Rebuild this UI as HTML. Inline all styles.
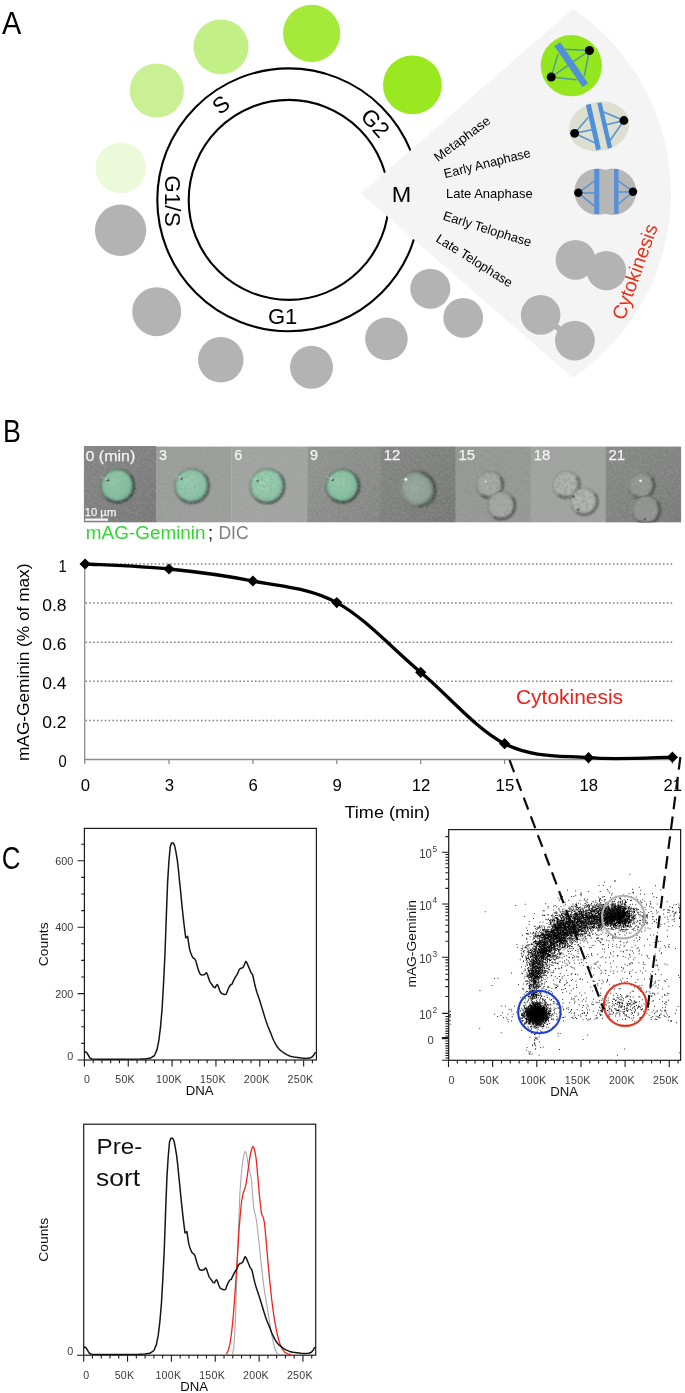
<!DOCTYPE html>
<html><head><meta charset="utf-8"><title>Figure</title>
<style>
html,body{margin:0;padding:0;background:#fff;}
body{width:685px;height:1393px;overflow:hidden;}
svg{display:block;will-change:transform;font-family:"Liberation Sans",sans-serif;}
</style></head><body>
<svg width="685" height="1393" viewBox="0 0 685 1393">
<rect width="685" height="1393" fill="#fff"/>
<defs>
  <filter id="mblur" x="-20%" y="-20%" width="140%" height="140%"><feGaussianBlur stdDeviation="0.7"/></filter>
  <filter id="cblur" x="-30%" y="-30%" width="160%" height="160%"><feGaussianBlur stdDeviation="1.0"/></filter>
  <filter id="cblur3" x="-20%" y="-20%" width="140%" height="140%"><feGaussianBlur stdDeviation="0.8"/></filter>
  <filter id="cblur2" x="-20%" y="-20%" width="140%" height="140%"><feGaussianBlur stdDeviation="0.6"/></filter>
  <filter id="noise" x="0" y="0" width="100%" height="100%">
    <feTurbulence type="fractalNoise" baseFrequency="0.42" numOctaves="2" seed="7" result="t"/>
    <feColorMatrix in="t" type="matrix" values="0 0 0 0 0.5  0 0 0 0 0.5  0 0 0 0 0.5  1.6 0 0 0 -0.55"/>
  </filter>
  <filter id="mottle" x="0" y="0" width="100%" height="100%">
    <feTurbulence type="fractalNoise" baseFrequency="0.33" numOctaves="3" seed="11" result="t"/>
    <feColorMatrix in="t" type="matrix" values="0 0 0 0 0.25  0 0 0 0 0.50  0 0 0 0 0.37  5.5 0 0 0 -2.4"/>
  </filter>
  <filter id="mottle2" x="0" y="0" width="100%" height="100%">
    <feTurbulence type="fractalNoise" baseFrequency="0.28" numOctaves="3" seed="23" result="t"/>
    <feColorMatrix in="t" type="matrix" values="0 0 0 0 0.30  0 0 0 0 0.31  0 0 0 0 0.30  4.2 0 0 0 -1.85"/>
  </filter>
  <linearGradient id="vig" x1="0" y1="0" x2="1" y2="1">
    <stop offset="0" stop-color="#fff" stop-opacity="0.04"/><stop offset="1" stop-color="#000" stop-opacity="0.07"/>
  </linearGradient>
  <radialGradient id="gg1" cx="0.4" cy="0.4" r="0.62"><stop offset="0" stop-color="#8fcaa8"/><stop offset="0.75" stop-color="#80bc9b"/><stop offset="1" stop-color="#6a9f85"/></radialGradient>
  <radialGradient id="gg2" cx="0.4" cy="0.4" r="0.62"><stop offset="0" stop-color="#98d2b0"/><stop offset="0.75" stop-color="#89c3a3"/><stop offset="1" stop-color="#75a88e"/></radialGradient>
  <radialGradient id="gg3" cx="0.4" cy="0.4" r="0.62"><stop offset="0" stop-color="#9dd6b5"/><stop offset="0.75" stop-color="#8fc8a8"/><stop offset="1" stop-color="#7bae94"/></radialGradient>
  <radialGradient id="gg4" cx="0.4" cy="0.4" r="0.62"><stop offset="0" stop-color="#92cdab"/><stop offset="0.75" stop-color="#83be9d"/><stop offset="1" stop-color="#6da288"/></radialGradient>
  <radialGradient id="gg5" cx="0.4" cy="0.4" r="0.62"><stop offset="0" stop-color="#96aca1"/><stop offset="0.75" stop-color="#8a9e94"/><stop offset="1" stop-color="#76867e"/></radialGradient>
</defs>

<!-- ===== Panel A ===== -->
<g id="panelA">
  <text x="2.1" y="34.3" font-size="30.5" textLength="19.3" lengthAdjust="spacingAndGlyphs">A</text>
  <!-- ring -->
  <circle cx="288.7" cy="199.8" r="131.4" fill="none" stroke="#000" stroke-width="2.1"/>
  <circle cx="288.7" cy="199.9" r="100" fill="none" stroke="#000" stroke-width="2.1"/>
  <!-- ring labels -->
  <text x="282.6" y="324.3" font-size="22" text-anchor="middle">G1</text>
  <text transform="translate(220.7,104.5) rotate(-38)" font-size="22.5" text-anchor="middle" y="8">S</text>
  <text transform="translate(172.5,201) rotate(90)" font-size="22.5" text-anchor="middle" y="8">G1/S</text>
  <text transform="translate(375.5,122.8) rotate(48)" font-size="22.5" text-anchor="middle" y="8">G2</text>
  <!-- cells around ring -->
  <circle cx="120.8" cy="167.8" r="25.3" fill="#ecfada"/>
  <circle cx="156.8" cy="90.5" r="27.1" fill="#c9f193"/>
  <circle cx="221" cy="46.9" r="27.5" fill="#c2ef86"/>
  <circle cx="311.6" cy="33.3" r="28.6" fill="#a5e93a"/>
  <circle cx="412.4" cy="84.9" r="29.4" fill="#9ae81f"/>
  <g fill="#b3b3b3">
    <circle cx="120.6" cy="230.3" r="25.7"/>
    <circle cx="156.7" cy="311.7" r="24.5"/>
    <circle cx="220.8" cy="359.8" r="22.8"/>
    <circle cx="311.5" cy="367.3" r="21.5"/>
    <circle cx="386.4" cy="338.9" r="21.3"/>
    <circle cx="430.3" cy="288.7" r="20.05"/>
    <circle cx="463.2" cy="317.8" r="19.9"/>
  </g>
  <!-- wedge -->
  <path d="M360.9,193.4 L573,8.8 A223,223 0 0 1 573,378 Z" fill="#f4f4f4"/>
  <text x="391.8" y="201.8" font-size="21.8" textLength="19.5" lengthAdjust="spacingAndGlyphs">M</text>
  <g font-size="13">
    <text transform="translate(438.1,162.2) rotate(-36.7)" textLength="66.5" lengthAdjust="spacingAndGlyphs">Metaphase</text>
    <text transform="translate(445.1,178.3) rotate(-14)" textLength="88.8" lengthAdjust="spacingAndGlyphs">Early Anaphase</text>
    <text x="446.0" y="198.2" textLength="86.6" lengthAdjust="spacingAndGlyphs">Late Anaphase</text>
    <text transform="translate(442.3,219.5) rotate(17.3)" textLength="91.6" lengthAdjust="spacingAndGlyphs">Early Telophase</text>
    <text transform="translate(435.0,240.9) rotate(32.2)" textLength="87.6" lengthAdjust="spacingAndGlyphs">Late Telophase</text>
  </g>
  <text transform="translate(624.3,321) rotate(-70.3)" font-size="19.5" fill="#e8301a" textLength="100" lengthAdjust="spacingAndGlyphs">Cytokinesis</text>
  <!-- metaphase cell -->
  <circle cx="571.35" cy="65.7" r="30.6" fill="#94e61e"/>
  <g stroke="#4f9aa0" stroke-width="1.5" fill="none">
    <path d="M589.4,50.5 L565.1,49.2 M589.4,50.5 L551.2,77.1 M589.4,50.5 L584.3,76 M551.2,77.1 L558,54.1 M551.2,77.1 L576.6,79.8"/>
  </g>
  <path d="M554.2,45.9 L560.2,42.3 L588.1,83.3 L582.6,86.9 Z" fill="#4f8fdc"/>
  <circle cx="589.4" cy="50.5" r="4.5"/><circle cx="551.2" cy="77.1" r="4.5"/>
  <!-- early anaphase cell -->
  <ellipse cx="599.05" cy="126.5" rx="30.6" ry="24.6" fill="#dde0d1" transform="rotate(-14 599.05 126.5)"/>
  <g stroke="#5592d6" stroke-width="1.5" fill="none">
    <path d="M574.6,133.3 L588.3,117.2 M574.6,133.3 L592.1,129.8 M574.6,133.3 L594.8,142.9 M623.9,120.5 L603.1,111.7 M623.9,120.5 L606.3,124.8 M623.9,120.5 L610.2,140.2"/>
  </g>
  <path d="M585.9,104.9 L590.7,103.8 L600.9,148.9 L596.2,150.6 Z M597.3,102.9 L601.6,102.4 L612.1,147.3 L607.8,148.7 Z" fill="#4f8fdc"/>
  <circle cx="623.9" cy="120.5" r="4.4"/><circle cx="574.6" cy="133.3" r="4.4"/>
  <!-- late anaphase cell -->
  <g fill="#b7b7b7"><circle cx="597.6" cy="191.7" r="23.2"/><circle cx="613" cy="191.7" r="23.2"/></g>
  <g stroke="#5592d6" stroke-width="1.5" fill="none">
    <path d="M578.3,192.8 L594.4,181 M578.3,192.8 L594.4,193 M578.3,192.8 L594.4,206.2 M633,191.7 L618.5,181 M633,191.7 L618.5,191.9 M633,191.7 L618.5,204"/>
  </g>
  <path d="M594.2,169 h5.1 v44.8 h-5.1 Z M614.1,169 h4.4 v44.8 h-4.4 Z" fill="#558fd8"/>
  <circle cx="578.3" cy="192.8" r="4.2"/><circle cx="633" cy="191.7" r="4.2"/>
  <!-- telophase cells -->
  <g fill="#b3b3b3">
    <circle cx="575.5" cy="259.8" r="19.9"/>
    <circle cx="606.4" cy="270.6" r="19.7"/>
    <circle cx="540.65" cy="314.9" r="19.8"/>
    <circle cx="574.9" cy="340.6" r="19.9"/>
  </g>
  <path d="M540.65,314.9 L574.9,340.6" stroke="#b3b3b3" stroke-width="6"/>
</g>
<text x="2.9" y="441.7" font-size="30.5" textLength="17.9" lengthAdjust="spacingAndGlyphs">B</text>
<text x="1.8" y="869" font-size="30.5" textLength="18.7" lengthAdjust="spacingAndGlyphs">C</text>

<!-- ===== Panel B strip ===== -->
<clipPath id="stripclip"><rect x="83.7" y="445.9" width="597.6" height="76.7"/></clipPath>
<g id="panelBstrip"><g clip-path="url(#stripclip)">
<rect x="83.7" y="445.9" width="72.7" height="76.7" fill="#7d7e7d"/>
<rect x="156.1" y="446.6" width="75.5" height="76.0" fill="#9a9c9a"/>
<rect x="231.3" y="446.6" width="76.2" height="76.0" fill="#a1a3a1"/>
<rect x="307.2" y="446.6" width="73.9" height="76.0" fill="#8b8d8b"/>
<rect x="380.8" y="446.6" width="75.1" height="76.0" fill="#7c7e7c"/>
<rect x="455.6" y="446.6" width="75.5" height="76.0" fill="#949694"/>
<rect x="530.8" y="446.6" width="75.1" height="76.0" fill="#a0a2a0"/>
<rect x="605.6" y="446.6" width="75.7" height="76.0" fill="#808280"/>
<rect x="83.7" y="445.9" width="72.4" height="76.7" fill="url(#vig)"/>
<rect x="307.2" y="446.6" width="73.6" height="76.0" fill="url(#vig)"/>
<rect x="380.8" y="446.6" width="74.8" height="76.0" fill="url(#vig)"/>
<rect x="605.6" y="446.6" width="75.4" height="76.0" fill="url(#vig)"/>
<g><ellipse cx="118.0" cy="486.40000000000003" rx="16.9" ry="16.9" fill="#3c443f" opacity="0.55" filter="url(#cblur)"/><ellipse cx="116.2" cy="484.6" rx="16.3" ry="16.3" fill="#cfe0d6" opacity="0.45" filter="url(#cblur)"/><ellipse cx="117.2" cy="485.6" rx="16.0" ry="16.0" fill="url(#gg1)" filter="url(#cblur2)"/><clipPath id="cc1"><ellipse cx="117.2" cy="485.6" rx="15.7" ry="15.7"/></clipPath><rect x="100.2" y="468.6" width="34.0" height="34.0" clip-path="url(#cc1)" filter="url(#mottle)" opacity="0.8"/><ellipse cx="117.2" cy="485.6" rx="16.3" ry="16.3" fill="none" stroke="#34503f" stroke-width="2.0" opacity="0.61" filter="url(#cblur3)"/><path d="M129.84,474.99 A16.5,16.5 0 0 1 106.59,498.24" fill="none" stroke="#26322b" stroke-width="2.4" opacity="0.39" filter="url(#cblur)"/></g>
<g><ellipse cx="192.4" cy="486.5" rx="17.299999999999997" ry="17.299999999999997" fill="#3c443f" opacity="0.45" filter="url(#cblur)"/><ellipse cx="190.6" cy="484.7" rx="16.7" ry="16.7" fill="#cfe0d6" opacity="0.45" filter="url(#cblur)"/><ellipse cx="191.6" cy="485.7" rx="16.4" ry="16.4" fill="url(#gg2)" filter="url(#cblur2)"/><clipPath id="cc2"><ellipse cx="191.6" cy="485.7" rx="16.099999999999998" ry="16.099999999999998"/></clipPath><rect x="174.2" y="468.3" width="34.8" height="34.8" clip-path="url(#cc2)" filter="url(#mottle)" opacity="0.8"/><ellipse cx="191.6" cy="485.7" rx="16.7" ry="16.7" fill="none" stroke="#34503f" stroke-width="2.0" opacity="0.50" filter="url(#cblur3)"/><path d="M204.55,474.84 A16.9,16.9 0 0 1 180.74,498.65" fill="none" stroke="#26322b" stroke-width="2.4" opacity="0.32" filter="url(#cblur)"/></g>
<g><ellipse cx="267.8" cy="486.6" rx="17.5" ry="17.5" fill="#3c443f" opacity="0.45" filter="url(#cblur)"/><ellipse cx="266.0" cy="484.8" rx="16.900000000000002" ry="16.900000000000002" fill="#cfe0d6" opacity="0.45" filter="url(#cblur)"/><ellipse cx="267.0" cy="485.8" rx="16.6" ry="16.6" fill="url(#gg3)" filter="url(#cblur2)"/><clipPath id="cc3"><ellipse cx="267.0" cy="485.8" rx="16.3" ry="16.3"/></clipPath><rect x="249.4" y="468.2" width="35.2" height="35.2" clip-path="url(#cc3)" filter="url(#mottle)" opacity="0.8"/><ellipse cx="267.0" cy="485.8" rx="16.900000000000002" ry="16.900000000000002" fill="none" stroke="#34503f" stroke-width="2.0" opacity="0.50" filter="url(#cblur3)"/><path d="M280.10,474.81 A17.1,17.1 0 0 1 256.01,498.90" fill="none" stroke="#26322b" stroke-width="2.4" opacity="0.32" filter="url(#cblur)"/></g>
<g><ellipse cx="343.1" cy="486.6" rx="16.9" ry="16.9" fill="#3c443f" opacity="0.55" filter="url(#cblur)"/><ellipse cx="341.3" cy="484.8" rx="16.3" ry="16.3" fill="#cfe0d6" opacity="0.45" filter="url(#cblur)"/><ellipse cx="342.3" cy="485.8" rx="16.0" ry="16.0" fill="url(#gg4)" filter="url(#cblur2)"/><clipPath id="cc4"><ellipse cx="342.3" cy="485.8" rx="15.7" ry="15.7"/></clipPath><rect x="325.3" y="468.8" width="34.0" height="34.0" clip-path="url(#cc4)" filter="url(#mottle)" opacity="0.8"/><ellipse cx="342.3" cy="485.8" rx="16.3" ry="16.3" fill="none" stroke="#34503f" stroke-width="2.0" opacity="0.61" filter="url(#cblur3)"/><path d="M354.94,475.19 A16.5,16.5 0 0 1 331.69,498.44" fill="none" stroke="#26322b" stroke-width="2.4" opacity="0.39" filter="url(#cblur)"/></g>
<g transform="rotate(-40 418.0 489.0)"><ellipse cx="418.8" cy="489.8" rx="16.7" ry="18.299999999999997" fill="#3c443f" opacity="0.6" filter="url(#cblur)"/><ellipse cx="417.0" cy="488.0" rx="16.1" ry="17.7" fill="#cfe0d6" opacity="0.45" filter="url(#cblur)"/><ellipse cx="418.0" cy="489.0" rx="15.8" ry="17.4" fill="url(#gg5)" filter="url(#cblur2)"/><clipPath id="cc5"><ellipse cx="418.0" cy="489.0" rx="15.5" ry="17.099999999999998"/></clipPath><rect x="401.2" y="470.6" width="33.6" height="36.8" clip-path="url(#cc5)" filter="url(#mottle2)" opacity="0.4"/><ellipse cx="418.0" cy="489.0" rx="16.1" ry="17.7" fill="none" stroke="#3a403c" stroke-width="2.0" opacity="0.33" filter="url(#cblur3)"/><path d="M430.49,478.52 A16.3,16.3 0 0 1 407.52,501.49" fill="none" stroke="#26322b" stroke-width="2.4" opacity="0.42" filter="url(#cblur)"/></g>
<path d="M107.3,479.7 l-6.5,-3.2" stroke="#c9ccc9" stroke-width="1.8" opacity="0.3" filter="url(#cblur2)"/>
<circle cx="107.8" cy="480.2" r="1.4" fill="#465048" opacity="0.9" filter="url(#cblur2)"/>
<circle cx="106.89999999999999" cy="479.3" r="0.8" fill="#e6efe9" opacity="0.9" filter="url(#cblur2)"/>
<path d="M181.1,478.1 l-6.5,-3.2" stroke="#c9ccc9" stroke-width="1.8" opacity="0.3" filter="url(#cblur2)"/>
<circle cx="181.6" cy="478.6" r="1.4" fill="#465048" opacity="0.9" filter="url(#cblur2)"/>
<circle cx="180.7" cy="477.70000000000005" r="0.8" fill="#e6efe9" opacity="0.9" filter="url(#cblur2)"/>
<path d="M256.9,480.1 l-6.5,-3.2" stroke="#c9ccc9" stroke-width="1.8" opacity="0.3" filter="url(#cblur2)"/>
<circle cx="257.4" cy="480.6" r="1.4" fill="#465048" opacity="0.9" filter="url(#cblur2)"/>
<circle cx="256.5" cy="479.70000000000005" r="0.8" fill="#e6efe9" opacity="0.9" filter="url(#cblur2)"/>
<path d="M332.1,479.3 l-6.5,-3.2" stroke="#c9ccc9" stroke-width="1.8" opacity="0.3" filter="url(#cblur2)"/>
<circle cx="332.6" cy="479.8" r="1.4" fill="#465048" opacity="0.9" filter="url(#cblur2)"/>
<circle cx="331.70000000000005" cy="478.90000000000003" r="0.8" fill="#e6efe9" opacity="0.9" filter="url(#cblur2)"/>
<circle cx="405.8" cy="479.2" r="1.5" fill="#f4f8f4" filter="url(#cblur2)"/>
<circle cx="489.6" cy="484.6" r="12.899999999999999" fill="#a6a8a6" filter="url(#cblur2)"/><clipPath id="cc6"><circle cx="489.6" cy="484.6" r="12.6"/></clipPath><rect x="475.40000000000003" y="470.40000000000003" width="28.4" height="28.4" clip-path="url(#cc6)" filter="url(#mottle2)" opacity="0.6"/><circle cx="489.6" cy="484.6" r="13.2" fill="none" stroke="#3c3e3c" stroke-width="1.7" opacity="0.38" filter="url(#cblur3)"/><path d="M500.41,477.03 A13.2,13.2 0 0 1 482.03,495.41" fill="none" stroke="#262826" stroke-width="2.6" opacity="0.52" filter="url(#cblur)"/><path d="M476.35,489.42 A14.1,14.1 0 0 1 494.42,471.35" fill="none" stroke="#e2e4e2" stroke-width="1.5" opacity="0.25" filter="url(#cblur3)"/>
<circle cx="501.2" cy="505.4" r="13.299999999999999" fill="#a5a7a5" filter="url(#cblur2)"/><clipPath id="cc7"><circle cx="501.2" cy="505.4" r="13.0"/></clipPath><rect x="486.59999999999997" y="490.79999999999995" width="29.2" height="29.2" clip-path="url(#cc7)" filter="url(#mottle2)" opacity="0.6"/><circle cx="501.2" cy="505.4" r="13.6" fill="none" stroke="#3c3e3c" stroke-width="1.7" opacity="0.38" filter="url(#cblur3)"/><path d="M512.34,497.60 A13.6,13.6 0 0 1 493.40,516.54" fill="none" stroke="#262826" stroke-width="2.6" opacity="0.52" filter="url(#cblur)"/><path d="M487.57,510.36 A14.5,14.5 0 0 1 506.16,491.77" fill="none" stroke="#e2e4e2" stroke-width="1.5" opacity="0.25" filter="url(#cblur3)"/>
<circle cx="566.0" cy="484.4" r="12.899999999999999" fill="#b0b2b0" filter="url(#cblur2)"/><clipPath id="cc8"><circle cx="566.0" cy="484.4" r="12.6"/></clipPath><rect x="551.8" y="470.2" width="28.4" height="28.4" clip-path="url(#cc8)" filter="url(#mottle2)" opacity="0.6"/><circle cx="566.0" cy="484.4" r="13.2" fill="none" stroke="#3c3e3c" stroke-width="1.7" opacity="0.33" filter="url(#cblur3)"/><path d="M576.81,476.83 A13.2,13.2 0 0 1 558.43,495.21" fill="none" stroke="#262826" stroke-width="2.6" opacity="0.45" filter="url(#cblur)"/><path d="M552.75,489.22 A14.1,14.1 0 0 1 570.82,471.15" fill="none" stroke="#e2e4e2" stroke-width="1.5" opacity="0.25" filter="url(#cblur3)"/>
<circle cx="584.0" cy="501.4" r="12.899999999999999" fill="#b1b3b1" filter="url(#cblur2)"/><clipPath id="cc9"><circle cx="584.0" cy="501.4" r="12.6"/></clipPath><rect x="569.8" y="487.2" width="28.4" height="28.4" clip-path="url(#cc9)" filter="url(#mottle2)" opacity="0.6"/><circle cx="584.0" cy="501.4" r="13.2" fill="none" stroke="#3c3e3c" stroke-width="1.7" opacity="0.33" filter="url(#cblur3)"/><path d="M594.81,493.83 A13.2,13.2 0 0 1 576.43,512.21" fill="none" stroke="#262826" stroke-width="2.6" opacity="0.45" filter="url(#cblur)"/><path d="M570.75,506.22 A14.1,14.1 0 0 1 588.82,488.15" fill="none" stroke="#e2e4e2" stroke-width="1.5" opacity="0.25" filter="url(#cblur3)"/>
<circle cx="641.2" cy="485.2" r="12.5" fill="#909290" filter="url(#cblur2)"/><clipPath id="cc10"><circle cx="641.2" cy="485.2" r="12.200000000000001"/></clipPath><rect x="627.4000000000001" y="471.4" width="27.6" height="27.6" clip-path="url(#cc10)" filter="url(#mottle2)" opacity="0.6"/><circle cx="641.2" cy="485.2" r="12.8" fill="none" stroke="#3c3e3c" stroke-width="1.7" opacity="0.38" filter="url(#cblur3)"/><path d="M651.69,477.86 A12.8,12.8 0 0 1 633.86,495.69" fill="none" stroke="#262826" stroke-width="2.6" opacity="0.52" filter="url(#cblur)"/><path d="M628.33,489.89 A13.700000000000001,13.700000000000001 0 0 1 645.89,472.33" fill="none" stroke="#e2e4e2" stroke-width="1.5" opacity="0.25" filter="url(#cblur3)"/>
<circle cx="646.0" cy="509.8" r="13.5" fill="#8f918f" filter="url(#cblur2)"/><clipPath id="cc11"><circle cx="646.0" cy="509.8" r="13.200000000000001"/></clipPath><rect x="631.2" y="495.0" width="29.6" height="29.6" clip-path="url(#cc11)" filter="url(#mottle2)" opacity="0.6"/><circle cx="646.0" cy="509.8" r="13.8" fill="none" stroke="#3c3e3c" stroke-width="1.7" opacity="0.38" filter="url(#cblur3)"/><path d="M657.30,501.88 A13.8,13.8 0 0 1 638.08,521.10" fill="none" stroke="#262826" stroke-width="2.6" opacity="0.52" filter="url(#cblur)"/><path d="M632.19,514.83 A14.700000000000001,14.700000000000001 0 0 1 651.03,495.99" fill="none" stroke="#e2e4e2" stroke-width="1.5" opacity="0.25" filter="url(#cblur3)"/>
<circle cx="485.8" cy="481.6" r="1.2" fill="#eceeec" opacity="0.75" filter="url(#cblur2)"/>
<circle cx="640.6" cy="480.8" r="1.4" fill="#f2f4f2" filter="url(#cblur2)"/>
<circle cx="573.5" cy="496.5" r="1.6" fill="#4e504e" opacity="0.7" filter="url(#cblur2)"/>
<circle cx="578.0" cy="509.5" r="1.6" fill="#4e504e" opacity="0.7" filter="url(#cblur2)"/>
<circle cx="644.8" cy="519.0" r="1.6" fill="#4e504e" opacity="0.7" filter="url(#cblur2)"/>
<rect x="83.7" y="445.9" width="597.6" height="76.7" filter="url(#noise)" opacity="0.32"/>
</g>
<text x="85.5" y="460.6" font-size="14.9" fill="#f4f4f4" stroke="#f4f4f4" stroke-width="0.25" textLength="49.8" lengthAdjust="spacingAndGlyphs">0 (min)</text>
<text x="159.0" y="460.3" font-size="15.2" fill="#f4f4f4" stroke="#f4f4f4" stroke-width="0.25" textLength="8.0" lengthAdjust="spacingAndGlyphs">3</text>
<text x="234.2" y="460.3" font-size="15.2" fill="#f4f4f4" stroke="#f4f4f4" stroke-width="0.25" textLength="8.0" lengthAdjust="spacingAndGlyphs">6</text>
<text x="310.1" y="460.3" font-size="15.2" fill="#f4f4f4" stroke="#f4f4f4" stroke-width="0.25" textLength="8.0" lengthAdjust="spacingAndGlyphs">9</text>
<text x="383.7" y="460.3" font-size="15.2" fill="#f4f4f4" stroke="#f4f4f4" stroke-width="0.25" textLength="16.6" lengthAdjust="spacingAndGlyphs">12</text>
<text x="458.5" y="460.3" font-size="15.2" fill="#f4f4f4" stroke="#f4f4f4" stroke-width="0.25" textLength="16.6" lengthAdjust="spacingAndGlyphs">15</text>
<text x="533.7" y="460.3" font-size="15.2" fill="#f4f4f4" stroke="#f4f4f4" stroke-width="0.25" textLength="16.6" lengthAdjust="spacingAndGlyphs">18</text>
<text x="608.5" y="460.3" font-size="15.2" fill="#f4f4f4" stroke="#f4f4f4" stroke-width="0.25" textLength="16.6" lengthAdjust="spacingAndGlyphs">21</text>
<rect x="85.2" y="518.5" width="22.8" height="2.3" fill="#f4f4f4"/>
<text x="84.7" y="515.7" font-size="10.8" fill="#f4f4f4" stroke="#f4f4f4" stroke-width="0.25" textLength="31.6" lengthAdjust="spacingAndGlyphs">10 µm</text>
<text x="85.8" y="538.9" font-size="18.3" fill="#30d830" textLength="119.8" lengthAdjust="spacingAndGlyphs">mAG-Geminin</text>
<text x="208" y="538.9" font-size="18.3" fill="#111">;</text>
<text x="218.4" y="538.9" font-size="18.3" fill="#7f7f7f" textLength="30.3" lengthAdjust="spacingAndGlyphs">DIC</text>
</g>
<!-- ===== Panel B chart ===== -->
<g id="panelBchart">
<line x1="85.5" y1="720.4" x2="674.5" y2="720.4" stroke="#7c7c7c" stroke-width="1.5" stroke-dasharray="1.5 2.35"/>
<line x1="85.5" y1="681.3" x2="674.5" y2="681.3" stroke="#7c7c7c" stroke-width="1.5" stroke-dasharray="1.5 2.35"/>
<line x1="85.5" y1="642.2" x2="674.5" y2="642.2" stroke="#7c7c7c" stroke-width="1.5" stroke-dasharray="1.5 2.35"/>
<line x1="85.5" y1="603.1" x2="674.5" y2="603.1" stroke="#7c7c7c" stroke-width="1.5" stroke-dasharray="1.5 2.35"/>
<line x1="85.5" y1="564.0" x2="674.5" y2="564.0" stroke="#7c7c7c" stroke-width="1.5" stroke-dasharray="1.5 2.35"/>
<line x1="84.7" y1="563" x2="84.7" y2="764.0" stroke="#8e8e8e" stroke-width="1.3"/>
<line x1="84.1" y1="759.5" x2="674.5" y2="759.5" stroke="#8e8e8e" stroke-width="1.3"/>
<line x1="169.0" y1="759.0" x2="169.0" y2="764.0" stroke="#8e8e8e" stroke-width="1.3"/>
<line x1="252.9" y1="759.0" x2="252.9" y2="764.0" stroke="#8e8e8e" stroke-width="1.3"/>
<line x1="336.8" y1="759.0" x2="336.8" y2="764.0" stroke="#8e8e8e" stroke-width="1.3"/>
<line x1="420.7" y1="759.0" x2="420.7" y2="764.0" stroke="#8e8e8e" stroke-width="1.3"/>
<line x1="504.6" y1="759.0" x2="504.6" y2="764.0" stroke="#8e8e8e" stroke-width="1.3"/>
<line x1="588.5" y1="759.0" x2="588.5" y2="764.0" stroke="#8e8e8e" stroke-width="1.3"/>
<line x1="672.4" y1="759.0" x2="672.4" y2="764.0" stroke="#8e8e8e" stroke-width="1.3"/>
<text x="58.4" y="767.0" font-size="15.8" textLength="8.2" lengthAdjust="spacingAndGlyphs">0</text>
<text x="42.2" y="727.9" font-size="15.8" textLength="24.4" lengthAdjust="spacingAndGlyphs">0.2</text>
<text x="42.2" y="688.8" font-size="15.8" textLength="24.4" lengthAdjust="spacingAndGlyphs">0.4</text>
<text x="42.2" y="649.7" font-size="15.8" textLength="24.4" lengthAdjust="spacingAndGlyphs">0.6</text>
<text x="42.2" y="610.6" font-size="15.8" textLength="24.4" lengthAdjust="spacingAndGlyphs">0.8</text>
<text x="58.4" y="571.5" font-size="15.8" textLength="8.2" lengthAdjust="spacingAndGlyphs">1</text>
<text x="80.7" y="790.8" font-size="16.3" textLength="9.3" lengthAdjust="spacingAndGlyphs">0</text>
<text x="164.7" y="790.8" font-size="16.3" textLength="9.3" lengthAdjust="spacingAndGlyphs">3</text>
<text x="248.6" y="790.8" font-size="16.3" textLength="9.3" lengthAdjust="spacingAndGlyphs">6</text>
<text x="332.5" y="790.8" font-size="16.3" textLength="9.3" lengthAdjust="spacingAndGlyphs">9</text>
<text x="411.7" y="790.8" font-size="16.3" textLength="18.6" lengthAdjust="spacingAndGlyphs">12</text>
<text x="495.6" y="790.8" font-size="16.3" textLength="18.6" lengthAdjust="spacingAndGlyphs">15</text>
<text x="579.5" y="790.8" font-size="16.3" textLength="18.6" lengthAdjust="spacingAndGlyphs">18</text>
<text x="663.4" y="790.8" font-size="16.3" textLength="18.6" lengthAdjust="spacingAndGlyphs">21</text>
<text x="344.5" y="818" font-size="16.5" textLength="85.5" lengthAdjust="spacingAndGlyphs">Time (min)</text>
<text transform="translate(28.7,761) rotate(-90)" font-size="16.8" textLength="197.5" lengthAdjust="spacingAndGlyphs">mAG-Geminin (% of max)</text>
<text x="516" y="704" font-size="20" fill="#e8201a" textLength="107" lengthAdjust="spacingAndGlyphs">Cytokinesis</text>
<path d="M85.1,564.0 C99.1,564.8 141.0,566.2 169.0,569.0 C197.0,571.8 224.9,575.4 252.9,581.0 C280.9,586.6 308.8,587.4 336.8,602.6 C364.8,617.8 392.7,648.8 420.7,672.3 C448.7,695.8 476.6,729.5 504.6,743.7 C532.6,757.9 560.5,755.5 588.5,757.7 C616.5,760.0 658.4,757.3 672.4,757.2" fill="none" stroke="#000" stroke-width="3.3" stroke-linejoin="round" stroke-linecap="round"/>
<g filter="url(#mblur)">
<path d="M79.5,564.0 L85.1,558.4 L90.7,564.0 L85.1,569.6 Z" fill="#000"/>
<path d="M163.4,569.0 L169.0,563.4 L174.6,569.0 L169.0,574.6 Z" fill="#000"/>
<path d="M247.3,581.0 L252.9,575.4 L258.5,581.0 L252.9,586.6 Z" fill="#000"/>
<path d="M331.2,602.6 L336.8,597.0 L342.4,602.6 L336.8,608.2 Z" fill="#000"/>
<path d="M415.1,672.3 L420.7,666.7 L426.3,672.3 L420.7,677.9 Z" fill="#000"/>
<path d="M499.0,743.7 L504.6,738.1 L510.2,743.7 L504.6,749.3 Z" fill="#000"/>
<path d="M582.9,757.7 L588.5,752.1 L594.1,757.7 L588.5,763.3 Z" fill="#000"/>
<path d="M666.8,757.2 L672.4,751.6 L678.0,757.2 L672.4,762.8 Z" fill="#000"/>
</g>
</g>
<!-- ===== Panel C hist1 ===== -->
<g id="hist1">
<rect x="84.4" y="828.4" width="232.0" height="231.6" fill="#fff" stroke="#1a1a1a" stroke-width="1.2"/>
<path d="M84.40,1060.0 v6.6 M93.17,1060.0 v3.2 M101.94,1060.0 v3.2 M110.71,1060.0 v3.2 M119.48,1060.0 v3.2 M128.25,1060.0 v6.6 M137.02,1060.0 v3.2 M145.79,1060.0 v3.2 M154.56,1060.0 v3.2 M163.33,1060.0 v3.2 M172.10,1060.0 v6.6 M180.87,1060.0 v3.2 M189.64,1060.0 v3.2 M198.41,1060.0 v3.2 M207.18,1060.0 v3.2 M215.95,1060.0 v6.6 M224.72,1060.0 v3.2 M233.49,1060.0 v3.2 M242.26,1060.0 v3.2 M251.03,1060.0 v3.2 M259.80,1060.0 v6.6 M268.57,1060.0 v3.2 M277.34,1060.0 v3.2 M286.11,1060.0 v3.2 M294.88,1060.0 v3.2 M303.65,1060.0 v6.6 M312.42,1060.0 v3.2 M84.4,1060.00 h-6.8 M84.4,1043.40 h-3.2 M84.4,1026.80 h-3.2 M84.4,1010.20 h-3.2 M84.4,993.60 h-6.8 M84.4,977.00 h-3.2 M84.4,960.40 h-3.2 M84.4,943.80 h-3.2 M84.4,927.20 h-6.8 M84.4,910.60 h-3.2 M84.4,894.00 h-3.2 M84.4,877.40 h-3.2 M84.4,860.80 h-6.8 M84.4,844.20 h-3.2" stroke="#1a1a1a" stroke-width="1.1" fill="none"/>
<text x="84.0" y="1083.3" font-size="10.6" fill="#3a3a3a" textLength="5.9" lengthAdjust="spacing">0</text>
<text x="115.3" y="1083.3" font-size="10.6" fill="#3a3a3a" textLength="19.4" lengthAdjust="spacing">50K</text>
<text x="156.1" y="1083.3" font-size="10.6" fill="#3a3a3a" textLength="25.6" lengthAdjust="spacing">100K</text>
<text x="200.0" y="1083.3" font-size="10.6" fill="#3a3a3a" textLength="25.6" lengthAdjust="spacing">150K</text>
<text x="243.8" y="1083.3" font-size="10.6" fill="#3a3a3a" textLength="25.6" lengthAdjust="spacing">200K</text>
<text x="287.6" y="1083.3" font-size="10.6" fill="#3a3a3a" textLength="25.6" lengthAdjust="spacing">250K</text>
<text x="73.2" y="1060.2" font-size="10.8" fill="#3a3a3a" text-anchor="end">0</text>
<text x="73.2" y="997.5" font-size="10.8" fill="#3a3a3a" text-anchor="end">200</text>
<text x="73.2" y="931.1" font-size="10.8" fill="#3a3a3a" text-anchor="end">400</text>
<text x="73.2" y="864.7" font-size="10.8" fill="#3a3a3a" text-anchor="end">600</text>
<text x="199.7" y="1095.4" font-size="13.2" fill="#0a0a0a" text-anchor="middle">DNA</text>
<text transform="translate(48.2,966.2) rotate(-90)" font-size="12.6" fill="#111" textLength="43.8" lengthAdjust="spacingAndGlyphs">Counts</text>

<path d="M84.6,1052.5 L85.5,1051.8 L86.8,1052.6 L88.2,1055.0 L89.8,1057.8 L91.8,1059.0 L100.0,1059.2 L120.0,1059.2 L140.0,1059.1 L145.3,1058.9 L150.5,1058.1 L154.5,1055.5 L157.1,1049.4 L158.9,1040.2 L160.5,1027.1 L162.1,1008.7 L163.6,982.4 L165.0,953.5 L166.3,916.7 L167.6,882.6 L168.9,861.5 L170.2,847.1 L171.5,843.1 L173.4,843.1 L174.7,845.8 L176.0,852.3 L177.3,860.2 L178.4,869.4 L179.4,879.9 L180.5,890.4 L181.5,900.9 L182.6,911.5 L183.6,920.7 L184.7,929.9 L185.7,937.7 L186.8,937.2 L187.6,936.4 L188.4,941.7 L189.4,948.2 L190.5,952.2 L191.8,955.6 L193.1,958.0 L194.7,958.8 L195.7,960.6 L196.8,964.5 L197.8,968.0 L199.1,971.9 L200.4,974.5 L202.5,975.1 L204.6,974.5 L206.2,972.7 L207.3,974.0 L208.3,977.2 L209.6,981.1 L210.9,983.2 L212.3,985.0 L213.6,987.1 L215.2,987.7 L216.2,985.6 L217.3,984.5 L218.3,986.4 L219.4,989.8 L220.9,992.9 L222.8,994.0 L224.6,994.5 L226.2,994.2 L227.5,990.8 L228.8,987.7 L230.4,985.0 L232.0,984.2 L233.3,981.1 L234.6,978.5 L236.2,975.8 L237.8,973.2 L239.1,969.8 L240.4,968.5 L242.0,968.0 L243.3,967.2 L244.6,964.0 L245.9,961.4 L246.9,962.7 L248.3,966.1 L249.6,969.3 L250.9,972.4 L252.5,974.5 L253.5,978.5 L254.6,983.7 L255.6,987.7 L256.9,992.4 L258.2,996.1 L259.8,1000.8 L261.4,1006.1 L263.0,1011.3 L264.6,1016.6 L266.1,1021.3 L267.7,1025.8 L269.3,1029.7 L270.9,1033.6 L272.4,1037.6 L274.0,1041.0 L275.6,1044.2 L277.2,1046.8 L279.3,1049.4 L281.9,1051.5 L284.5,1053.4 L287.2,1054.9 L290.3,1056.2 L293.7,1057.0 L297.7,1057.6 L301.6,1058.1 L305.5,1058.4 L309.5,1058.1 L312.1,1057.0 L314.0,1054.7 L315.5,1052.0" fill="none" stroke="#161616" stroke-width="1.5" stroke-linejoin="round"/>
</g>
<!-- ===== Panel C scatter ===== -->
<g id="scatter">
<rect x="448.7" y="829.6" width="231.9" height="230.7" fill="none" stroke="#1a1a1a" stroke-width="1.2"/>
<path d="M448.50,1060.3 v6.6 M457.33,1060.3 v3.2 M466.16,1060.3 v3.2 M474.99,1060.3 v3.2 M483.82,1060.3 v3.2 M492.65,1060.3 v6.6 M501.48,1060.3 v3.2 M510.31,1060.3 v3.2 M519.14,1060.3 v3.2 M527.97,1060.3 v3.2 M536.80,1060.3 v6.6 M545.63,1060.3 v3.2 M554.46,1060.3 v3.2 M563.29,1060.3 v3.2 M572.12,1060.3 v3.2 M580.95,1060.3 v6.6 M589.78,1060.3 v3.2 M598.61,1060.3 v3.2 M607.44,1060.3 v3.2 M616.27,1060.3 v3.2 M625.10,1060.3 v6.6 M633.93,1060.3 v3.2 M642.76,1060.3 v3.2 M651.59,1060.3 v3.2 M660.42,1060.3 v3.2 M669.25,1060.3 v6.6 M678.08,1060.3 v3.2 M448.7,852.20 h-6.6 M448.7,904.00 h-6.6 M448.7,957.30 h-6.6 M448.7,1013.40 h-6.6 M448.7,888.41 h-3.3 M448.7,879.29 h-3.3 M448.7,872.81 h-3.3 M448.7,867.79 h-3.3 M448.7,863.69 h-3.3 M448.7,860.22 h-3.3 M448.7,857.22 h-3.3 M448.7,854.57 h-3.3 M448.7,941.26 h-3.3 M448.7,931.87 h-3.3 M448.7,925.21 h-3.3 M448.7,920.04 h-3.3 M448.7,915.82 h-3.3 M448.7,912.26 h-3.3 M448.7,909.17 h-3.3 M448.7,906.44 h-3.3 M448.7,996.51 h-3.3 M448.7,986.63 h-3.3 M448.7,979.62 h-3.3 M448.7,974.19 h-3.3 M448.7,969.75 h-3.3 M448.7,965.99 h-3.3 M448.7,962.74 h-3.3 M448.7,959.87 h-3.3 M448.7,836.61 h-3.3 M448.7,1016.50 h-3.3 M448.7,1018.94 h-3.3 M448.7,1021.38 h-3.3 M448.7,1023.81 h-3.3 M448.7,1026.25 h-3.3 M448.7,1028.69 h-3.3 M448.7,1031.12 h-3.3 M448.7,1033.56 h-3.3 M448.7,1036.00 h-3.3 M448.7,1041.00 h-3.3 M448.7,1043.43 h-3.3 M448.7,1045.86 h-3.3 M448.7,1048.29 h-3.3 M448.7,1050.71 h-3.3 M448.7,1053.14 h-3.3 M448.7,1055.57 h-3.3 M448.7,1058.00 h-3.3 M448.7,1060.30 h-6.6" stroke="#1a1a1a" stroke-width="1.1" fill="none"/>
<path d="M448.7,1038.1 h-6.8" stroke="#1a1a1a" stroke-width="2.2" fill="none"/>
<text x="448.4" y="1083.6" font-size="10.6" fill="#3a3a3a" textLength="5.9" lengthAdjust="spacing">0</text>
<text x="479.6" y="1083.6" font-size="10.6" fill="#3a3a3a" textLength="19.4" lengthAdjust="spacing">50K</text>
<text x="520.6" y="1083.6" font-size="10.6" fill="#3a3a3a" textLength="25.6" lengthAdjust="spacing">100K</text>
<text x="564.8" y="1083.6" font-size="10.6" fill="#3a3a3a" textLength="25.6" lengthAdjust="spacing">150K</text>
<text x="608.9" y="1083.6" font-size="10.6" fill="#3a3a3a" textLength="25.6" lengthAdjust="spacing">200K</text>
<text x="653.1" y="1083.6" font-size="10.6" fill="#3a3a3a" textLength="25.6" lengthAdjust="spacing">250K</text>
<text x="419.2" y="858.2" font-size="12.8" fill="#3c3c3c" textLength="12.6" lengthAdjust="spacingAndGlyphs">10</text>
<text x="432.4" y="851.6" font-size="8.4" fill="#3c3c3c">5</text>
<text x="419.2" y="910.0" font-size="12.8" fill="#3c3c3c" textLength="12.6" lengthAdjust="spacingAndGlyphs">10</text>
<text x="432.4" y="903.4" font-size="8.4" fill="#3c3c3c">4</text>
<text x="419.2" y="963.3" font-size="12.8" fill="#3c3c3c" textLength="12.6" lengthAdjust="spacingAndGlyphs">10</text>
<text x="432.4" y="956.7" font-size="8.4" fill="#3c3c3c">3</text>
<text x="419.2" y="1019.4" font-size="12.8" fill="#3c3c3c" textLength="12.6" lengthAdjust="spacingAndGlyphs">10</text>
<text x="432.4" y="1012.8" font-size="8.4" fill="#3c3c3c">2</text>
<text x="427.6" y="1043.6" font-size="11.2" fill="#3c3c3c">0</text>
<text x="564.2" y="1095.7" font-size="13.2" fill="#111" text-anchor="middle">DNA</text>
<text transform="translate(416.2,987.6) rotate(-90)" font-size="13.2" fill="#111" textLength="87.5" lengthAdjust="spacingAndGlyphs">mAG-Geminin</text>
<path d="M449.25 1015.25h.9M449.5 1011.25h.9M449.5 1015.75h.9M449.5 1016.25h.9M449.5 1020.25h.9M449.5 1020.5h.9M449.75 1011.5h.9M449.75 1017.25h.9M450 1014.5h.9M450.25 1024.25h.9M479.25 1028.25h.9M479.5 990.5h.9M484.75 911.75h.9M491.5 985.5h.9M494 978.5h.9M494.25 1014.25h.9M497 1016.5h.9M497.5 978.25h.9M500.5 1015.5h.9M500.75 1032.75h.9M501.25 1006h.9M502 1012.75h.9M503 1017.5h.9M505 1006h.9M506.25 1017.75h.9M507.5 1014.25h.9M507.5 1019.5h.9M507.75 1021.75h.9M508.75 1009.5h.9M510.75 1009.25h.9M511 973h.9M511 1021h.9M511.25 1011h.9M511.75 1016.75h.9M512.75 1014.25h.9M514 1006.25h.9M515.25 905.5h.9M516.25 1012.25h.9M516.5 944.5h.9M517.25 947.25h.9M518 984.5h.9M518.25 1009.25h.9M518.75 1019h.9M519 1008.25h.9M519.75 959.75h.9M519.75 1018.25h.9M520 1010.75h.9M520.25 997.75h.9M520.25 1020h.9M520.5 1018h.9M520.75 948.5h.9M520.75 950.5h.9M520.75 954h.9M520.75 1018.5h.9M521 967h.9M521 1014.5h.9M521.25 953.25h.9M521.25 956h.9M521.25 1008.25h.9M521.25 1015.5h.9M521.25 1023h.9M521.25 1030.25h.9M521.5 973.25h.9M521.5 1013.5h.9M521.5 1021h.9M521.75 973.5h.9M521.75 1009.75h.9M521.75 1014.75h.9M521.75 1015h.9M521.75 1020.5h.9M521.75 1021.5h.9M522 935.25h.9M522 949h.9M522 956.25h.9M522 957h.9M522 988.75h.9M522 1013.75h.9M522 1015.75h.9M522.25 946h.9M522.25 948h.9M522.25 997.25h.9M522.25 1017.5h.9M522.25 1018.5h.9M522.5 1013.25h.9M522.5 1015.75h.9M522.75 951.25h.9M522.75 988.75h.9M522.75 1010.25h.9M522.75 1014.75h.9M522.75 1016h.9M522.75 1020.5h.9M523 951.25h.9M523 955h.9M523 961h.9M523 961.75h.9M523 984h.9M523 1012.25h.9M523.25 1006h.9M523.25 1014.25h.9M523.25 1015.75h.9M523.25 1016h.9M523.25 1017h.9M523.5 952.75h.9M523.5 971.25h.9M523.5 990h.9M523.5 1005.75h.9M523.5 1009h.9M523.5 1011h.9M523.5 1013.25h.9M523.5 1015.75h.9M523.75 978.25h.9M523.75 994.25h.9M523.75 1002.25h.9M523.75 1012h.9M523.75 1015.25h.9M523.75 1017.25h.9M523.75 1024.25h.9M523.75 1026.5h.9M524 1006h.9M524 1007.5h.9M524 1012.25h.9M524 1013.5h.9M524 1014.25h.9M524 1016.5h.9M524.25 916.5h.9M524.25 950.75h.9M524.25 1008.25h.9M524.25 1023.5h.9M524.25 1024.75h.9M524.5 947.75h.9M524.5 969h.9M524.5 976.25h.9M524.5 1003h.9M524.5 1016.25h.9M524.5 1016.75h.9M524.5 1022.5h.9M524.75 904.25h.9M524.75 1009.25h.9M524.75 1012.5h.9M524.75 1018.5h.9M524.75 1023.5h.9M524.75 1027h.9M525 947.5h.9M525 966.25h.9M525 970.25h.9M525 981.25h.9M525 998.75h.9M525 1008h.9M525 1008.5h.9M525 1011.5h.9M525.25 946.5h.9M525.25 956.25h.9M525.25 958h.9M525.25 1005h.9M525.25 1008.5h.9M525.25 1010h.9M525.25 1010.5h.9M525.25 1015.75h.9M525.25 1018.25h.9M525.25 1018.5h.9M525.5 960.25h.9M525.5 992.25h.9M525.5 995.5h.9M525.5 1012.75h.9M525.5 1014h.9M525.5 1018.75h.9M525.5 1022h.9M525.5 1023.75h.9M525.75 947.5h.9M525.75 1008h.9M525.75 1010.5h.9M525.75 1012h.9M525.75 1012.5h.9M525.75 1013.75h.9M525.75 1014.25h.9M525.75 1019.75h.9M525.75 1021.5h.9M525.75 1022.25h.9M526 933.5h.9M526 938.25h.9M526 945.25h.9M526 957h.9M526 959.5h.9M526 962.5h.9M526 991.25h.9M526 1009.5h.9M526 1011.5h.9M526 1012h.9M526 1012.5h.9M526 1012.75h.9M526 1018h.9M526 1018.25h.9M526 1019.5h.9M526 1020.25h.9M526 1050.25h.9M526.25 928h.9M526.25 933.75h.9M526.25 958.5h.9M526.25 980.75h.9M526.25 984.75h.9M526.25 1008.25h.9M526.25 1011h.9M526.25 1011.75h.9M526.25 1014.5h.9M526.25 1014.75h.9M526.25 1015.25h.9M526.25 1019.25h.9M526.25 1019.75h.9M526.25 1020h.9M526.25 1022.75h.9M526.5 939.5h.9M526.5 948.25h.9M526.5 958.25h.9M526.5 964.25h.9M526.5 972.25h.9M526.5 974.25h.9M526.5 975.75h.9M526.5 976.75h.9M526.5 1002.75h.9M526.5 1006.75h.9M526.5 1008.25h.9M526.5 1009.5h.9M526.5 1010.75h.9M526.5 1011.25h.9M526.5 1014h.9M526.5 1014.25h.9M526.5 1015.75h.9M526.5 1016.25h.9M526.5 1020.75h.9M526.5 1022.5h.9M526.5 1047.5h.9M526.75 946h.9M526.75 952h.9M526.75 958.5h.9M526.75 962h.9M526.75 965.5h.9M526.75 976.75h.9M526.75 981h.9M526.75 981.5h.9M526.75 983.5h.9M526.75 983.75h.9M526.75 994.25h.9M526.75 1007.75h.9M526.75 1010.25h.9M526.75 1011.25h.9M526.75 1015.5h.9M526.75 1018h.9M527 930.5h.9M527 934h.9M527 942.25h.9M527 974h.9M527 975.75h.9M527 991.5h.9M527 1001.25h.9M527 1011h.9M527 1012.5h.9M527 1012.75h.9M527 1013.5h.9M527 1014.5h.9M527 1015h.9M527 1016h.9M527 1016.25h.9M527 1018h.9M527.25 949.25h.9M527.25 955.5h.9M527.25 960.75h.9M527.25 964.25h.9M527.25 968.5h.9M527.25 1008.5h.9M527.25 1009h.9M527.25 1010h.9M527.25 1011.25h.9M527.25 1011.75h.9M527.25 1013.5h.9M527.25 1014.75h.9M527.25 1015.75h.9M527.25 1016.5h.9M527.25 1017.25h.9M527.25 1019.5h.9M527.25 1019.75h.9M527.25 1021.5h.9M527.5 933.25h.9M527.5 944.75h.9M527.5 951.25h.9M527.5 995.75h.9M527.5 1008h.9M527.5 1009.5h.9M527.5 1010.5h.9M527.5 1014.75h.9M527.5 1015.75h.9M527.5 1016.25h.9M527.5 1017.25h.9M527.5 1026.25h.9M527.75 946h.9M527.75 951.75h.9M527.75 954.5h.9M527.75 957.75h.9M527.75 958.5h.9M527.75 967.75h.9M527.75 969h.9M527.75 970.25h.9M527.75 976.5h.9M527.75 1012h.9M527.75 1012.75h.9M527.75 1014.25h.9M527.75 1014.5h.9M527.75 1016.25h.9M527.75 1016.5h.9M527.75 1016.75h.9M527.75 1017.75h.9M527.75 1024h.9M528 952.75h.9M528 957.75h.9M528 970.75h.9M528 971.75h.9M528 975.5h.9M528 996.5h.9M528 999.25h.9M528 1006.5h.9M528 1007h.9M528 1007.5h.9M528 1008.5h.9M528 1010.75h.9M528 1012.25h.9M528 1012.5h.9M528 1012.75h.9M528 1013.5h.9M528 1014.25h.9M528 1020.5h.9M528 1022h.9M528.25 934.25h.9M528.25 950.5h.9M528.25 953.25h.9M528.25 955h.9M528.25 956.75h.9M528.25 959h.9M528.25 962.5h.9M528.25 967.5h.9M528.25 970h.9M528.25 977.25h.9M528.25 978.75h.9M528.25 981.25h.9M528.25 992.75h.9M528.25 994.25h.9M528.25 996.25h.9M528.25 1000.75h.9M528.25 1006.5h.9M528.25 1009.25h.9M528.25 1010h.9M528.25 1012.5h.9M528.25 1013.5h.9M528.25 1013.75h.9M528.25 1014h.9M528.25 1015.75h.9M528.25 1016h.9M528.25 1017.5h.9M528.25 1018.25h.9M528.25 1018.75h.9M528.25 1023.25h.9M528.25 1028h.9M528.5 944.75h.9M528.5 948.25h.9M528.5 952h.9M528.5 971.5h.9M528.5 974.25h.9M528.5 977.75h.9M528.5 985.75h.9M528.5 988.25h.9M528.5 997h.9M528.5 1010.5h.9M528.5 1010.75h.9M528.5 1011.75h.9M528.5 1012h.9M528.5 1012.75h.9M528.5 1013h.9M528.5 1014.75h.9M528.5 1015.5h.9M528.5 1016.25h.9M528.5 1017.25h.9M528.5 1018.25h.9M528.5 1019h.9M528.5 1019.75h.9M528.5 1020h.9M528.5 1020.25h.9M528.5 1021.25h.9M528.5 1022.75h.9M528.5 1029.75h.9M528.5 1051.75h.9M528.75 921.5h.9M528.75 924.5h.9M528.75 971h.9M528.75 971.25h.9M528.75 973.75h.9M528.75 974.5h.9M528.75 977.5h.9M528.75 982.25h.9M528.75 983.25h.9M528.75 985.75h.9M528.75 988.75h.9M528.75 991.25h.9M528.75 993.75h.9M528.75 1005.25h.9M528.75 1009.25h.9M528.75 1009.5h.9M528.75 1010.75h.9M528.75 1011.5h.9M528.75 1012.5h.9M528.75 1012.75h.9M528.75 1014.75h.9M528.75 1015.75h.9M528.75 1016h.9M528.75 1017.25h.9M528.75 1019h.9M528.75 1019.5h.9M528.75 1022h.9M528.75 1023h.9M528.75 1023.75h.9M528.75 1053.5h.9M529 952.25h.9M529 959h.9M529 959.75h.9M529 963.5h.9M529 964.5h.9M529 972.75h.9M529 975.75h.9M529 980h.9M529 985h.9M529 986h.9M529 986.75h.9M529 987.5h.9M529 994h.9M529 996.25h.9M529 998.25h.9M529 1005h.9M529 1006h.9M529 1008.5h.9M529 1010.25h.9M529 1010.5h.9M529 1010.75h.9M529 1011.25h.9M529 1011.5h.9M529 1011.75h.9M529 1012h.9M529 1013.75h.9M529 1014h.9M529 1014.25h.9M529 1015.5h.9M529 1021h.9M529.25 970.5h.9M529.25 972.75h.9M529.25 973.5h.9M529.25 974h.9M529.25 975.75h.9M529.25 977.25h.9M529.25 979.75h.9M529.25 987.25h.9M529.25 993.25h.9M529.25 1010.25h.9M529.25 1011.75h.9M529.25 1012.25h.9M529.25 1014h.9M529.25 1015h.9M529.25 1016.5h.9M529.25 1018h.9M529.25 1019.25h.9M529.25 1020h.9M529.25 1020.25h.9M529.25 1020.75h.9M529.25 1021.25h.9M529.25 1022.75h.9M529.25 1023.25h.9M529.5 944.75h.9M529.5 952.75h.9M529.5 954.25h.9M529.5 961.75h.9M529.5 964h.9M529.5 965.75h.9M529.5 968h.9M529.5 973h.9M529.5 975.25h.9M529.5 983h.9M529.5 988.5h.9M529.5 989.75h.9M529.5 991.5h.9M529.5 1003h.9M529.5 1006h.9M529.5 1007.5h.9M529.5 1008.25h.9M529.5 1010.5h.9M529.5 1011h.9M529.5 1012.25h.9M529.5 1012.5h.9M529.5 1013.5h.9M529.5 1013.75h.9M529.5 1015h.9M529.5 1015.25h.9M529.5 1015.5h.9M529.5 1017h.9M529.5 1019.25h.9M529.5 1021.25h.9M529.5 1023.5h.9M529.5 1024h.9M529.5 1037.25h.9M529.5 1054.25h.9M529.75 936.75h.9M529.75 950.5h.9M529.75 960.75h.9M529.75 965.25h.9M529.75 966.25h.9M529.75 969.25h.9M529.75 973.75h.9M529.75 976h.9M529.75 984.25h.9M529.75 988.5h.9M529.75 991.25h.9M529.75 996.5h.9M529.75 1006.25h.9M529.75 1008.75h.9M529.75 1011.75h.9M529.75 1012.25h.9M529.75 1012.75h.9M529.75 1013.75h.9M529.75 1015h.9M529.75 1016h.9M529.75 1017.25h.9M529.75 1018h.9M529.75 1020h.9M529.75 1020.25h.9M529.75 1020.75h.9M529.75 1021h.9M529.75 1022.25h.9M529.75 1022.5h.9M529.75 1024.25h.9M530 933h.9M530 949.75h.9M530 950.5h.9M530 952.5h.9M530 957.25h.9M530 957.5h.9M530 966.25h.9M530 973.5h.9M530 975.25h.9M530 976.5h.9M530 977h.9M530 984.5h.9M530 986.5h.9M530 988.25h.9M530 1004.25h.9M530 1006.5h.9M530 1008h.9M530 1008.75h.9M530 1009.75h.9M530 1012.75h.9M530 1013.75h.9M530 1014h.9M530 1014.25h.9M530 1014.75h.9M530 1015h.9M530 1015.75h.9M530 1016h.9M530 1017.25h.9M530 1017.75h.9M530 1018h.9M530 1018.5h.9M530 1019h.9M530 1019.25h.9M530 1019.75h.9M530 1020.75h.9M530 1052h.9M530.25 950h.9M530.25 953.25h.9M530.25 956.5h.9M530.25 961.75h.9M530.25 970.5h.9M530.25 973.5h.9M530.25 977.75h.9M530.25 980h.9M530.25 980.75h.9M530.25 985h.9M530.25 991.25h.9M530.25 996.25h.9M530.25 997.75h.9M530.25 998.75h.9M530.25 1005h.9M530.25 1005.75h.9M530.25 1006.75h.9M530.25 1008.25h.9M530.25 1008.5h.9M530.25 1010h.9M530.25 1010.5h.9M530.25 1010.75h.9M530.25 1011.25h.9M530.25 1011.5h.9M530.25 1011.75h.9M530.25 1012h.9M530.25 1012.25h.9M530.25 1013h.9M530.25 1014.75h.9M530.25 1015h.9M530.25 1015.5h.9M530.25 1015.75h.9M530.25 1016.25h.9M530.25 1016.75h.9M530.25 1018.5h.9M530.25 1018.75h.9M530.25 1019h.9M530.25 1019.25h.9M530.25 1019.5h.9M530.25 1020h.9M530.25 1021h.9M530.25 1026.5h.9M530.25 1026.75h.9M530.5 955.5h.9M530.5 957.25h.9M530.5 960.25h.9M530.5 964.25h.9M530.5 965.75h.9M530.5 969h.9M530.5 970.5h.9M530.5 970.75h.9M530.5 973h.9M530.5 974.25h.9M530.5 991.25h.9M530.5 994h.9M530.5 1000h.9M530.5 1005.25h.9M530.5 1008.5h.9M530.5 1008.75h.9M530.5 1009h.9M530.5 1009.75h.9M530.5 1011.5h.9M530.5 1012h.9M530.5 1013h.9M530.5 1013.5h.9M530.5 1014h.9M530.5 1014.25h.9M530.5 1014.5h.9M530.5 1015h.9M530.5 1016.25h.9M530.5 1017h.9M530.5 1017.25h.9M530.5 1017.5h.9M530.5 1018.75h.9M530.5 1019.25h.9M530.5 1020.75h.9M530.5 1021.25h.9M530.75 944.25h.9M530.75 952.75h.9M530.75 962.75h.9M530.75 963.25h.9M530.75 964.25h.9M530.75 968.5h.9M530.75 972h.9M530.75 973.5h.9M530.75 973.75h.9M530.75 977.25h.9M530.75 981.75h.9M530.75 985.5h.9M530.75 1005.5h.9M530.75 1007.5h.9M530.75 1007.75h.9M530.75 1009h.9M530.75 1009.25h.9M530.75 1010.5h.9M530.75 1011h.9M530.75 1011.75h.9M530.75 1012h.9M530.75 1012.25h.9M530.75 1012.5h.9M530.75 1013h.9M530.75 1013.25h.9M530.75 1013.75h.9M530.75 1014.5h.9M530.75 1015h.9M530.75 1015.5h.9M530.75 1016.25h.9M530.75 1016.5h.9M530.75 1017h.9M530.75 1019.75h.9M530.75 1020.25h.9M530.75 1021.25h.9M530.75 1021.75h.9M530.75 1026.75h.9M530.75 1029.25h.9M531 943.75h.9M531 949.75h.9M531 951.25h.9M531 952.25h.9M531 954.25h.9M531 956.5h.9M531 959.25h.9M531 960h.9M531 961.5h.9M531 968.25h.9M531 970.75h.9M531 971.75h.9M531 974.5h.9M531 975.75h.9M531 976.75h.9M531 977.5h.9M531 981.25h.9M531 986.25h.9M531 992h.9M531 994.5h.9M531 995.25h.9M531 1003h.9M531 1005.25h.9M531 1006.75h.9M531 1007h.9M531 1007.5h.9M531 1009h.9M531 1009.5h.9M531 1010.5h.9M531 1011h.9M531 1012h.9M531 1012.5h.9M531 1012.75h.9M531 1013.25h.9M531 1013.5h.9M531 1013.75h.9M531 1014h.9M531 1014.5h.9M531 1015.25h.9M531 1015.75h.9M531 1016.5h.9M531 1017.75h.9M531 1018h.9M531 1018.5h.9M531 1018.75h.9M531 1019.5h.9M531.25 944.75h.9M531.25 966.75h.9M531.25 973h.9M531.25 973.25h.9M531.25 974.25h.9M531.25 977.5h.9M531.25 978.25h.9M531.25 979.25h.9M531.25 981.25h.9M531.25 984.25h.9M531.25 985h.9M531.25 990h.9M531.25 993h.9M531.25 995h.9M531.25 1000.5h.9M531.25 1007h.9M531.25 1007.75h.9M531.25 1009.75h.9M531.25 1010h.9M531.25 1010.75h.9M531.25 1011h.9M531.25 1011.25h.9M531.25 1011.75h.9M531.25 1012h.9M531.25 1012.5h.9M531.25 1012.75h.9M531.25 1013h.9M531.25 1013.75h.9M531.25 1015.5h.9M531.25 1016h.9M531.25 1016.5h.9M531.25 1016.75h.9M531.25 1017h.9M531.25 1017.25h.9M531.25 1018h.9M531.25 1018.25h.9M531.25 1019h.9M531.25 1021.5h.9M531.25 1026h.9M531.25 1028.5h.9M531.25 1032.75h.9M531.5 952.25h.9M531.5 953.5h.9M531.5 961.75h.9M531.5 964h.9M531.5 969h.9M531.5 970.75h.9M531.5 974h.9M531.5 976.5h.9M531.5 979.25h.9M531.5 981.75h.9M531.5 987.75h.9M531.5 991.5h.9M531.5 994.5h.9M531.5 995.5h.9M531.5 998h.9M531.5 998.25h.9M531.5 1001.75h.9M531.5 1006.25h.9M531.5 1008.5h.9M531.5 1010h.9M531.5 1010.25h.9M531.5 1010.5h.9M531.5 1010.75h.9M531.5 1011.5h.9M531.5 1011.75h.9M531.5 1012h.9M531.5 1012.25h.9M531.5 1013h.9M531.5 1013.5h.9M531.5 1013.75h.9M531.5 1014.25h.9M531.5 1015h.9M531.5 1016.5h.9M531.5 1016.75h.9M531.5 1017.25h.9M531.5 1018.25h.9M531.5 1018.5h.9M531.5 1019h.9M531.5 1019.75h.9M531.5 1021.75h.9M531.5 1022.25h.9M531.5 1023h.9M531.5 1024.75h.9M531.5 1033h.9M531.75 954h.9M531.75 955.5h.9M531.75 957.75h.9M531.75 964.75h.9M531.75 965.25h.9M531.75 966h.9M531.75 968h.9M531.75 968.25h.9M531.75 969h.9M531.75 969.75h.9M531.75 972.25h.9M531.75 973.5h.9M531.75 974.25h.9M531.75 975h.9M531.75 980.25h.9M531.75 980.5h.9M531.75 985h.9M531.75 990.25h.9M531.75 990.75h.9M531.75 996.25h.9M531.75 997h.9M531.75 997.5h.9M531.75 998.5h.9M531.75 999.25h.9M531.75 999.5h.9M531.75 1006.75h.9M531.75 1007.25h.9M531.75 1009.5h.9M531.75 1010h.9M531.75 1010.5h.9M531.75 1010.75h.9M531.75 1011.75h.9M531.75 1012h.9M531.75 1012.25h.9M531.75 1012.5h.9M531.75 1012.75h.9M531.75 1013h.9M531.75 1013.5h.9M531.75 1014.5h.9M531.75 1015.25h.9M531.75 1016.75h.9M531.75 1017.5h.9M531.75 1017.75h.9M531.75 1018h.9M531.75 1018.5h.9M531.75 1019.25h.9M531.75 1019.5h.9M531.75 1020.75h.9M531.75 1021.25h.9M531.75 1021.5h.9M531.75 1054h.9M532 933.75h.9M532 944.25h.9M532 950.25h.9M532 955.75h.9M532 956.5h.9M532 960.25h.9M532 962h.9M532 962.5h.9M532 963h.9M532 964.25h.9M532 964.5h.9M532 965.5h.9M532 970.25h.9M532 970.5h.9M532 971h.9M532 972h.9M532 974h.9M532 974.5h.9M532 974.75h.9M532 976.75h.9M532 990.75h.9M532 997.25h.9M532 1001.5h.9M532 1003h.9M532 1003.5h.9M532 1009h.9M532 1009.25h.9M532 1009.5h.9M532 1009.75h.9M532 1010.5h.9M532 1010.75h.9M532 1011h.9M532 1011.25h.9M532 1011.75h.9M532 1012.25h.9M532 1012.75h.9M532 1013.25h.9M532 1013.5h.9M532 1013.75h.9M532 1014h.9M532 1014.25h.9M532 1014.75h.9M532 1015h.9M532 1015.25h.9M532 1016h.9M532 1016.25h.9M532 1016.5h.9M532 1017.25h.9M532 1018.5h.9M532 1019.75h.9M532 1020.25h.9M532 1020.5h.9M532 1022h.9M532 1023h.9M532 1024h.9M532 1045.75h.9M532.25 948.25h.9M532.25 950.5h.9M532.25 954h.9M532.25 963.25h.9M532.25 964.75h.9M532.25 966h.9M532.25 966.25h.9M532.25 967.75h.9M532.25 970.25h.9M532.25 972.75h.9M532.25 975.25h.9M532.25 975.75h.9M532.25 976h.9M532.25 978.5h.9M532.25 984.25h.9M532.25 992h.9M532.25 994.25h.9M532.25 994.5h.9M532.25 995.75h.9M532.25 1003.25h.9M532.25 1005h.9M532.25 1005.75h.9M532.25 1007.5h.9M532.25 1008h.9M532.25 1009.5h.9M532.25 1009.75h.9M532.25 1010h.9M532.25 1010.75h.9M532.25 1011.75h.9M532.25 1012h.9M532.25 1012.25h.9M532.25 1012.5h.9M532.25 1013h.9M532.25 1013.25h.9M532.25 1013.5h.9M532.25 1013.75h.9M532.25 1014h.9M532.25 1014.5h.9M532.25 1014.75h.9M532.25 1015h.9M532.25 1015.5h.9M532.25 1016h.9M532.25 1016.75h.9M532.25 1017.25h.9M532.25 1017.75h.9M532.25 1018.25h.9M532.25 1018.5h.9M532.25 1018.75h.9M532.25 1019.25h.9M532.25 1019.75h.9M532.25 1020.25h.9M532.25 1020.75h.9M532.25 1021h.9M532.25 1044.75h.9M532.5 939.5h.9M532.5 947.75h.9M532.5 952h.9M532.5 953.75h.9M532.5 954.75h.9M532.5 956.5h.9M532.5 958.25h.9M532.5 959.5h.9M532.5 959.75h.9M532.5 960.25h.9M532.5 964h.9M532.5 964.5h.9M532.5 966.25h.9M532.5 967h.9M532.5 967.25h.9M532.5 967.5h.9M532.5 968h.9M532.5 970h.9M532.5 970.25h.9M532.5 971.75h.9M532.5 972h.9M532.5 973.75h.9M532.5 974h.9M532.5 975.5h.9M532.5 977.5h.9M532.5 981.75h.9M532.5 987h.9M532.5 989h.9M532.5 993.25h.9M532.5 1002.25h.9M532.5 1003.25h.9M532.5 1004.5h.9M532.5 1005.75h.9M532.5 1007.25h.9M532.5 1007.75h.9M532.5 1008.75h.9M532.5 1010h.9M532.5 1010.25h.9M532.5 1011h.9M532.5 1011.5h.9M532.5 1011.75h.9M532.5 1012h.9M532.5 1012.25h.9M532.5 1012.5h.9M532.5 1012.75h.9M532.5 1013h.9M532.5 1013.25h.9M532.5 1013.5h.9M532.5 1013.75h.9M532.5 1014h.9M532.5 1015h.9M532.5 1015.25h.9M532.5 1015.5h.9M532.5 1015.75h.9M532.5 1016.5h.9M532.5 1017h.9M532.5 1017.25h.9M532.5 1017.5h.9M532.5 1018.25h.9M532.5 1018.5h.9M532.5 1018.75h.9M532.5 1019h.9M532.5 1019.25h.9M532.5 1021.75h.9M532.5 1023.25h.9M532.5 1027h.9M532.75 933.25h.9M532.75 942.5h.9M532.75 949h.9M532.75 951.5h.9M532.75 954h.9M532.75 954.75h.9M532.75 955h.9M532.75 959.75h.9M532.75 962.25h.9M532.75 967h.9M532.75 970h.9M532.75 971.5h.9M532.75 972h.9M532.75 972.75h.9M532.75 974.25h.9M532.75 974.75h.9M532.75 975.5h.9M532.75 976h.9M532.75 984h.9M532.75 985.75h.9M532.75 986.75h.9M532.75 990.75h.9M532.75 991.25h.9M532.75 992.75h.9M532.75 993.75h.9M532.75 995.5h.9M532.75 997h.9M532.75 1003.5h.9M532.75 1004.25h.9M532.75 1006.25h.9M532.75 1007.5h.9M532.75 1008h.9M532.75 1010.25h.9M532.75 1010.75h.9M532.75 1011h.9M532.75 1011.75h.9M532.75 1012h.9M532.75 1012.75h.9M532.75 1013h.9M532.75 1013.5h.9M532.75 1014.75h.9M532.75 1015h.9M532.75 1015.5h.9M532.75 1015.75h.9M532.75 1016h.9M532.75 1016.25h.9M532.75 1017h.9M532.75 1017.25h.9M532.75 1017.5h.9M532.75 1019.25h.9M532.75 1019.5h.9M532.75 1019.75h.9M532.75 1020h.9M532.75 1020.25h.9M532.75 1020.75h.9M532.75 1023.5h.9M532.75 1024h.9M533 918.5h.9M533 932.5h.9M533 932.75h.9M533 935.75h.9M533 952h.9M533 959.5h.9M533 961.5h.9M533 962.25h.9M533 963.75h.9M533 965.25h.9M533 970.75h.9M533 974.75h.9M533 975h.9M533 975.25h.9M533 978h.9M533 978.25h.9M533 979.5h.9M533 980h.9M533 980.25h.9M533 982h.9M533 983h.9M533 985.25h.9M533 986.5h.9M533 990.75h.9M533 994.25h.9M533 998.75h.9M533 1002.25h.9M533 1002.75h.9M533 1006h.9M533 1007.75h.9M533 1008h.9M533 1008.5h.9M533 1009h.9M533 1009.25h.9M533 1009.75h.9M533 1010h.9M533 1010.25h.9M533 1010.5h.9M533 1011h.9M533 1012h.9M533 1012.5h.9M533 1013h.9M533 1013.25h.9M533 1013.75h.9M533 1014h.9M533 1014.75h.9M533 1015h.9M533 1015.25h.9M533 1016h.9M533 1016.25h.9M533 1016.5h.9M533 1017.25h.9M533 1017.5h.9M533 1018h.9M533 1018.25h.9M533 1018.5h.9M533 1019.5h.9M533 1019.75h.9M533 1022h.9M533 1024.75h.9M533.25 938.25h.9M533.25 941.75h.9M533.25 945h.9M533.25 949.25h.9M533.25 951.5h.9M533.25 957.5h.9M533.25 957.75h.9M533.25 960.5h.9M533.25 960.75h.9M533.25 961.75h.9M533.25 963.5h.9M533.25 963.75h.9M533.25 965.75h.9M533.25 966h.9M533.25 968h.9M533.25 970h.9M533.25 970.5h.9M533.25 972.25h.9M533.25 972.75h.9M533.25 974.5h.9M533.25 975h.9M533.25 975.5h.9M533.25 975.75h.9M533.25 981h.9M533.25 981.25h.9M533.25 983h.9M533.25 984.5h.9M533.25 985.25h.9M533.25 987.25h.9M533.25 992h.9M533.25 994.25h.9M533.25 995h.9M533.25 995.25h.9M533.25 995.75h.9M533.25 1004.75h.9M533.25 1007h.9M533.25 1007.5h.9M533.25 1007.75h.9M533.25 1008.5h.9M533.25 1008.75h.9M533.25 1009.5h.9M533.25 1010.25h.9M533.25 1010.5h.9M533.25 1011h.9M533.25 1011.5h.9M533.25 1011.75h.9M533.25 1012h.9M533.25 1012.5h.9M533.25 1012.75h.9M533.25 1013.25h.9M533.25 1013.75h.9M533.25 1014h.9M533.25 1014.25h.9M533.25 1014.5h.9M533.25 1014.75h.9M533.25 1015.25h.9M533.25 1015.5h.9M533.25 1015.75h.9M533.25 1016h.9M533.25 1016.25h.9M533.25 1016.5h.9M533.25 1017.75h.9M533.25 1018.25h.9M533.25 1018.5h.9M533.25 1020h.9M533.25 1020.25h.9M533.25 1022.75h.9M533.25 1023h.9M533.25 1023.5h.9M533.25 1023.75h.9M533.25 1024.25h.9M533.5 937.5h.9M533.5 943h.9M533.5 946.5h.9M533.5 955.5h.9M533.5 961.75h.9M533.5 962.75h.9M533.5 964.5h.9M533.5 966.75h.9M533.5 968h.9M533.5 968.25h.9M533.5 970.5h.9M533.5 970.75h.9M533.5 971h.9M533.5 972.25h.9M533.5 973.25h.9M533.5 975.25h.9M533.5 976h.9M533.5 978.75h.9M533.5 979.25h.9M533.5 983.75h.9M533.5 987.75h.9M533.5 988h.9M533.5 991.5h.9M533.5 993.25h.9M533.5 993.75h.9M533.5 994.75h.9M533.5 996h.9M533.5 996.5h.9M533.5 998h.9M533.5 1004.25h.9M533.5 1006h.9M533.5 1007h.9M533.5 1007.25h.9M533.5 1007.75h.9M533.5 1008.75h.9M533.5 1009h.9M533.5 1009.5h.9M533.5 1010.5h.9M533.5 1010.75h.9M533.5 1011h.9M533.5 1011.5h.9M533.5 1013.25h.9M533.5 1013.5h.9M533.5 1014.25h.9M533.5 1015.25h.9M533.5 1015.5h.9M533.5 1016h.9M533.5 1016.25h.9M533.5 1016.5h.9M533.5 1016.75h.9M533.5 1017h.9M533.5 1018.75h.9M533.5 1019.75h.9M533.5 1020h.9M533.5 1020.25h.9M533.5 1021.25h.9M533.5 1027h.9M533.75 913.75h.9M533.75 926h.9M533.75 936.25h.9M533.75 951.75h.9M533.75 956.75h.9M533.75 957.75h.9M533.75 961h.9M533.75 963h.9M533.75 964.5h.9M533.75 964.75h.9M533.75 967h.9M533.75 973.75h.9M533.75 977.25h.9M533.75 979h.9M533.75 981.25h.9M533.75 982h.9M533.75 994.25h.9M533.75 998h.9M533.75 1003.25h.9M533.75 1004.5h.9M533.75 1005.75h.9M533.75 1006.75h.9M533.75 1008h.9M533.75 1009h.9M533.75 1009.5h.9M533.75 1009.75h.9M533.75 1010.5h.9M533.75 1010.75h.9M533.75 1011.25h.9M533.75 1011.5h.9M533.75 1011.75h.9M533.75 1012h.9M533.75 1012.75h.9M533.75 1013h.9M533.75 1013.5h.9M533.75 1013.75h.9M533.75 1014h.9M533.75 1015h.9M533.75 1015.5h.9M533.75 1015.75h.9M533.75 1016.5h.9M533.75 1016.75h.9M533.75 1017h.9M533.75 1017.25h.9M533.75 1017.5h.9M533.75 1018h.9M533.75 1019.5h.9M533.75 1019.75h.9M533.75 1020h.9M533.75 1020.25h.9M533.75 1020.75h.9M533.75 1021h.9M533.75 1026h.9M534 938.5h.9M534 941.5h.9M534 942h.9M534 948.25h.9M534 949.5h.9M534 951.5h.9M534 955h.9M534 957.5h.9M534 960.75h.9M534 964.25h.9M534 967.75h.9M534 976.5h.9M534 978.75h.9M534 980h.9M534 983.75h.9M534 989h.9M534 991.25h.9M534 991.75h.9M534 993.25h.9M534 996.5h.9M534 1002h.9M534 1006.25h.9M534 1006.75h.9M534 1008.75h.9M534 1009.25h.9M534 1010.25h.9M534 1010.5h.9M534 1011h.9M534 1011.25h.9M534 1011.5h.9M534 1012h.9M534 1012.25h.9M534 1012.5h.9M534 1012.75h.9M534 1013h.9M534 1013.25h.9M534 1013.75h.9M534 1014h.9M534 1014.25h.9M534 1014.5h.9M534 1015h.9M534 1015.25h.9M534 1015.5h.9M534 1015.75h.9M534 1016h.9M534 1016.5h.9M534 1017h.9M534 1017.25h.9M534 1017.5h.9M534 1017.75h.9M534 1018h.9M534 1018.25h.9M534 1018.75h.9M534 1019h.9M534 1019.25h.9M534 1019.75h.9M534 1021.75h.9M534 1027h.9M534 1034.25h.9M534 1034.5h.9M534 1039.5h.9M534 1042.5h.9M534.25 950.5h.9M534.25 953.5h.9M534.25 954.75h.9M534.25 955.75h.9M534.25 962h.9M534.25 963.25h.9M534.25 963.5h.9M534.25 966h.9M534.25 966.75h.9M534.25 968.75h.9M534.25 972h.9M534.25 974h.9M534.25 975.25h.9M534.25 976.75h.9M534.25 978h.9M534.25 978.25h.9M534.25 979.25h.9M534.25 981.25h.9M534.25 981.5h.9M534.25 982.25h.9M534.25 982.5h.9M534.25 988h.9M534.25 991h.9M534.25 993h.9M534.25 994.5h.9M534.25 997.75h.9M534.25 1004.75h.9M534.25 1005h.9M534.25 1005.25h.9M534.25 1007h.9M534.25 1007.25h.9M534.25 1008h.9M534.25 1008.25h.9M534.25 1008.75h.9M534.25 1009h.9M534.25 1010.25h.9M534.25 1010.5h.9M534.25 1010.75h.9M534.25 1011h.9M534.25 1011.25h.9M534.25 1011.75h.9M534.25 1012h.9M534.25 1012.25h.9M534.25 1012.5h.9M534.25 1013h.9M534.25 1013.25h.9M534.25 1013.5h.9M534.25 1013.75h.9M534.25 1014h.9M534.25 1014.25h.9M534.25 1015h.9M534.25 1015.75h.9M534.25 1016h.9M534.25 1016.5h.9M534.25 1016.75h.9M534.25 1017h.9M534.25 1017.25h.9M534.25 1017.5h.9M534.25 1017.75h.9M534.25 1018.25h.9M534.25 1019h.9M534.25 1019.25h.9M534.25 1020.75h.9M534.25 1021.75h.9M534.25 1022.25h.9M534.25 1023.75h.9M534.25 1040.5h.9M534.25 1043.75h.9M534.25 1044h.9M534.5 945.25h.9M534.5 946.5h.9M534.5 949.25h.9M534.5 951.75h.9M534.5 954.25h.9M534.5 958.5h.9M534.5 960.5h.9M534.5 961.5h.9M534.5 963.5h.9M534.5 964.75h.9M534.5 966.75h.9M534.5 968.5h.9M534.5 969.75h.9M534.5 974h.9M534.5 975.25h.9M534.5 976h.9M534.5 976.5h.9M534.5 977.5h.9M534.5 980h.9M534.5 980.25h.9M534.5 981.25h.9M534.5 982.25h.9M534.5 983.5h.9M534.5 984h.9M534.5 984.25h.9M534.5 986h.9M534.5 987h.9M534.5 987.25h.9M534.5 989h.9M534.5 992.25h.9M534.5 992.75h.9M534.5 1004.75h.9M534.5 1005h.9M534.5 1005.25h.9M534.5 1006.25h.9M534.5 1008.75h.9M534.5 1009h.9M534.5 1009.25h.9M534.5 1009.75h.9M534.5 1010h.9M534.5 1010.25h.9M534.5 1010.75h.9M534.5 1011h.9M534.5 1011.5h.9M534.5 1013h.9M534.5 1013.25h.9M534.5 1013.5h.9M534.5 1013.75h.9M534.5 1014.25h.9M534.5 1014.75h.9M534.5 1015h.9M534.5 1015.25h.9M534.5 1015.75h.9M534.5 1016h.9M534.5 1016.25h.9M534.5 1016.5h.9M534.5 1016.75h.9M534.5 1017.25h.9M534.5 1017.75h.9M534.5 1018.25h.9M534.5 1018.5h.9M534.5 1019h.9M534.5 1019.25h.9M534.5 1019.75h.9M534.5 1020h.9M534.5 1020.25h.9M534.5 1021.25h.9M534.5 1021.5h.9M534.5 1021.75h.9M534.5 1022.5h.9M534.5 1025.75h.9M534.75 926.5h.9M534.75 933h.9M534.75 934.25h.9M534.75 936.5h.9M534.75 941h.9M534.75 941.25h.9M534.75 943.25h.9M534.75 950.5h.9M534.75 952.5h.9M534.75 953.5h.9M534.75 954h.9M534.75 955.5h.9M534.75 955.75h.9M534.75 959h.9M534.75 959.5h.9M534.75 961.5h.9M534.75 963.5h.9M534.75 966.75h.9M534.75 967h.9M534.75 969.25h.9M534.75 970.25h.9M534.75 971.25h.9M534.75 971.5h.9M534.75 972.5h.9M534.75 973.25h.9M534.75 975h.9M534.75 978.5h.9M534.75 981h.9M534.75 981.75h.9M534.75 984h.9M534.75 988h.9M534.75 998.5h.9M534.75 1002.75h.9M534.75 1003h.9M534.75 1004.75h.9M534.75 1005.5h.9M534.75 1006.25h.9M534.75 1006.75h.9M534.75 1007.25h.9M534.75 1008.25h.9M534.75 1009.25h.9M534.75 1010h.9M534.75 1010.75h.9M534.75 1011.5h.9M534.75 1011.75h.9M534.75 1012.5h.9M534.75 1012.75h.9M534.75 1013.25h.9M534.75 1013.5h.9M534.75 1013.75h.9M534.75 1014h.9M534.75 1014.25h.9M534.75 1014.5h.9M534.75 1014.75h.9M534.75 1015h.9M534.75 1015.25h.9M534.75 1015.5h.9M534.75 1015.75h.9M534.75 1016h.9M534.75 1016.5h.9M534.75 1016.75h.9M534.75 1017.25h.9M534.75 1017.5h.9M534.75 1018.5h.9M534.75 1019.5h.9M534.75 1019.75h.9M534.75 1021.25h.9M534.75 1021.5h.9M534.75 1022.25h.9M534.75 1023h.9M534.75 1023.25h.9M534.75 1024.25h.9M534.75 1027.75h.9M534.75 1028.25h.9M534.75 1037.25h.9M534.75 1045h.9M534.75 1049h.9M535 933.75h.9M535 935.75h.9M535 936h.9M535 943h.9M535 947.75h.9M535 949.25h.9M535 949.75h.9M535 952.75h.9M535 956.5h.9M535 957.75h.9M535 958.25h.9M535 958.5h.9M535 959.5h.9M535 962h.9M535 962.25h.9M535 969.25h.9M535 969.5h.9M535 969.75h.9M535 976.25h.9M535 976.75h.9M535 978h.9M535 978.25h.9M535 980.75h.9M535 981.25h.9M535 982.25h.9M535 983.25h.9M535 986h.9M535 992.25h.9M535 995h.9M535 1003.75h.9M535 1005.25h.9M535 1006h.9M535 1006.75h.9M535 1007h.9M535 1007.25h.9M535 1007.75h.9M535 1008h.9M535 1008.25h.9M535 1009.25h.9M535 1009.5h.9M535 1009.75h.9M535 1010h.9M535 1011.5h.9M535 1011.75h.9M535 1012h.9M535 1012.25h.9M535 1012.5h.9M535 1013h.9M535 1013.25h.9M535 1013.75h.9M535 1014h.9M535 1014.25h.9M535 1014.5h.9M535 1014.75h.9M535 1015.25h.9M535 1015.5h.9M535 1015.75h.9M535 1016h.9M535 1016.25h.9M535 1016.75h.9M535 1017h.9M535 1017.5h.9M535 1017.75h.9M535 1018h.9M535 1018.25h.9M535 1018.75h.9M535 1019.25h.9M535 1020h.9M535 1021.25h.9M535 1021.5h.9M535 1038.5h.9M535.25 928.5h.9M535.25 940.25h.9M535.25 940.75h.9M535.25 941.75h.9M535.25 943.25h.9M535.25 946.75h.9M535.25 949h.9M535.25 951.75h.9M535.25 952.5h.9M535.25 953.25h.9M535.25 954.25h.9M535.25 956h.9M535.25 956.5h.9M535.25 958.75h.9M535.25 959.5h.9M535.25 961.25h.9M535.25 965h.9M535.25 966h.9M535.25 966.75h.9M535.25 967.75h.9M535.25 971.5h.9M535.25 972.25h.9M535.25 974.75h.9M535.25 976.75h.9M535.25 977h.9M535.25 980.25h.9M535.25 991.75h.9M535.25 994h.9M535.25 995.75h.9M535.25 1005h.9M535.25 1006.5h.9M535.25 1008h.9M535.25 1009h.9M535.25 1009.25h.9M535.25 1010h.9M535.25 1010.25h.9M535.25 1011.25h.9M535.25 1012.25h.9M535.25 1012.5h.9M535.25 1013.5h.9M535.25 1013.75h.9M535.25 1014h.9M535.25 1014.25h.9M535.25 1014.5h.9M535.25 1014.75h.9M535.25 1015h.9M535.25 1015.25h.9M535.25 1015.5h.9M535.25 1016h.9M535.25 1016.25h.9M535.25 1016.5h.9M535.25 1016.75h.9M535.25 1017h.9M535.25 1017.25h.9M535.25 1017.5h.9M535.25 1017.75h.9M535.25 1018h.9M535.25 1018.25h.9M535.25 1018.5h.9M535.25 1019h.9M535.25 1019.5h.9M535.25 1020.25h.9M535.25 1020.75h.9M535.25 1021.25h.9M535.25 1021.5h.9M535.25 1022h.9M535.25 1022.25h.9M535.25 1026.5h.9M535.25 1032.25h.9M535.25 1034.25h.9M535.25 1046h.9M535.25 1049h.9M535.5 936.25h.9M535.5 937.25h.9M535.5 941.25h.9M535.5 947h.9M535.5 949.75h.9M535.5 950.5h.9M535.5 959.5h.9M535.5 963.75h.9M535.5 965.5h.9M535.5 966.25h.9M535.5 968.25h.9M535.5 969.5h.9M535.5 970h.9M535.5 971h.9M535.5 972.75h.9M535.5 973h.9M535.5 974.25h.9M535.5 974.75h.9M535.5 976.25h.9M535.5 981.5h.9M535.5 982h.9M535.5 982.5h.9M535.5 987.25h.9M535.5 992.25h.9M535.5 995h.9M535.5 996h.9M535.5 1002.5h.9M535.5 1003h.9M535.5 1003.75h.9M535.5 1005h.9M535.5 1005.75h.9M535.5 1006.75h.9M535.5 1007.25h.9M535.5 1007.75h.9M535.5 1008.75h.9M535.5 1009.25h.9M535.5 1009.75h.9M535.5 1010h.9M535.5 1010.25h.9M535.5 1010.5h.9M535.5 1010.75h.9M535.5 1011h.9M535.5 1011.25h.9M535.5 1011.5h.9M535.5 1012h.9M535.5 1012.25h.9M535.5 1012.5h.9M535.5 1012.75h.9M535.5 1013h.9M535.5 1013.25h.9M535.5 1013.5h.9M535.5 1013.75h.9M535.5 1014h.9M535.5 1014.25h.9M535.5 1014.5h.9M535.5 1014.75h.9M535.5 1015h.9M535.5 1015.25h.9M535.5 1015.5h.9M535.5 1015.75h.9M535.5 1016h.9M535.5 1016.25h.9M535.5 1016.75h.9M535.5 1017h.9M535.5 1017.5h.9M535.5 1017.75h.9M535.5 1018h.9M535.5 1018.25h.9M535.5 1018.5h.9M535.5 1019h.9M535.5 1019.25h.9M535.5 1019.5h.9M535.5 1019.75h.9M535.5 1020h.9M535.5 1021h.9M535.5 1021.75h.9M535.5 1022h.9M535.5 1022.5h.9M535.5 1023.25h.9M535.5 1024.5h.9M535.5 1025.5h.9M535.75 929.5h.9M535.75 931.5h.9M535.75 934h.9M535.75 935.75h.9M535.75 942h.9M535.75 944h.9M535.75 948.25h.9M535.75 949.75h.9M535.75 951.5h.9M535.75 952h.9M535.75 956.25h.9M535.75 959h.9M535.75 959.5h.9M535.75 961h.9M535.75 963.5h.9M535.75 965.75h.9M535.75 968.75h.9M535.75 970.75h.9M535.75 971h.9M535.75 972h.9M535.75 972.25h.9M535.75 976h.9M535.75 977.25h.9M535.75 977.75h.9M535.75 979.75h.9M535.75 984.5h.9M535.75 985.75h.9M535.75 986.25h.9M535.75 994.5h.9M535.75 995h.9M535.75 996.5h.9M535.75 997.25h.9M535.75 1000.25h.9M535.75 1004h.9M535.75 1004.5h.9M535.75 1005h.9M535.75 1006.25h.9M535.75 1006.75h.9M535.75 1007.5h.9M535.75 1008h.9M535.75 1008.25h.9M535.75 1008.5h.9M535.75 1009.25h.9M535.75 1010h.9M535.75 1010.25h.9M535.75 1010.5h.9M535.75 1011h.9M535.75 1011.25h.9M535.75 1011.5h.9M535.75 1011.75h.9M535.75 1012h.9M535.75 1012.25h.9M535.75 1012.5h.9M535.75 1012.75h.9M535.75 1013.25h.9M535.75 1013.75h.9M535.75 1014h.9M535.75 1014.25h.9M535.75 1014.5h.9M535.75 1014.75h.9M535.75 1015h.9M535.75 1015.25h.9M535.75 1015.5h.9M535.75 1015.75h.9M535.75 1016h.9M535.75 1016.25h.9M535.75 1016.5h.9M535.75 1016.75h.9M535.75 1017.25h.9M535.75 1017.5h.9M535.75 1018h.9M535.75 1019h.9M535.75 1019.25h.9M535.75 1019.5h.9M535.75 1019.75h.9M535.75 1020.25h.9M535.75 1022h.9M535.75 1022.75h.9M535.75 1024.75h.9M535.75 1025h.9M536 931.75h.9M536 943.25h.9M536 946.25h.9M536 947.5h.9M536 948h.9M536 950h.9M536 955.25h.9M536 955.5h.9M536 955.75h.9M536 956.75h.9M536 957.25h.9M536 958.75h.9M536 960.25h.9M536 960.75h.9M536 961h.9M536 961.75h.9M536 962.75h.9M536 963h.9M536 966.25h.9M536 966.75h.9M536 968.75h.9M536 971h.9M536 974h.9M536 978.25h.9M536 985h.9M536 987h.9M536 989.25h.9M536 992h.9M536 992.5h.9M536 995.25h.9M536 996.75h.9M536 997.5h.9M536 1001h.9M536 1002.75h.9M536 1003.5h.9M536 1004.75h.9M536 1006.25h.9M536 1006.5h.9M536 1007.5h.9M536 1009h.9M536 1009.5h.9M536 1010h.9M536 1010.5h.9M536 1010.75h.9M536 1011h.9M536 1011.25h.9M536 1011.5h.9M536 1011.75h.9M536 1012h.9M536 1012.25h.9M536 1012.5h.9M536 1012.75h.9M536 1013h.9M536 1013.25h.9M536 1013.5h.9M536 1014h.9M536 1014.25h.9M536 1014.5h.9M536 1014.75h.9M536 1015.25h.9M536 1015.5h.9M536 1015.75h.9M536 1016.25h.9M536 1016.5h.9M536 1016.75h.9M536 1017h.9M536 1017.25h.9M536 1018h.9M536 1018.25h.9M536 1018.5h.9M536 1019h.9M536 1019.75h.9M536 1020.25h.9M536 1021.5h.9M536 1021.75h.9M536 1023.75h.9M536 1038.75h.9M536.25 943.5h.9M536.25 944.25h.9M536.25 945.75h.9M536.25 954h.9M536.25 956.75h.9M536.25 957.25h.9M536.25 958.25h.9M536.25 961.25h.9M536.25 963h.9M536.25 963.5h.9M536.25 966h.9M536.25 970.25h.9M536.25 970.5h.9M536.25 972h.9M536.25 975.75h.9M536.25 976.25h.9M536.25 976.5h.9M536.25 978.25h.9M536.25 978.75h.9M536.25 986.25h.9M536.25 989h.9M536.25 996h.9M536.25 1008h.9M536.25 1008.25h.9M536.25 1008.75h.9M536.25 1009h.9M536.25 1009.25h.9M536.25 1009.5h.9M536.25 1010h.9M536.25 1011h.9M536.25 1011.5h.9M536.25 1011.75h.9M536.25 1012h.9M536.25 1012.25h.9M536.25 1012.5h.9M536.25 1012.75h.9M536.25 1013h.9M536.25 1013.25h.9M536.25 1013.5h.9M536.25 1013.75h.9M536.25 1014h.9M536.25 1015.25h.9M536.25 1015.75h.9M536.25 1016h.9M536.25 1016.5h.9M536.25 1017h.9M536.25 1017.25h.9M536.25 1017.5h.9M536.25 1018h.9M536.25 1018.5h.9M536.25 1018.75h.9M536.25 1019.25h.9M536.25 1020.5h.9M536.25 1020.75h.9M536.25 1021.25h.9M536.25 1022.25h.9M536.25 1022.75h.9M536.25 1023h.9M536.25 1023.5h.9M536.25 1025h.9M536.25 1027.5h.9M536.5 936.5h.9M536.5 941.75h.9M536.5 945.25h.9M536.5 948.5h.9M536.5 956.75h.9M536.5 958.25h.9M536.5 960.25h.9M536.5 960.5h.9M536.5 961.75h.9M536.5 962.25h.9M536.5 966.75h.9M536.5 967.75h.9M536.5 969h.9M536.5 970.5h.9M536.5 972.75h.9M536.5 975.75h.9M536.5 976h.9M536.5 976.25h.9M536.5 977.25h.9M536.5 980.25h.9M536.5 981.5h.9M536.5 982.5h.9M536.5 984h.9M536.5 988.25h.9M536.5 992.5h.9M536.5 994h.9M536.5 994.75h.9M536.5 998.75h.9M536.5 1006h.9M536.5 1007.5h.9M536.5 1007.75h.9M536.5 1008h.9M536.5 1008.25h.9M536.5 1009h.9M536.5 1009.25h.9M536.5 1009.5h.9M536.5 1010h.9M536.5 1011h.9M536.5 1011.5h.9M536.5 1011.75h.9M536.5 1012h.9M536.5 1012.25h.9M536.5 1012.5h.9M536.5 1012.75h.9M536.5 1013.5h.9M536.5 1014h.9M536.5 1014.5h.9M536.5 1014.75h.9M536.5 1015h.9M536.5 1015.5h.9M536.5 1015.75h.9M536.5 1016h.9M536.5 1016.25h.9M536.5 1016.5h.9M536.5 1016.75h.9M536.5 1017h.9M536.5 1018h.9M536.5 1018.25h.9M536.5 1018.5h.9M536.5 1019h.9M536.5 1019.75h.9M536.5 1021.25h.9M536.5 1021.75h.9M536.5 1025.25h.9M536.5 1026h.9M536.5 1028.75h.9M536.5 1037.5h.9M536.75 927.25h.9M536.75 938h.9M536.75 941.5h.9M536.75 952.5h.9M536.75 954h.9M536.75 956.75h.9M536.75 962.75h.9M536.75 965h.9M536.75 973.5h.9M536.75 973.75h.9M536.75 974.5h.9M536.75 975.75h.9M536.75 976h.9M536.75 976.25h.9M536.75 976.5h.9M536.75 983h.9M536.75 984.25h.9M536.75 985.25h.9M536.75 1002.25h.9M536.75 1003.25h.9M536.75 1004h.9M536.75 1006.25h.9M536.75 1006.5h.9M536.75 1006.75h.9M536.75 1007.75h.9M536.75 1008h.9M536.75 1008.75h.9M536.75 1009.5h.9M536.75 1009.75h.9M536.75 1010h.9M536.75 1010.5h.9M536.75 1011.25h.9M536.75 1011.75h.9M536.75 1012h.9M536.75 1012.25h.9M536.75 1012.5h.9M536.75 1012.75h.9M536.75 1013h.9M536.75 1013.75h.9M536.75 1014h.9M536.75 1014.5h.9M536.75 1014.75h.9M536.75 1015h.9M536.75 1015.25h.9M536.75 1015.5h.9M536.75 1016h.9M536.75 1016.25h.9M536.75 1016.5h.9M536.75 1016.75h.9M536.75 1017h.9M536.75 1017.5h.9M536.75 1017.75h.9M536.75 1018.25h.9M536.75 1018.75h.9M536.75 1019.5h.9M536.75 1019.75h.9M536.75 1021.75h.9M536.75 1022h.9M536.75 1024h.9M536.75 1025h.9M536.75 1027.25h.9M536.75 1031.25h.9M537 929h.9M537 935.5h.9M537 943.75h.9M537 944h.9M537 944.25h.9M537 945.25h.9M537 951.5h.9M537 953.25h.9M537 953.5h.9M537 954h.9M537 954.75h.9M537 958.25h.9M537 959h.9M537 961h.9M537 966.75h.9M537 967.25h.9M537 967.75h.9M537 968.25h.9M537 973h.9M537 973.75h.9M537 974.25h.9M537 975h.9M537 977.25h.9M537 986.5h.9M537 990.5h.9M537 1004h.9M537 1004.25h.9M537 1005h.9M537 1005.25h.9M537 1006.5h.9M537 1007.5h.9M537 1007.75h.9M537 1008.75h.9M537 1009.75h.9M537 1010.5h.9M537 1011.25h.9M537 1011.5h.9M537 1012h.9M537 1012.5h.9M537 1013h.9M537 1013.25h.9M537 1013.75h.9M537 1014h.9M537 1014.75h.9M537 1015h.9M537 1015.25h.9M537 1015.5h.9M537 1016h.9M537 1016.5h.9M537 1017h.9M537 1017.25h.9M537 1017.5h.9M537 1018.25h.9M537 1019h.9M537 1019.75h.9M537 1020h.9M537 1020.5h.9M537 1021h.9M537 1023h.9M537 1024.5h.9M537.25 938h.9M537.25 942h.9M537.25 943.25h.9M537.25 943.75h.9M537.25 946h.9M537.25 950.75h.9M537.25 951.75h.9M537.25 953h.9M537.25 954.75h.9M537.25 957.25h.9M537.25 963h.9M537.25 963.25h.9M537.25 964.5h.9M537.25 966.5h.9M537.25 967.25h.9M537.25 967.75h.9M537.25 970.75h.9M537.25 971h.9M537.25 972h.9M537.25 973.25h.9M537.25 973.5h.9M537.25 974.75h.9M537.25 977.5h.9M537.25 986.5h.9M537.25 988h.9M537.25 1001.75h.9M537.25 1002.25h.9M537.25 1003.75h.9M537.25 1006h.9M537.25 1006.5h.9M537.25 1007.75h.9M537.25 1009.25h.9M537.25 1009.5h.9M537.25 1009.75h.9M537.25 1010.5h.9M537.25 1010.75h.9M537.25 1011.25h.9M537.25 1011.75h.9M537.25 1012h.9M537.25 1012.25h.9M537.25 1012.5h.9M537.25 1012.75h.9M537.25 1013.75h.9M537.25 1014h.9M537.25 1014.25h.9M537.25 1014.5h.9M537.25 1014.75h.9M537.25 1015h.9M537.25 1015.5h.9M537.25 1015.75h.9M537.25 1016h.9M537.25 1016.25h.9M537.25 1016.5h.9M537.25 1016.75h.9M537.25 1017h.9M537.25 1017.5h.9M537.25 1017.75h.9M537.25 1018h.9M537.25 1018.75h.9M537.25 1019.25h.9M537.25 1019.5h.9M537.25 1020h.9M537.25 1020.25h.9M537.25 1020.5h.9M537.25 1022.25h.9M537.25 1023.25h.9M537.25 1039.25h.9M537.5 928.25h.9M537.5 932.75h.9M537.5 936.25h.9M537.5 936.75h.9M537.5 944.25h.9M537.5 953h.9M537.5 953.75h.9M537.5 955.75h.9M537.5 958.75h.9M537.5 960.5h.9M537.5 961h.9M537.5 963.75h.9M537.5 967.5h.9M537.5 968.25h.9M537.5 970.75h.9M537.5 971.5h.9M537.5 972.75h.9M537.5 975h.9M537.5 976.5h.9M537.5 978.5h.9M537.5 979.5h.9M537.5 979.75h.9M537.5 990.75h.9M537.5 995.25h.9M537.5 1005.75h.9M537.5 1007.25h.9M537.5 1007.75h.9M537.5 1008.25h.9M537.5 1008.75h.9M537.5 1009h.9M537.5 1009.25h.9M537.5 1009.75h.9M537.5 1010.25h.9M537.5 1010.5h.9M537.5 1011.5h.9M537.5 1011.75h.9M537.5 1012h.9M537.5 1012.5h.9M537.5 1012.75h.9M537.5 1013h.9M537.5 1013.25h.9M537.5 1014h.9M537.5 1014.25h.9M537.5 1014.5h.9M537.5 1014.75h.9M537.5 1015h.9M537.5 1015.25h.9M537.5 1015.5h.9M537.5 1016.5h.9M537.5 1016.75h.9M537.5 1017h.9M537.5 1017.5h.9M537.5 1017.75h.9M537.5 1019h.9M537.5 1019.75h.9M537.5 1020h.9M537.5 1020.25h.9M537.5 1020.5h.9M537.5 1020.75h.9M537.5 1023h.9M537.5 1023.5h.9M537.5 1024h.9M537.75 934h.9M537.75 935.25h.9M537.75 944.5h.9M537.75 949.5h.9M537.75 953.5h.9M537.75 955.5h.9M537.75 958.75h.9M537.75 959h.9M537.75 960h.9M537.75 964.75h.9M537.75 965.5h.9M537.75 968h.9M537.75 968.5h.9M537.75 974h.9M537.75 977.5h.9M537.75 979h.9M537.75 983.25h.9M537.75 985h.9M537.75 986.75h.9M537.75 993.5h.9M537.75 995h.9M537.75 997.5h.9M537.75 1003.75h.9M537.75 1004.75h.9M537.75 1007h.9M537.75 1007.75h.9M537.75 1008.25h.9M537.75 1008.5h.9M537.75 1008.75h.9M537.75 1009h.9M537.75 1010.25h.9M537.75 1010.5h.9M537.75 1010.75h.9M537.75 1011.25h.9M537.75 1011.5h.9M537.75 1012h.9M537.75 1012.25h.9M537.75 1012.5h.9M537.75 1013h.9M537.75 1013.25h.9M537.75 1013.75h.9M537.75 1014h.9M537.75 1014.25h.9M537.75 1014.5h.9M537.75 1014.75h.9M537.75 1015h.9M537.75 1015.5h.9M537.75 1015.75h.9M537.75 1016h.9M537.75 1016.5h.9M537.75 1016.75h.9M537.75 1017h.9M537.75 1017.25h.9M537.75 1018.25h.9M537.75 1018.5h.9M537.75 1019.5h.9M537.75 1019.75h.9M537.75 1020h.9M537.75 1020.5h.9M537.75 1023.5h.9M537.75 1024.5h.9M537.75 1025h.9M537.75 1026h.9M537.75 1027.75h.9M537.75 1029.75h.9M538 928h.9M538 943h.9M538 944.5h.9M538 948.25h.9M538 949.5h.9M538 950h.9M538 952.5h.9M538 953h.9M538 955.75h.9M538 956.5h.9M538 956.75h.9M538 959.5h.9M538 959.75h.9M538 962.5h.9M538 963.75h.9M538 964.25h.9M538 967.25h.9M538 968.75h.9M538 970h.9M538 972h.9M538 973.25h.9M538 974h.9M538 974.25h.9M538 976.5h.9M538 976.75h.9M538 979h.9M538 980.25h.9M538 981.75h.9M538 982.75h.9M538 987.75h.9M538 1003.25h.9M538 1005.25h.9M538 1006.25h.9M538 1007.25h.9M538 1009.25h.9M538 1009.75h.9M538 1010h.9M538 1010.25h.9M538 1010.75h.9M538 1011h.9M538 1011.25h.9M538 1011.5h.9M538 1011.75h.9M538 1012h.9M538 1012.25h.9M538 1012.5h.9M538 1012.75h.9M538 1013.25h.9M538 1013.75h.9M538 1015h.9M538 1015.25h.9M538 1015.75h.9M538 1016h.9M538 1016.25h.9M538 1016.5h.9M538 1016.75h.9M538 1017h.9M538 1017.5h.9M538 1017.75h.9M538 1018h.9M538 1018.75h.9M538 1019.75h.9M538 1021.25h.9M538 1021.5h.9M538 1022.25h.9M538 1022.5h.9M538.25 935.75h.9M538.25 941.25h.9M538.25 942.5h.9M538.25 942.75h.9M538.25 946.5h.9M538.25 948.5h.9M538.25 951.75h.9M538.25 955h.9M538.25 956.25h.9M538.25 959.25h.9M538.25 964.5h.9M538.25 971.5h.9M538.25 971.75h.9M538.25 972.5h.9M538.25 973.25h.9M538.25 974h.9M538.25 977.75h.9M538.25 986h.9M538.25 987.25h.9M538.25 995.5h.9M538.25 1003h.9M538.25 1004h.9M538.25 1004.75h.9M538.25 1006.5h.9M538.25 1007.5h.9M538.25 1007.75h.9M538.25 1008h.9M538.25 1008.75h.9M538.25 1009h.9M538.25 1009.25h.9M538.25 1009.5h.9M538.25 1009.75h.9M538.25 1010h.9M538.25 1010.25h.9M538.25 1010.75h.9M538.25 1011.25h.9M538.25 1011.5h.9M538.25 1012h.9M538.25 1012.5h.9M538.25 1013h.9M538.25 1013.25h.9M538.25 1013.5h.9M538.25 1014h.9M538.25 1014.25h.9M538.25 1015h.9M538.25 1015.25h.9M538.25 1015.5h.9M538.25 1015.75h.9M538.25 1016.75h.9M538.25 1017h.9M538.25 1017.25h.9M538.25 1017.5h.9M538.25 1017.75h.9M538.25 1018.75h.9M538.25 1021h.9M538.25 1021.75h.9M538.25 1024h.9M538.5 935.25h.9M538.5 941.75h.9M538.5 943.25h.9M538.5 944.25h.9M538.5 946h.9M538.5 949h.9M538.5 950.5h.9M538.5 952.75h.9M538.5 955.25h.9M538.5 958.25h.9M538.5 958.75h.9M538.5 960.25h.9M538.5 961.75h.9M538.5 965.25h.9M538.5 967.5h.9M538.5 968.5h.9M538.5 970.25h.9M538.5 970.75h.9M538.5 974h.9M538.5 977.25h.9M538.5 1006.5h.9M538.5 1007.75h.9M538.5 1008.75h.9M538.5 1009.25h.9M538.5 1009.5h.9M538.5 1009.75h.9M538.5 1010.25h.9M538.5 1010.5h.9M538.5 1010.75h.9M538.5 1011h.9M538.5 1011.25h.9M538.5 1011.5h.9M538.5 1011.75h.9M538.5 1012h.9M538.5 1012.25h.9M538.5 1012.5h.9M538.5 1012.75h.9M538.5 1013.25h.9M538.5 1013.5h.9M538.5 1013.75h.9M538.5 1014h.9M538.5 1014.25h.9M538.5 1014.5h.9M538.5 1015.25h.9M538.5 1015.5h.9M538.5 1015.75h.9M538.5 1016h.9M538.5 1016.25h.9M538.5 1016.75h.9M538.5 1017h.9M538.5 1017.75h.9M538.5 1018h.9M538.5 1018.25h.9M538.5 1018.5h.9M538.5 1019.25h.9M538.5 1019.5h.9M538.5 1019.75h.9M538.5 1020h.9M538.5 1020.5h.9M538.5 1020.75h.9M538.5 1022h.9M538.5 1023.25h.9M538.5 1024h.9M538.5 1024.5h.9M538.5 1025.75h.9M538.75 926.5h.9M538.75 935.75h.9M538.75 937.75h.9M538.75 938.5h.9M538.75 939.75h.9M538.75 943h.9M538.75 943.25h.9M538.75 951h.9M538.75 954.25h.9M538.75 954.75h.9M538.75 955.25h.9M538.75 960.5h.9M538.75 961.75h.9M538.75 963h.9M538.75 966.25h.9M538.75 967.25h.9M538.75 967.5h.9M538.75 969h.9M538.75 969.5h.9M538.75 973.5h.9M538.75 975.75h.9M538.75 982.75h.9M538.75 986h.9M538.75 1003.5h.9M538.75 1003.75h.9M538.75 1006.25h.9M538.75 1007.5h.9M538.75 1008h.9M538.75 1008.5h.9M538.75 1008.75h.9M538.75 1009.25h.9M538.75 1010.25h.9M538.75 1010.5h.9M538.75 1011.25h.9M538.75 1011.5h.9M538.75 1011.75h.9M538.75 1012.25h.9M538.75 1012.5h.9M538.75 1012.75h.9M538.75 1013h.9M538.75 1013.25h.9M538.75 1013.5h.9M538.75 1013.75h.9M538.75 1014h.9M538.75 1014.75h.9M538.75 1015h.9M538.75 1015.25h.9M538.75 1015.5h.9M538.75 1015.75h.9M538.75 1016.25h.9M538.75 1016.75h.9M538.75 1017h.9M538.75 1017.25h.9M538.75 1017.5h.9M538.75 1017.75h.9M538.75 1019h.9M538.75 1019.5h.9M538.75 1020h.9M538.75 1020.75h.9M538.75 1021h.9M538.75 1021.25h.9M538.75 1023.5h.9M538.75 1037h.9M538.75 1055.25h.9M539 927h.9M539 936.25h.9M539 939.25h.9M539 941.25h.9M539 943.5h.9M539 945h.9M539 946h.9M539 946.25h.9M539 946.5h.9M539 947.25h.9M539 949.5h.9M539 951h.9M539 951.75h.9M539 952.5h.9M539 957.25h.9M539 958.25h.9M539 962.75h.9M539 964.5h.9M539 971.5h.9M539 971.75h.9M539 973.75h.9M539 977.5h.9M539 978.75h.9M539 984.75h.9M539 992.25h.9M539 995.25h.9M539 1005.75h.9M539 1008.5h.9M539 1009.25h.9M539 1009.75h.9M539 1010h.9M539 1010.5h.9M539 1011.25h.9M539 1011.75h.9M539 1012h.9M539 1012.25h.9M539 1012.5h.9M539 1013h.9M539 1014.5h.9M539 1014.75h.9M539 1015h.9M539 1015.75h.9M539 1016.75h.9M539 1017.75h.9M539 1018h.9M539 1018.25h.9M539 1019h.9M539 1019.25h.9M539 1019.75h.9M539 1022.75h.9M539 1033.5h.9M539 1041.75h.9M539.25 925.75h.9M539.25 927.75h.9M539.25 931.5h.9M539.25 936.5h.9M539.25 940.5h.9M539.25 943.5h.9M539.25 943.75h.9M539.25 947.5h.9M539.25 950.25h.9M539.25 960.75h.9M539.25 963.25h.9M539.25 967.25h.9M539.25 967.75h.9M539.25 970.25h.9M539.25 972.25h.9M539.25 975.25h.9M539.25 975.75h.9M539.25 977h.9M539.25 977.5h.9M539.25 986.75h.9M539.25 991.75h.9M539.25 999.75h.9M539.25 1001h.9M539.25 1002.5h.9M539.25 1004.25h.9M539.25 1006.75h.9M539.25 1007.5h.9M539.25 1008h.9M539.25 1009.25h.9M539.25 1009.5h.9M539.25 1009.75h.9M539.25 1010.25h.9M539.25 1010.5h.9M539.25 1010.75h.9M539.25 1012h.9M539.25 1013h.9M539.25 1013.25h.9M539.25 1013.5h.9M539.25 1013.75h.9M539.25 1014.25h.9M539.25 1014.75h.9M539.25 1015h.9M539.25 1015.5h.9M539.25 1015.75h.9M539.25 1017.5h.9M539.25 1017.75h.9M539.25 1018h.9M539.25 1019.25h.9M539.25 1019.5h.9M539.25 1019.75h.9M539.25 1020h.9M539.25 1020.25h.9M539.25 1020.5h.9M539.25 1020.75h.9M539.25 1022h.9M539.25 1022.5h.9M539.25 1023.25h.9M539.25 1024.5h.9M539.25 1025.25h.9M539.25 1034h.9M539.5 922.25h.9M539.5 936.25h.9M539.5 940.75h.9M539.5 941.75h.9M539.5 942.25h.9M539.5 942.75h.9M539.5 946.25h.9M539.5 947h.9M539.5 947.5h.9M539.5 949.5h.9M539.5 950.75h.9M539.5 952.25h.9M539.5 952.75h.9M539.5 954.75h.9M539.5 956.25h.9M539.5 956.75h.9M539.5 957h.9M539.5 960h.9M539.5 960.5h.9M539.5 961.5h.9M539.5 962.75h.9M539.5 963h.9M539.5 963.25h.9M539.5 963.75h.9M539.5 964.75h.9M539.5 967.5h.9M539.5 968.5h.9M539.5 970.5h.9M539.5 975h.9M539.5 975.75h.9M539.5 981.75h.9M539.5 1003.25h.9M539.5 1004.5h.9M539.5 1004.75h.9M539.5 1007.5h.9M539.5 1008.25h.9M539.5 1008.75h.9M539.5 1010h.9M539.5 1010.75h.9M539.5 1011.5h.9M539.5 1011.75h.9M539.5 1012.75h.9M539.5 1013.25h.9M539.5 1013.5h.9M539.5 1014h.9M539.5 1015.25h.9M539.5 1015.5h.9M539.5 1015.75h.9M539.5 1016.25h.9M539.5 1017.25h.9M539.5 1017.5h.9M539.5 1017.75h.9M539.5 1018.5h.9M539.5 1019h.9M539.5 1019.5h.9M539.5 1020h.9M539.5 1020.75h.9M539.5 1021.25h.9M539.5 1022.5h.9M539.5 1026h.9M539.75 927.75h.9M539.75 932.75h.9M539.75 936h.9M539.75 936.75h.9M539.75 941.25h.9M539.75 943.5h.9M539.75 944.25h.9M539.75 944.5h.9M539.75 946h.9M539.75 949.25h.9M539.75 951.25h.9M539.75 951.5h.9M539.75 952.5h.9M539.75 953h.9M539.75 953.75h.9M539.75 957.25h.9M539.75 960.25h.9M539.75 961.5h.9M539.75 964h.9M539.75 966.75h.9M539.75 967.75h.9M539.75 968.25h.9M539.75 971h.9M539.75 972.75h.9M539.75 986.5h.9M539.75 1002.25h.9M539.75 1005.25h.9M539.75 1005.5h.9M539.75 1006h.9M539.75 1008.5h.9M539.75 1010.25h.9M539.75 1010.5h.9M539.75 1011.75h.9M539.75 1012h.9M539.75 1012.25h.9M539.75 1012.5h.9M539.75 1013h.9M539.75 1013.75h.9M539.75 1014h.9M539.75 1014.5h.9M539.75 1014.75h.9M539.75 1015h.9M539.75 1015.25h.9M539.75 1015.5h.9M539.75 1016h.9M539.75 1016.25h.9M539.75 1017h.9M539.75 1017.5h.9M539.75 1017.75h.9M539.75 1018.5h.9M539.75 1019h.9M539.75 1019.25h.9M539.75 1019.5h.9M539.75 1020h.9M539.75 1024.5h.9M539.75 1025h.9M539.75 1025.75h.9M540 930h.9M540 937.75h.9M540 940.25h.9M540 941.5h.9M540 942.75h.9M540 952.25h.9M540 956.25h.9M540 965.5h.9M540 966.75h.9M540 968.5h.9M540 969h.9M540 972h.9M540 973h.9M540 974.5h.9M540 976.25h.9M540 994h.9M540 1006h.9M540 1008h.9M540 1008.75h.9M540 1009.5h.9M540 1010.25h.9M540 1010.5h.9M540 1011h.9M540 1011.25h.9M540 1011.5h.9M540 1012.5h.9M540 1012.75h.9M540 1013h.9M540 1014.5h.9M540 1014.75h.9M540 1015h.9M540 1015.25h.9M540 1015.75h.9M540 1016.75h.9M540 1017h.9M540 1018.25h.9M540 1018.75h.9M540 1019h.9M540 1019.5h.9M540 1023h.9M540 1030.75h.9M540.25 935.5h.9M540.25 944.5h.9M540.25 944.75h.9M540.25 948.5h.9M540.25 949.25h.9M540.25 950.75h.9M540.25 951.75h.9M540.25 953h.9M540.25 953.5h.9M540.25 954.25h.9M540.25 955h.9M540.25 956.25h.9M540.25 961.75h.9M540.25 964.5h.9M540.25 967.25h.9M540.25 968.5h.9M540.25 969.25h.9M540.25 970h.9M540.25 974.25h.9M540.25 976.5h.9M540.25 993.5h.9M540.25 997.75h.9M540.25 998.75h.9M540.25 1002.25h.9M540.25 1003.25h.9M540.25 1005.5h.9M540.25 1006.5h.9M540.25 1007h.9M540.25 1007.75h.9M540.25 1008.25h.9M540.25 1009.5h.9M540.25 1009.75h.9M540.25 1010h.9M540.25 1010.25h.9M540.25 1010.75h.9M540.25 1011h.9M540.25 1011.75h.9M540.25 1012h.9M540.25 1012.25h.9M540.25 1012.5h.9M540.25 1012.75h.9M540.25 1013.25h.9M540.25 1013.5h.9M540.25 1014.25h.9M540.25 1015h.9M540.25 1015.25h.9M540.25 1015.75h.9M540.25 1016h.9M540.25 1016.25h.9M540.25 1016.5h.9M540.25 1016.75h.9M540.25 1017h.9M540.25 1017.25h.9M540.25 1017.5h.9M540.25 1018.25h.9M540.25 1020h.9M540.25 1020.25h.9M540.25 1021.75h.9M540.25 1023.75h.9M540.25 1047.5h.9M540.5 932.5h.9M540.5 934.75h.9M540.5 935.75h.9M540.5 942.5h.9M540.5 946.25h.9M540.5 946.5h.9M540.5 947h.9M540.5 947.5h.9M540.5 951.5h.9M540.5 952h.9M540.5 953h.9M540.5 953.5h.9M540.5 956.25h.9M540.5 958.25h.9M540.5 959.25h.9M540.5 962h.9M540.5 970.5h.9M540.5 977.75h.9M540.5 981.75h.9M540.5 985.25h.9M540.5 990.5h.9M540.5 992.5h.9M540.5 995h.9M540.5 996h.9M540.5 1006.5h.9M540.5 1008.5h.9M540.5 1009.25h.9M540.5 1009.5h.9M540.5 1010.25h.9M540.5 1011.5h.9M540.5 1012h.9M540.5 1012.25h.9M540.5 1012.5h.9M540.5 1012.75h.9M540.5 1013.75h.9M540.5 1014h.9M540.5 1014.75h.9M540.5 1015.5h.9M540.5 1015.75h.9M540.5 1016h.9M540.5 1016.75h.9M540.5 1017.5h.9M540.5 1017.75h.9M540.5 1019.25h.9M540.5 1020.25h.9M540.5 1022h.9M540.5 1022.25h.9M540.5 1023.75h.9M540.5 1026h.9M540.5 1026.75h.9M540.75 926.75h.9M540.75 934h.9M540.75 946h.9M540.75 947.75h.9M540.75 948.25h.9M540.75 948.5h.9M540.75 949.25h.9M540.75 949.75h.9M540.75 950.75h.9M540.75 953.75h.9M540.75 956.75h.9M540.75 957.75h.9M540.75 959.5h.9M540.75 964.75h.9M540.75 965.75h.9M540.75 972.25h.9M540.75 972.75h.9M540.75 976.5h.9M540.75 977.25h.9M540.75 980.5h.9M540.75 1005h.9M540.75 1005.75h.9M540.75 1007.5h.9M540.75 1008.75h.9M540.75 1009h.9M540.75 1009.25h.9M540.75 1009.5h.9M540.75 1010.75h.9M540.75 1011.5h.9M540.75 1011.75h.9M540.75 1012h.9M540.75 1012.25h.9M540.75 1012.75h.9M540.75 1013.25h.9M540.75 1013.75h.9M540.75 1014.25h.9M540.75 1014.75h.9M540.75 1015h.9M540.75 1015.25h.9M540.75 1015.5h.9M540.75 1016h.9M540.75 1017.25h.9M540.75 1018h.9M540.75 1018.25h.9M540.75 1018.5h.9M540.75 1019h.9M540.75 1019.75h.9M540.75 1020h.9M540.75 1020.25h.9M540.75 1020.5h.9M540.75 1021.75h.9M540.75 1022.5h.9M540.75 1024.5h.9M540.75 1031.75h.9M541 934.75h.9M541 936h.9M541 937.5h.9M541 940.25h.9M541 941.25h.9M541 945.75h.9M541 949.75h.9M541 952.25h.9M541 953h.9M541 953.75h.9M541 955.75h.9M541 956.5h.9M541 957h.9M541 957.5h.9M541 959h.9M541 959.25h.9M541 967.5h.9M541 973.5h.9M541 977.75h.9M541 979.75h.9M541 996.5h.9M541 1006.75h.9M541 1009h.9M541 1009.25h.9M541 1009.5h.9M541 1009.75h.9M541 1010.75h.9M541 1011h.9M541 1011.25h.9M541 1012.5h.9M541 1014h.9M541 1014.75h.9M541 1016.25h.9M541 1016.5h.9M541 1016.75h.9M541 1017.25h.9M541 1017.5h.9M541 1017.75h.9M541 1018h.9M541 1018.25h.9M541 1018.5h.9M541 1019h.9M541 1020h.9M541 1020.5h.9M541.25 933.75h.9M541.25 934.5h.9M541.25 942h.9M541.25 943h.9M541.25 943.5h.9M541.25 944h.9M541.25 948.5h.9M541.25 949.25h.9M541.25 950.5h.9M541.25 951h.9M541.25 953h.9M541.25 954h.9M541.25 955.75h.9M541.25 956h.9M541.25 958.75h.9M541.25 961h.9M541.25 961.25h.9M541.25 962.25h.9M541.25 963.75h.9M541.25 965.75h.9M541.25 969.5h.9M541.25 970h.9M541.25 973.25h.9M541.25 975h.9M541.25 977.75h.9M541.25 984h.9M541.25 996h.9M541.25 1003h.9M541.25 1008.5h.9M541.25 1009h.9M541.25 1009.5h.9M541.25 1010.25h.9M541.25 1010.5h.9M541.25 1011h.9M541.25 1011.25h.9M541.25 1011.75h.9M541.25 1012.5h.9M541.25 1012.75h.9M541.25 1013.5h.9M541.25 1013.75h.9M541.25 1014.25h.9M541.25 1014.5h.9M541.25 1015.25h.9M541.25 1015.5h.9M541.25 1015.75h.9M541.25 1016.75h.9M541.25 1018.5h.9M541.25 1019.75h.9M541.25 1020.25h.9M541.25 1020.5h.9M541.25 1021.25h.9M541.25 1022.75h.9M541.25 1024.25h.9M541.25 1026h.9M541.5 925.25h.9M541.5 932h.9M541.5 938.75h.9M541.5 940h.9M541.5 940.5h.9M541.5 942.25h.9M541.5 942.75h.9M541.5 944.5h.9M541.5 944.75h.9M541.5 948.25h.9M541.5 948.75h.9M541.5 951.5h.9M541.5 952.25h.9M541.5 953.5h.9M541.5 956.25h.9M541.5 956.75h.9M541.5 957.75h.9M541.5 961h.9M541.5 966h.9M541.5 967.5h.9M541.5 970.75h.9M541.5 983.5h.9M541.5 989h.9M541.5 1007.75h.9M541.5 1009.5h.9M541.5 1010h.9M541.5 1011h.9M541.5 1011.5h.9M541.5 1012.25h.9M541.5 1012.75h.9M541.5 1013.25h.9M541.5 1013.5h.9M541.5 1013.75h.9M541.5 1014h.9M541.5 1014.5h.9M541.5 1015h.9M541.5 1015.25h.9M541.5 1015.5h.9M541.5 1015.75h.9M541.5 1016.5h.9M541.5 1017.75h.9M541.5 1018h.9M541.5 1018.5h.9M541.5 1019h.9M541.5 1019.75h.9M541.5 1020h.9M541.5 1021.25h.9M541.5 1021.5h.9M541.75 937.5h.9M541.75 938h.9M541.75 939.25h.9M541.75 946h.9M541.75 946.75h.9M541.75 948.5h.9M541.75 949h.9M541.75 950.25h.9M541.75 950.75h.9M541.75 951h.9M541.75 951.5h.9M541.75 952.25h.9M541.75 953.25h.9M541.75 953.75h.9M541.75 955h.9M541.75 956.5h.9M541.75 957.5h.9M541.75 958.25h.9M541.75 958.5h.9M541.75 960.25h.9M541.75 962.75h.9M541.75 963.5h.9M541.75 963.75h.9M541.75 968.25h.9M541.75 971.25h.9M541.75 972.25h.9M541.75 972.75h.9M541.75 973h.9M541.75 988h.9M541.75 1007.5h.9M541.75 1009h.9M541.75 1009.25h.9M541.75 1010.75h.9M541.75 1011h.9M541.75 1011.5h.9M541.75 1012.5h.9M541.75 1013.25h.9M541.75 1013.75h.9M541.75 1014.5h.9M541.75 1015.75h.9M541.75 1016.75h.9M541.75 1017h.9M541.75 1017.5h.9M541.75 1018.25h.9M541.75 1019.5h.9M541.75 1023.25h.9M541.75 1023.5h.9M542 915h.9M542 928h.9M542 934h.9M542 935.25h.9M542 935.5h.9M542 942h.9M542 944.75h.9M542 945h.9M542 945.25h.9M542 946h.9M542 947h.9M542 948.75h.9M542 950.5h.9M542 950.75h.9M542 951.5h.9M542 952.75h.9M542 953.5h.9M542 954h.9M542 955.5h.9M542 956h.9M542 960.5h.9M542 961.5h.9M542 964.5h.9M542 966.25h.9M542 970.5h.9M542 980.75h.9M542 999.25h.9M542 1001h.9M542 1003.25h.9M542 1007.5h.9M542 1008.25h.9M542 1010.25h.9M542 1010.5h.9M542 1010.75h.9M542 1011.75h.9M542 1012h.9M542 1012.75h.9M542 1013.5h.9M542 1013.75h.9M542 1014.5h.9M542 1015.25h.9M542 1015.75h.9M542 1016.25h.9M542 1021.25h.9M542 1023.25h.9M542 1026.5h.9M542 1032h.9M542.25 929.75h.9M542.25 930.5h.9M542.25 934h.9M542.25 937h.9M542.25 937.5h.9M542.25 940.25h.9M542.25 942.25h.9M542.25 942.5h.9M542.25 946.5h.9M542.25 948.5h.9M542.25 949.25h.9M542.25 952.5h.9M542.25 953.25h.9M542.25 954.25h.9M542.25 954.75h.9M542.25 960.5h.9M542.25 963.75h.9M542.25 965.25h.9M542.25 966h.9M542.25 967h.9M542.25 968.5h.9M542.25 970h.9M542.25 971.5h.9M542.25 977.25h.9M542.25 984h.9M542.25 999.25h.9M542.25 1008.25h.9M542.25 1008.5h.9M542.25 1008.75h.9M542.25 1009.75h.9M542.25 1010h.9M542.25 1012h.9M542.25 1012.25h.9M542.25 1013h.9M542.25 1013.5h.9M542.25 1014.75h.9M542.25 1016.5h.9M542.25 1017h.9M542.25 1018h.9M542.25 1020.25h.9M542.25 1021h.9M542.25 1021.25h.9M542.25 1028.25h.9M542.5 922.25h.9M542.5 932.75h.9M542.5 933.75h.9M542.5 934.25h.9M542.5 940.75h.9M542.5 941h.9M542.5 947.75h.9M542.5 950h.9M542.5 950.25h.9M542.5 950.5h.9M542.5 951h.9M542.5 952h.9M542.5 952.25h.9M542.5 952.75h.9M542.5 955.75h.9M542.5 956.75h.9M542.5 957.25h.9M542.5 957.75h.9M542.5 958h.9M542.5 958.25h.9M542.5 959.25h.9M542.5 969h.9M542.5 975.5h.9M542.5 998.75h.9M542.5 1005.25h.9M542.5 1005.5h.9M542.5 1006.25h.9M542.5 1007.5h.9M542.5 1012h.9M542.5 1012.75h.9M542.5 1013h.9M542.5 1014.5h.9M542.5 1015.5h.9M542.5 1016h.9M542.5 1017h.9M542.5 1017.5h.9M542.5 1018h.9M542.5 1019.25h.9M542.5 1019.5h.9M542.5 1020h.9M542.5 1020.5h.9M542.5 1021h.9M542.75 910.75h.9M542.75 915.5h.9M542.75 934h.9M542.75 938.25h.9M542.75 939.25h.9M542.75 942h.9M542.75 943h.9M542.75 944.5h.9M542.75 945.25h.9M542.75 946.75h.9M542.75 948.5h.9M542.75 949.5h.9M542.75 950.5h.9M542.75 952h.9M542.75 952.5h.9M542.75 958.25h.9M542.75 962.75h.9M542.75 967.5h.9M542.75 973.5h.9M542.75 975.75h.9M542.75 1006.5h.9M542.75 1008h.9M542.75 1009.25h.9M542.75 1012.25h.9M542.75 1012.75h.9M542.75 1013h.9M542.75 1013.25h.9M542.75 1013.75h.9M542.75 1014.75h.9M542.75 1015h.9M542.75 1015.75h.9M542.75 1016.25h.9M542.75 1016.75h.9M542.75 1017h.9M542.75 1018h.9M542.75 1018.25h.9M542.75 1018.5h.9M542.75 1019.75h.9M542.75 1020.75h.9M542.75 1021.75h.9M542.75 1024.5h.9M542.75 1024.75h.9M542.75 1026.75h.9M542.75 1047h.9M543 930.25h.9M543 933.75h.9M543 934.75h.9M543 941.75h.9M543 943h.9M543 944.5h.9M543 946h.9M543 948h.9M543 950.75h.9M543 952.5h.9M543 952.75h.9M543 954.25h.9M543 955.25h.9M543 958h.9M543 958.25h.9M543 958.5h.9M543 959.5h.9M543 961.25h.9M543 961.75h.9M543 974h.9M543 1000h.9M543 1006.75h.9M543 1007.25h.9M543 1007.5h.9M543 1007.75h.9M543 1008h.9M543 1008.5h.9M543 1008.75h.9M543 1009h.9M543 1009.75h.9M543 1010h.9M543 1010.25h.9M543 1011.75h.9M543 1013.5h.9M543 1013.75h.9M543 1015h.9M543 1015.25h.9M543 1016.25h.9M543 1017h.9M543 1018h.9M543 1022h.9M543 1022.75h.9M543 1026.5h.9M543.25 929.5h.9M543.25 935h.9M543.25 937h.9M543.25 937.5h.9M543.25 942h.9M543.25 943h.9M543.25 944h.9M543.25 945.5h.9M543.25 947.25h.9M543.25 948h.9M543.25 949h.9M543.25 949.25h.9M543.25 951.5h.9M543.25 952h.9M543.25 952.5h.9M543.25 952.75h.9M543.25 953h.9M543.25 953.75h.9M543.25 954h.9M543.25 954.25h.9M543.25 955h.9M543.25 956h.9M543.25 956.25h.9M543.25 957.25h.9M543.25 958h.9M543.25 959.75h.9M543.25 964.25h.9M543.25 965.25h.9M543.25 966.25h.9M543.25 971h.9M543.25 978.75h.9M543.25 987h.9M543.25 1007.5h.9M543.25 1007.75h.9M543.25 1008.25h.9M543.25 1008.5h.9M543.25 1009h.9M543.25 1009.75h.9M543.25 1010h.9M543.25 1011h.9M543.25 1011.5h.9M543.25 1012.25h.9M543.25 1013.75h.9M543.25 1014.25h.9M543.25 1015h.9M543.25 1015.25h.9M543.25 1015.5h.9M543.25 1016h.9M543.25 1016.25h.9M543.25 1017h.9M543.25 1017.5h.9M543.25 1018h.9M543.25 1018.75h.9M543.25 1019.75h.9M543.25 1020.25h.9M543.25 1022h.9M543.25 1025h.9M543.25 1025.5h.9M543.5 926.25h.9M543.5 929.5h.9M543.5 930.25h.9M543.5 932h.9M543.5 934.5h.9M543.5 935.25h.9M543.5 935.5h.9M543.5 936.25h.9M543.5 936.75h.9M543.5 937.25h.9M543.5 939.75h.9M543.5 942.5h.9M543.5 946h.9M543.5 946.5h.9M543.5 948.75h.9M543.5 950.25h.9M543.5 952.5h.9M543.5 955.75h.9M543.5 956.75h.9M543.5 966h.9M543.5 972.5h.9M543.5 988.75h.9M543.5 1003h.9M543.5 1007.5h.9M543.5 1007.75h.9M543.5 1008.75h.9M543.5 1010.25h.9M543.5 1011h.9M543.5 1013h.9M543.5 1013.25h.9M543.5 1013.75h.9M543.5 1014.75h.9M543.5 1016.25h.9M543.5 1016.5h.9M543.5 1017.5h.9M543.5 1017.75h.9M543.5 1018.5h.9M543.5 1019.75h.9M543.5 1020.25h.9M543.5 1022.5h.9M543.5 1026.25h.9M543.75 910.75h.9M543.75 929.5h.9M543.75 931.75h.9M543.75 936h.9M543.75 936.5h.9M543.75 938.75h.9M543.75 939.5h.9M543.75 940h.9M543.75 941.75h.9M543.75 943.75h.9M543.75 944h.9M543.75 947.75h.9M543.75 949.25h.9M543.75 950.75h.9M543.75 951h.9M543.75 951.25h.9M543.75 952.25h.9M543.75 953.25h.9M543.75 955h.9M543.75 955.5h.9M543.75 962.75h.9M543.75 970.5h.9M543.75 975.5h.9M543.75 986.5h.9M543.75 996.5h.9M543.75 1008.25h.9M543.75 1010.5h.9M543.75 1011.5h.9M543.75 1011.75h.9M543.75 1012.75h.9M543.75 1013h.9M543.75 1013.25h.9M543.75 1013.75h.9M543.75 1014.25h.9M543.75 1014.5h.9M543.75 1014.75h.9M543.75 1015h.9M543.75 1015.75h.9M543.75 1017.75h.9M543.75 1018h.9M543.75 1019h.9M543.75 1019.25h.9M543.75 1020.75h.9M544 915.25h.9M544 927.25h.9M544 928.25h.9M544 935h.9M544 936.5h.9M544 939.5h.9M544 942.25h.9M544 943h.9M544 944.5h.9M544 945h.9M544 945.25h.9M544 946h.9M544 946.75h.9M544 947.75h.9M544 949.25h.9M544 950.75h.9M544 952.25h.9M544 953.5h.9M544 956h.9M544 959.25h.9M544 962.25h.9M544 967.5h.9M544 968.75h.9M544 971h.9M544 974h.9M544 984h.9M544 1000.75h.9M544 1001.25h.9M544 1006.25h.9M544 1008h.9M544 1009h.9M544 1009.5h.9M544 1012.25h.9M544 1014h.9M544 1015h.9M544 1015.25h.9M544 1017.75h.9M544 1018h.9M544 1018.75h.9M544 1022.5h.9M544.25 915.5h.9M544.25 935.75h.9M544.25 937.75h.9M544.25 938.75h.9M544.25 940h.9M544.25 940.75h.9M544.25 941.75h.9M544.25 943.75h.9M544.25 944.25h.9M544.25 947.5h.9M544.25 948.25h.9M544.25 948.75h.9M544.25 949.5h.9M544.25 950.5h.9M544.25 950.75h.9M544.25 952.5h.9M544.25 956.75h.9M544.25 968.5h.9M544.25 972h.9M544.25 1000.25h.9M544.25 1004.75h.9M544.25 1007.5h.9M544.25 1007.75h.9M544.25 1008.5h.9M544.25 1009.25h.9M544.25 1009.75h.9M544.25 1010.5h.9M544.25 1012.5h.9M544.25 1013.75h.9M544.25 1015h.9M544.25 1016.75h.9M544.25 1017.25h.9M544.25 1017.5h.9M544.25 1023.5h.9M544.5 930.5h.9M544.5 934.5h.9M544.5 937.75h.9M544.5 938h.9M544.5 939.5h.9M544.5 942h.9M544.5 942.5h.9M544.5 943h.9M544.5 944h.9M544.5 947.5h.9M544.5 948h.9M544.5 948.75h.9M544.5 949.25h.9M544.5 950h.9M544.5 951.25h.9M544.5 951.5h.9M544.5 952.5h.9M544.5 952.75h.9M544.5 954.5h.9M544.5 957.75h.9M544.5 959h.9M544.5 972.5h.9M544.5 982.25h.9M544.5 1003.25h.9M544.5 1004h.9M544.5 1005.5h.9M544.5 1007.75h.9M544.5 1011h.9M544.5 1012.5h.9M544.5 1014.5h.9M544.5 1015h.9M544.5 1015.5h.9M544.5 1018.25h.9M544.5 1021h.9M544.75 933.5h.9M544.75 935.5h.9M544.75 936.25h.9M544.75 937h.9M544.75 937.75h.9M544.75 938.25h.9M544.75 939.25h.9M544.75 941h.9M544.75 944.5h.9M544.75 945h.9M544.75 947.75h.9M544.75 950.5h.9M544.75 953.25h.9M544.75 955h.9M544.75 957.25h.9M544.75 959.75h.9M544.75 964h.9M544.75 970.5h.9M544.75 972.5h.9M544.75 974.75h.9M544.75 979.5h.9M544.75 999.75h.9M544.75 1008.75h.9M544.75 1010.75h.9M544.75 1012.5h.9M544.75 1012.75h.9M544.75 1013.75h.9M544.75 1015.25h.9M544.75 1017.75h.9M544.75 1018h.9M544.75 1019.25h.9M544.75 1019.75h.9M544.75 1021.75h.9M544.75 1023h.9M545 931.5h.9M545 932.25h.9M545 934.5h.9M545 936.25h.9M545 936.75h.9M545 938.25h.9M545 938.75h.9M545 942.25h.9M545 942.75h.9M545 944h.9M545 945.25h.9M545 945.75h.9M545 950h.9M545 950.5h.9M545 951.5h.9M545 952.25h.9M545 953.5h.9M545 954.25h.9M545 955h.9M545 955.25h.9M545 962.25h.9M545 962.75h.9M545 1002.25h.9M545 1004.5h.9M545 1004.75h.9M545 1007h.9M545 1010h.9M545 1011.25h.9M545 1012.25h.9M545 1014h.9M545 1015.75h.9M545 1016.25h.9M545 1018.25h.9M545 1020.25h.9M545 1020.75h.9M545 1021.25h.9M545 1021.5h.9M545.25 903.75h.9M545.25 929.75h.9M545.25 934.5h.9M545.25 936.25h.9M545.25 938.75h.9M545.25 939.25h.9M545.25 942.5h.9M545.25 945.5h.9M545.25 946.25h.9M545.25 947.75h.9M545.25 948.5h.9M545.25 951.25h.9M545.25 951.5h.9M545.25 952h.9M545.25 953.25h.9M545.25 954h.9M545.25 957.75h.9M545.25 958.5h.9M545.25 959.5h.9M545.25 962.5h.9M545.25 970.5h.9M545.25 971.75h.9M545.25 990.25h.9M545.25 1002.25h.9M545.25 1010.25h.9M545.25 1013h.9M545.25 1013.5h.9M545.25 1015.25h.9M545.25 1016h.9M545.25 1018h.9M545.25 1019.5h.9M545.25 1020.25h.9M545.5 919.25h.9M545.5 929.75h.9M545.5 932.5h.9M545.5 937.5h.9M545.5 937.75h.9M545.5 938.75h.9M545.5 940.5h.9M545.5 940.75h.9M545.5 942h.9M545.5 942.25h.9M545.5 943.5h.9M545.5 944h.9M545.5 945.5h.9M545.5 947.25h.9M545.5 948.75h.9M545.5 952.25h.9M545.5 960h.9M545.5 962.5h.9M545.5 964h.9M545.5 966h.9M545.5 971h.9M545.5 975.5h.9M545.5 1002.25h.9M545.5 1002.75h.9M545.5 1010.75h.9M545.5 1011.75h.9M545.5 1013.25h.9M545.5 1013.5h.9M545.5 1014.25h.9M545.5 1015h.9M545.5 1016.5h.9M545.5 1017h.9M545.5 1019.75h.9M545.5 1020h.9M545.75 931.25h.9M545.75 931.5h.9M545.75 938.5h.9M545.75 942.25h.9M545.75 943.5h.9M545.75 945.5h.9M545.75 947.25h.9M545.75 947.75h.9M545.75 948h.9M545.75 949h.9M545.75 949.5h.9M545.75 950.25h.9M545.75 950.75h.9M545.75 951.75h.9M545.75 953h.9M545.75 955h.9M545.75 956.75h.9M545.75 958.5h.9M545.75 968.25h.9M545.75 971h.9M545.75 989.5h.9M545.75 992.75h.9M545.75 1003.25h.9M545.75 1005.5h.9M545.75 1008.75h.9M545.75 1009.5h.9M545.75 1010.5h.9M545.75 1012.25h.9M545.75 1012.75h.9M545.75 1016.25h.9M545.75 1016.75h.9M545.75 1017.25h.9M545.75 1019.5h.9M546 931.5h.9M546 932.75h.9M546 933h.9M546 935h.9M546 935.75h.9M546 937.5h.9M546 938.5h.9M546 945h.9M546 947.25h.9M546 950.25h.9M546 951.5h.9M546 953h.9M546 964.5h.9M546 981.5h.9M546 1006.5h.9M546 1007h.9M546 1009.75h.9M546 1010.5h.9M546 1010.75h.9M546 1011h.9M546 1012.5h.9M546 1013.25h.9M546 1013.75h.9M546 1014.5h.9M546 1015.5h.9M546 1016.25h.9M546 1017h.9M546 1018.5h.9M546 1019.25h.9M546 1020.5h.9M546 1022h.9M546.25 930h.9M546.25 934h.9M546.25 934.75h.9M546.25 939.25h.9M546.25 942h.9M546.25 942.5h.9M546.25 945h.9M546.25 948.5h.9M546.25 949.25h.9M546.25 950.5h.9M546.25 951h.9M546.25 951.25h.9M546.25 951.75h.9M546.25 953.25h.9M546.25 953.5h.9M546.25 956.75h.9M546.25 964h.9M546.25 966.25h.9M546.25 975.75h.9M546.25 1008.5h.9M546.25 1011.25h.9M546.25 1012.5h.9M546.25 1013h.9M546.25 1017.5h.9M546.25 1019h.9M546.25 1020h.9M546.25 1027.25h.9M546.5 919.75h.9M546.5 923.5h.9M546.5 930h.9M546.5 931h.9M546.5 934.5h.9M546.5 935h.9M546.5 935.25h.9M546.5 937h.9M546.5 942.25h.9M546.5 946.75h.9M546.5 947.75h.9M546.5 948.25h.9M546.5 949h.9M546.5 949.5h.9M546.5 953.25h.9M546.5 953.75h.9M546.5 954.75h.9M546.5 957h.9M546.5 957.5h.9M546.5 960.75h.9M546.5 995.25h.9M546.5 1005.25h.9M546.5 1009.75h.9M546.5 1011h.9M546.5 1015h.9M546.5 1015.5h.9M546.5 1017.75h.9M546.75 931.75h.9M546.75 934.75h.9M546.75 935.5h.9M546.75 938.25h.9M546.75 940.5h.9M546.75 941.25h.9M546.75 941.5h.9M546.75 942.5h.9M546.75 944h.9M546.75 946.75h.9M546.75 947.5h.9M546.75 951.25h.9M546.75 957h.9M546.75 958.75h.9M546.75 961.25h.9M546.75 978h.9M546.75 1008h.9M546.75 1013.75h.9M546.75 1015.25h.9M546.75 1017.5h.9M546.75 1018.5h.9M546.75 1019h.9M546.75 1019.5h.9M546.75 1020h.9M546.75 1024.25h.9M546.75 1024.5h.9M547 930.75h.9M547 932.75h.9M547 934.75h.9M547 937.5h.9M547 937.75h.9M547 940.75h.9M547 946.75h.9M547 947.25h.9M547 949.5h.9M547 951.25h.9M547 954.25h.9M547 955.25h.9M547 960h.9M547 961.5h.9M547 962.75h.9M547 968.25h.9M547 987.25h.9M547 997.5h.9M547 1004.75h.9M547 1013.5h.9M547 1016.75h.9M547 1017h.9M547 1024.25h.9M547 1031.5h.9M547.25 927.75h.9M547.25 931h.9M547.25 931.5h.9M547.25 934.25h.9M547.25 936h.9M547.25 937.25h.9M547.25 937.75h.9M547.25 938h.9M547.25 939h.9M547.25 942.75h.9M547.25 943.75h.9M547.25 944h.9M547.25 944.5h.9M547.25 947.5h.9M547.25 951.25h.9M547.25 953.5h.9M547.25 954.25h.9M547.25 955.5h.9M547.25 958.25h.9M547.25 959.5h.9M547.25 965.25h.9M547.25 965.75h.9M547.25 971.25h.9M547.25 973.25h.9M547.25 1004.25h.9M547.25 1007.75h.9M547.25 1009.25h.9M547.25 1011.75h.9M547.25 1017.5h.9M547.5 908h.9M547.5 914.5h.9M547.5 929.5h.9M547.5 932.5h.9M547.5 933.25h.9M547.5 934.25h.9M547.5 937.25h.9M547.5 938.25h.9M547.5 943.5h.9M547.5 944h.9M547.5 944.25h.9M547.5 946.75h.9M547.5 950.5h.9M547.5 953.25h.9M547.5 953.5h.9M547.5 956.5h.9M547.5 956.75h.9M547.5 959.25h.9M547.5 968.5h.9M547.5 1013.25h.9M547.5 1014.75h.9M547.5 1016h.9M547.5 1018.25h.9M547.5 1018.5h.9M547.75 906.5h.9M547.75 915h.9M547.75 919.5h.9M547.75 926.75h.9M547.75 929.5h.9M547.75 934.5h.9M547.75 935.5h.9M547.75 936.25h.9M547.75 938.25h.9M547.75 939.25h.9M547.75 945.5h.9M547.75 949.25h.9M547.75 950h.9M547.75 950.5h.9M547.75 954h.9M547.75 954.25h.9M547.75 954.5h.9M547.75 972.5h.9M547.75 986.5h.9M547.75 1008h.9M547.75 1013h.9M547.75 1014.75h.9M547.75 1016.75h.9M547.75 1018h.9M547.75 1020.5h.9M548 933.75h.9M548 935.5h.9M548 936.5h.9M548 938.5h.9M548 945.25h.9M548 946h.9M548 946.75h.9M548 952.25h.9M548 956h.9M548 956.25h.9M548 1012h.9M548 1018.75h.9M548 1020h.9M548.25 919h.9M548.25 929.75h.9M548.25 931.5h.9M548.25 934.75h.9M548.25 935.5h.9M548.25 936.25h.9M548.25 937h.9M548.25 937.25h.9M548.25 939h.9M548.25 939.75h.9M548.25 941.5h.9M548.25 941.75h.9M548.25 947.5h.9M548.25 948.75h.9M548.25 951h.9M548.25 952.25h.9M548.25 954.25h.9M548.25 955.5h.9M548.25 956.25h.9M548.25 959.25h.9M548.25 991h.9M548.25 992.75h.9M548.25 1005.75h.9M548.25 1010.75h.9M548.25 1013h.9M548.25 1013.5h.9M548.25 1014.75h.9M548.25 1018h.9M548.25 1021.75h.9M548.25 1027.75h.9M548.5 931h.9M548.5 932.5h.9M548.5 933.25h.9M548.5 934h.9M548.5 934.5h.9M548.5 936.25h.9M548.5 939.75h.9M548.5 940.75h.9M548.5 947.25h.9M548.5 947.5h.9M548.5 948.25h.9M548.5 948.5h.9M548.5 950.75h.9M548.5 951.25h.9M548.5 955.25h.9M548.5 967.5h.9M548.5 969.25h.9M548.5 969.75h.9M548.5 987.5h.9M548.5 1004.5h.9M548.5 1011.25h.9M548.5 1012h.9M548.5 1013.75h.9M548.5 1017.5h.9M548.75 924.25h.9M548.75 931.5h.9M548.75 931.75h.9M548.75 936.5h.9M548.75 937.5h.9M548.75 939.75h.9M548.75 942.25h.9M548.75 947.75h.9M548.75 954.5h.9M548.75 954.75h.9M548.75 956.5h.9M548.75 964.25h.9M548.75 990.5h.9M548.75 1013.25h.9M549 920.5h.9M549 931.5h.9M549 933.25h.9M549 936.25h.9M549 936.75h.9M549 937h.9M549 939.5h.9M549 940.25h.9M549 941h.9M549 945.75h.9M549 947h.9M549 949h.9M549 950.25h.9M549 950.5h.9M549 951.25h.9M549 954.75h.9M549 955.5h.9M549 959h.9M549 959.75h.9M549 966.25h.9M549 1013.5h.9M549 1016h.9M549.25 927h.9M549.25 934.25h.9M549.25 934.5h.9M549.25 935.75h.9M549.25 936.75h.9M549.25 937.25h.9M549.25 938h.9M549.25 941.25h.9M549.25 941.75h.9M549.25 944.75h.9M549.25 946.25h.9M549.25 946.75h.9M549.25 947h.9M549.25 949.25h.9M549.25 949.5h.9M549.25 949.75h.9M549.25 951.5h.9M549.25 951.75h.9M549.25 952.25h.9M549.25 954.5h.9M549.25 954.75h.9M549.25 956h.9M549.25 956.5h.9M549.25 960.5h.9M549.25 962h.9M549.25 966.75h.9M549.25 970h.9M549.25 999h.9M549.25 1008.75h.9M549.25 1010.75h.9M549.25 1011.75h.9M549.25 1014.25h.9M549.25 1014.75h.9M549.25 1023.5h.9M549.5 921h.9M549.5 927h.9M549.5 935h.9M549.5 935.25h.9M549.5 942.25h.9M549.5 945.25h.9M549.5 951.25h.9M549.5 954.5h.9M549.5 1009h.9M549.5 1015.5h.9M549.5 1017.5h.9M549.75 920.75h.9M549.75 922.5h.9M549.75 924.5h.9M549.75 929.25h.9M549.75 932.75h.9M549.75 935.75h.9M549.75 940h.9M549.75 943h.9M549.75 943.25h.9M549.75 950.75h.9M549.75 955.25h.9M549.75 957.25h.9M549.75 960.5h.9M549.75 1011h.9M549.75 1012h.9M550 922h.9M550 923.5h.9M550 931.25h.9M550 932.75h.9M550 934.75h.9M550 936.5h.9M550 937.75h.9M550 939.25h.9M550 939.75h.9M550 941h.9M550 941.25h.9M550 941.75h.9M550 942.5h.9M550 943.5h.9M550 945.5h.9M550 948h.9M550 950.25h.9M550 951.75h.9M550 952.25h.9M550 955.75h.9M550 957.25h.9M550 960.25h.9M550 1010.5h.9M550 1013.5h.9M550.25 919.25h.9M550.25 922h.9M550.25 931.5h.9M550.25 933.25h.9M550.25 936h.9M550.25 936.75h.9M550.25 937h.9M550.25 938.25h.9M550.25 942.5h.9M550.25 943h.9M550.25 943.5h.9M550.25 943.75h.9M550.25 944.5h.9M550.25 946.5h.9M550.25 950h.9M550.25 952h.9M550.25 960.5h.9M550.25 1004.25h.9M550.25 1008h.9M550.5 923.5h.9M550.5 939h.9M550.5 939.5h.9M550.5 943h.9M550.5 945.25h.9M550.5 945.5h.9M550.5 945.75h.9M550.5 947h.9M550.5 948.5h.9M550.5 954h.9M550.5 955h.9M550.5 964.5h.9M550.5 972.25h.9M550.5 1000.5h.9M550.5 1005h.9M550.5 1009h.9M550.75 925h.9M550.75 930.75h.9M550.75 931h.9M550.75 931.25h.9M550.75 931.5h.9M550.75 932.5h.9M550.75 934h.9M550.75 934.75h.9M550.75 935h.9M550.75 936h.9M550.75 936.25h.9M550.75 936.75h.9M550.75 938.25h.9M550.75 939.75h.9M550.75 940h.9M550.75 941.25h.9M550.75 941.5h.9M550.75 942.5h.9M550.75 945h.9M550.75 945.5h.9M550.75 946.5h.9M550.75 947.25h.9M550.75 947.75h.9M550.75 948.5h.9M550.75 949h.9M550.75 950.5h.9M550.75 951h.9M550.75 959.5h.9M550.75 975.75h.9M550.75 991.5h.9M550.75 1011.25h.9M550.75 1015.5h.9M550.75 1016.25h.9M551 915.5h.9M551 922.25h.9M551 928.75h.9M551 929.5h.9M551 930.75h.9M551 931.5h.9M551 935h.9M551 937.75h.9M551 938.5h.9M551 939h.9M551 942.5h.9M551 943h.9M551 945.25h.9M551 946.75h.9M551 947.75h.9M551 950h.9M551 956.75h.9M551 999.5h.9M551 1019.25h.9M551.25 932.5h.9M551.25 935h.9M551.25 936h.9M551.25 937.25h.9M551.25 942.5h.9M551.25 942.75h.9M551.25 943.5h.9M551.25 943.75h.9M551.25 944.25h.9M551.25 944.5h.9M551.25 945.5h.9M551.25 947.25h.9M551.25 948.5h.9M551.25 948.75h.9M551.25 975.25h.9M551.5 916h.9M551.5 919.5h.9M551.5 920.5h.9M551.5 924.75h.9M551.5 926.25h.9M551.5 931h.9M551.5 933.75h.9M551.5 936h.9M551.5 936.75h.9M551.5 940.25h.9M551.5 941h.9M551.5 941.75h.9M551.5 942.5h.9M551.5 945.5h.9M551.5 947.75h.9M551.5 949.25h.9M551.5 949.75h.9M551.5 950.5h.9M551.5 952h.9M551.5 953.25h.9M551.5 953.5h.9M551.5 957.75h.9M551.5 962.25h.9M551.5 965.5h.9M551.5 988.5h.9M551.5 1014.5h.9M551.5 1018.25h.9M551.75 926.75h.9M551.75 932.5h.9M551.75 932.75h.9M551.75 934.25h.9M551.75 938.5h.9M551.75 942.5h.9M551.75 943.75h.9M551.75 944.75h.9M551.75 945h.9M551.75 955.5h.9M551.75 962.25h.9M552 920.75h.9M552 928h.9M552 930.25h.9M552 930.5h.9M552 931.5h.9M552 932h.9M552 938.25h.9M552 939.75h.9M552 942.75h.9M552 943h.9M552 944.5h.9M552 948h.9M552 955h.9M552 956.5h.9M552 993.25h.9M552 1014.25h.9M552.25 914.75h.9M552.25 920.5h.9M552.25 921.75h.9M552.25 926.75h.9M552.25 927.75h.9M552.25 929.25h.9M552.25 932.25h.9M552.25 932.5h.9M552.25 932.75h.9M552.25 933.5h.9M552.25 934.75h.9M552.25 935h.9M552.25 937.25h.9M552.25 940.25h.9M552.25 947.75h.9M552.25 1027.25h.9M552.5 915.75h.9M552.5 917.25h.9M552.5 918.75h.9M552.5 920h.9M552.5 925.75h.9M552.5 926h.9M552.5 936h.9M552.5 937.5h.9M552.5 944.25h.9M552.5 947.75h.9M552.5 952.75h.9M552.5 958.75h.9M552.5 962h.9M552.5 965.5h.9M552.5 972.5h.9M552.5 996.5h.9M552.5 1019.75h.9M552.75 920.75h.9M552.75 926.5h.9M552.75 931.25h.9M552.75 931.5h.9M552.75 932.75h.9M552.75 933h.9M552.75 935h.9M552.75 935.25h.9M552.75 935.5h.9M552.75 936.5h.9M552.75 937.5h.9M552.75 938.25h.9M552.75 938.5h.9M552.75 940.5h.9M552.75 941.25h.9M552.75 941.5h.9M552.75 943.5h.9M552.75 945.5h.9M552.75 946.75h.9M552.75 953.5h.9M552.75 963.5h.9M552.75 972.25h.9M552.75 998.75h.9M552.75 1015.25h.9M553 919.5h.9M553 923h.9M553 925h.9M553 925.25h.9M553 929.5h.9M553 930.5h.9M553 934h.9M553 934.5h.9M553 939.25h.9M553 939.75h.9M553 940.75h.9M553 941h.9M553 941.75h.9M553 943.75h.9M553 944.75h.9M553 947h.9M553 949h.9M553 954.75h.9M553 956h.9M553 959h.9M553 980h.9M553 1001.5h.9M553 1019.25h.9M553.25 906.25h.9M553.25 910h.9M553.25 928.75h.9M553.25 930h.9M553.25 931.5h.9M553.25 934.75h.9M553.25 935.5h.9M553.25 935.75h.9M553.25 936.75h.9M553.25 937.75h.9M553.25 939.25h.9M553.25 942.75h.9M553.25 944.25h.9M553.25 944.5h.9M553.25 947.75h.9M553.25 950h.9M553.25 970.75h.9M553.25 1003.75h.9M553.25 1010.25h.9M553.5 924.25h.9M553.5 927.25h.9M553.5 927.75h.9M553.5 929.25h.9M553.5 932.25h.9M553.5 933.75h.9M553.5 940.75h.9M553.5 941.75h.9M553.5 943.25h.9M553.5 943.5h.9M553.5 945.25h.9M553.5 946.25h.9M553.5 949.25h.9M553.5 955.5h.9M553.5 957.5h.9M553.5 984h.9M553.5 1001.75h.9M553.75 912.75h.9M553.75 916.75h.9M553.75 920.5h.9M553.75 925h.9M553.75 925.75h.9M553.75 927.5h.9M553.75 930.5h.9M553.75 931h.9M553.75 931.5h.9M553.75 932.5h.9M553.75 933.25h.9M553.75 935.75h.9M553.75 936.25h.9M553.75 936.5h.9M553.75 937h.9M553.75 939.75h.9M553.75 941.25h.9M553.75 942.25h.9M553.75 943.5h.9M553.75 943.75h.9M553.75 944h.9M553.75 945h.9M553.75 945.5h.9M553.75 945.75h.9M553.75 946h.9M553.75 947h.9M553.75 947.5h.9M553.75 948.5h.9M553.75 949.75h.9M553.75 952.75h.9M553.75 953h.9M553.75 956.5h.9M553.75 1008h.9M553.75 1013.5h.9M554 918.25h.9M554 920h.9M554 920.25h.9M554 922h.9M554 924h.9M554 927.5h.9M554 934h.9M554 934.5h.9M554 935.5h.9M554 936.25h.9M554 938.75h.9M554 940.75h.9M554 942h.9M554 943.75h.9M554 945.5h.9M554 947.25h.9M554 951.5h.9M554 953h.9M554 959.5h.9M554 1009.75h.9M554 1012.25h.9M554.25 920.75h.9M554.25 925h.9M554.25 925.25h.9M554.25 925.5h.9M554.25 926.25h.9M554.25 928h.9M554.25 930.5h.9M554.25 933h.9M554.25 934h.9M554.25 934.75h.9M554.25 935.25h.9M554.25 936.25h.9M554.25 937.25h.9M554.25 939.5h.9M554.25 945.5h.9M554.25 948.5h.9M554.25 955.75h.9M554.5 913.5h.9M554.5 921h.9M554.5 924.5h.9M554.5 929.25h.9M554.5 930h.9M554.5 932h.9M554.5 933.25h.9M554.5 933.5h.9M554.5 938h.9M554.5 938.75h.9M554.5 939h.9M554.5 939.25h.9M554.5 944h.9M554.5 944.75h.9M554.5 946h.9M554.5 946.25h.9M554.5 946.75h.9M554.5 949.75h.9M554.5 950.25h.9M554.5 952.5h.9M554.5 960.75h.9M554.5 962.5h.9M554.5 1003h.9M554.75 905.5h.9M554.75 923.75h.9M554.75 924.75h.9M554.75 926h.9M554.75 926.25h.9M554.75 927.25h.9M554.75 928h.9M554.75 929.5h.9M554.75 930.5h.9M554.75 932.25h.9M554.75 933h.9M554.75 933.25h.9M554.75 935.25h.9M554.75 935.75h.9M554.75 936.25h.9M554.75 949.25h.9M554.75 949.75h.9M554.75 955h.9M554.75 976.75h.9M554.75 984.75h.9M555 912.25h.9M555 915.5h.9M555 925h.9M555 925.75h.9M555 926.75h.9M555 928.25h.9M555 928.5h.9M555 933h.9M555 933.25h.9M555 935h.9M555 935.75h.9M555 936h.9M555 937h.9M555 938.25h.9M555 939h.9M555 939.25h.9M555 941.75h.9M555 942.5h.9M555 946.25h.9M555 949.75h.9M555 959.25h.9M555 988.25h.9M555.25 917.75h.9M555.25 925.25h.9M555.25 925.5h.9M555.25 925.75h.9M555.25 927.5h.9M555.25 929h.9M555.25 930h.9M555.25 933.5h.9M555.25 935h.9M555.25 936.75h.9M555.25 937.25h.9M555.25 937.75h.9M555.25 938.5h.9M555.25 939h.9M555.25 942.25h.9M555.25 943.5h.9M555.25 948.25h.9M555.25 951h.9M555.25 955.75h.9M555.25 956.75h.9M555.25 968.5h.9M555.25 968.75h.9M555.5 917.25h.9M555.5 918h.9M555.5 926.5h.9M555.5 928.5h.9M555.5 930h.9M555.5 935h.9M555.5 935.25h.9M555.5 935.5h.9M555.5 936h.9M555.5 936.5h.9M555.5 937.5h.9M555.5 939.25h.9M555.5 946.25h.9M555.5 962.25h.9M555.5 963.5h.9M555.5 987.5h.9M555.5 1008.5h.9M555.75 923h.9M555.75 925.25h.9M555.75 926.5h.9M555.75 927.5h.9M555.75 928.25h.9M555.75 929h.9M555.75 929.75h.9M555.75 930.75h.9M555.75 931h.9M555.75 932.25h.9M555.75 933.5h.9M555.75 935.25h.9M555.75 936.5h.9M555.75 937.25h.9M555.75 939.75h.9M555.75 941.25h.9M555.75 941.5h.9M555.75 942.75h.9M555.75 987.5h.9M556 912h.9M556 913.5h.9M556 918.25h.9M556 927.75h.9M556 929.25h.9M556 930.25h.9M556 935h.9M556 936.25h.9M556 936.5h.9M556 937.25h.9M556 937.75h.9M556 938.25h.9M556 938.5h.9M556 940h.9M556 941.25h.9M556 944h.9M556 950.5h.9M556 957.25h.9M556 985.25h.9M556 987.5h.9M556 1019.75h.9M556.25 906.75h.9M556.25 917.75h.9M556.25 918.5h.9M556.25 922h.9M556.25 924.25h.9M556.25 925h.9M556.25 927.25h.9M556.25 927.5h.9M556.25 928.25h.9M556.25 930.25h.9M556.25 930.75h.9M556.25 933.75h.9M556.25 935.25h.9M556.25 937h.9M556.25 937.25h.9M556.25 941.25h.9M556.25 941.5h.9M556.25 941.75h.9M556.25 942.75h.9M556.25 945.25h.9M556.25 948.75h.9M556.25 955.25h.9M556.25 958.25h.9M556.25 958.75h.9M556.25 1014h.9M556.5 915.25h.9M556.5 917.75h.9M556.5 918.75h.9M556.5 919h.9M556.5 920.25h.9M556.5 921h.9M556.5 922.25h.9M556.5 926.5h.9M556.5 927.25h.9M556.5 929.5h.9M556.5 932h.9M556.5 932.25h.9M556.5 933.25h.9M556.5 934.75h.9M556.5 937.25h.9M556.5 941.25h.9M556.5 941.5h.9M556.5 942.25h.9M556.5 944.75h.9M556.5 1004h.9M556.5 1016.5h.9M556.75 913h.9M556.75 915.5h.9M556.75 917.75h.9M556.75 918.5h.9M556.75 923.25h.9M556.75 929.75h.9M556.75 930.25h.9M556.75 930.5h.9M556.75 932.75h.9M556.75 934.5h.9M556.75 935.25h.9M556.75 938.25h.9M556.75 938.5h.9M556.75 940.5h.9M556.75 940.75h.9M556.75 941h.9M556.75 941.75h.9M556.75 943h.9M556.75 944.5h.9M556.75 946h.9M556.75 948.75h.9M556.75 954.5h.9M556.75 978.5h.9M556.75 1000.75h.9M556.75 1003.75h.9M556.75 1004.75h.9M556.75 1020h.9M557 918.5h.9M557 919h.9M557 922.5h.9M557 923.5h.9M557 925.5h.9M557 927.25h.9M557 928.5h.9M557 929.25h.9M557 931.5h.9M557 934.25h.9M557 935.5h.9M557 937h.9M557 937.75h.9M557 938h.9M557 938.25h.9M557 939h.9M557 942h.9M557 945h.9M557 948.5h.9M557 956.75h.9M557 963.5h.9M557.25 919.75h.9M557.25 921h.9M557.25 921.75h.9M557.25 922.75h.9M557.25 924.25h.9M557.25 927.5h.9M557.25 927.75h.9M557.25 928.25h.9M557.25 928.75h.9M557.25 930.5h.9M557.25 931.25h.9M557.25 931.5h.9M557.25 932.5h.9M557.25 933.75h.9M557.25 935.25h.9M557.25 936h.9M557.25 938.5h.9M557.25 940.75h.9M557.25 941h.9M557.25 945.5h.9M557.25 986.5h.9M557.25 1018.25h.9M557.5 919.5h.9M557.5 920h.9M557.5 921.75h.9M557.5 922h.9M557.5 923.25h.9M557.5 924.25h.9M557.5 925.5h.9M557.5 926.5h.9M557.5 927h.9M557.5 927.5h.9M557.5 929.5h.9M557.5 930.25h.9M557.5 930.5h.9M557.5 931.25h.9M557.5 932h.9M557.5 933.75h.9M557.5 934.5h.9M557.5 935.25h.9M557.5 938.5h.9M557.5 939.75h.9M557.5 942.25h.9M557.5 945.25h.9M557.5 947.75h.9M557.5 949.5h.9M557.5 953.5h.9M557.5 956.5h.9M557.5 958h.9M557.5 963.75h.9M557.5 985.25h.9M557.5 1007.75h.9M557.5 1033.25h.9M557.75 920.75h.9M557.75 924.5h.9M557.75 927.5h.9M557.75 928.25h.9M557.75 932.25h.9M557.75 934.5h.9M557.75 934.75h.9M557.75 936.25h.9M557.75 936.5h.9M557.75 937h.9M557.75 941h.9M557.75 946.25h.9M557.75 949.75h.9M557.75 958.25h.9M557.75 963h.9M557.75 1036h.9M558 919.5h.9M558 921.25h.9M558 924.75h.9M558 927.25h.9M558 928h.9M558 928.25h.9M558 929.5h.9M558 931.25h.9M558 932.5h.9M558 934.25h.9M558 935.5h.9M558 937.25h.9M558 938.25h.9M558 951h.9M558 951.25h.9M558 968.25h.9M558.25 898h.9M558.25 919h.9M558.25 921.75h.9M558.25 923.25h.9M558.25 924.25h.9M558.25 925.25h.9M558.25 925.5h.9M558.25 926.25h.9M558.25 928h.9M558.25 931.25h.9M558.25 932.75h.9M558.25 933.5h.9M558.25 933.75h.9M558.25 935h.9M558.25 937.5h.9M558.25 939.75h.9M558.25 941h.9M558.25 942.25h.9M558.25 949.5h.9M558.5 908.75h.9M558.5 909h.9M558.5 914.75h.9M558.5 916.5h.9M558.5 921.5h.9M558.5 923.25h.9M558.5 925.5h.9M558.5 926h.9M558.5 927h.9M558.5 929.5h.9M558.5 932.5h.9M558.5 933h.9M558.5 936h.9M558.5 937h.9M558.5 938h.9M558.5 939.25h.9M558.5 940.25h.9M558.5 940.5h.9M558.5 941h.9M558.5 949.5h.9M558.5 950h.9M558.5 952h.9M558.5 1002.25h.9M558.5 1008.25h.9M558.75 910.75h.9M558.75 923.25h.9M558.75 924.5h.9M558.75 925.25h.9M558.75 925.5h.9M558.75 926h.9M558.75 927h.9M558.75 928.75h.9M558.75 929.75h.9M558.75 930.5h.9M558.75 931.75h.9M558.75 932.75h.9M558.75 933.25h.9M558.75 937h.9M558.75 938h.9M558.75 939.75h.9M558.75 940h.9M558.75 941.25h.9M558.75 943.25h.9M558.75 945.25h.9M558.75 947.25h.9M558.75 950.25h.9M558.75 954h.9M558.75 1008.25h.9M558.75 1020.25h.9M559 900.25h.9M559 923h.9M559 923.25h.9M559 924h.9M559 927.75h.9M559 933.25h.9M559 933.5h.9M559 934h.9M559 935.75h.9M559 936.5h.9M559 936.75h.9M559 938h.9M559 939.5h.9M559 941.5h.9M559 943.5h.9M559 944.25h.9M559 944.75h.9M559 952.25h.9M559 976.5h.9M559 1007h.9M559 1012.5h.9M559 1049.5h.9M559.25 915.25h.9M559.25 920h.9M559.25 921.25h.9M559.25 925.5h.9M559.25 926h.9M559.25 927.5h.9M559.25 928.5h.9M559.25 930.5h.9M559.25 933.75h.9M559.25 934.25h.9M559.25 934.75h.9M559.25 937h.9M559.25 938.5h.9M559.25 945.25h.9M559.25 947.75h.9M559.25 949.25h.9M559.25 954.25h.9M559.25 957h.9M559.25 968.75h.9M559.25 981.5h.9M559.5 916h.9M559.5 921h.9M559.5 925.25h.9M559.5 926.25h.9M559.5 926.75h.9M559.5 927.75h.9M559.5 929.75h.9M559.5 933.5h.9M559.5 935.75h.9M559.5 936h.9M559.5 938.75h.9M559.5 940h.9M559.5 940.5h.9M559.5 941.25h.9M559.5 941.75h.9M559.5 942.25h.9M559.5 944.75h.9M559.5 946.5h.9M559.5 954.75h.9M559.5 957.75h.9M559.5 961.25h.9M559.5 980h.9M559.5 982.5h.9M559.5 1006h.9M559.5 1011.5h.9M559.75 912h.9M559.75 920.25h.9M559.75 922h.9M559.75 924.25h.9M559.75 924.75h.9M559.75 925.25h.9M559.75 925.75h.9M559.75 926.5h.9M559.75 928.25h.9M559.75 929.75h.9M559.75 930.5h.9M559.75 930.75h.9M559.75 932.25h.9M559.75 932.75h.9M559.75 933.75h.9M559.75 938.5h.9M559.75 938.75h.9M559.75 939.25h.9M559.75 940.25h.9M559.75 940.75h.9M559.75 943.75h.9M559.75 945h.9M559.75 946.25h.9M559.75 953.5h.9M559.75 973.5h.9M559.75 1033.5h.9M560 898.75h.9M560 916.25h.9M560 917.25h.9M560 922.25h.9M560 922.5h.9M560 923.75h.9M560 924h.9M560 924.25h.9M560 927.75h.9M560 929h.9M560 930.5h.9M560 931.25h.9M560 931.5h.9M560 932h.9M560 933h.9M560 933.5h.9M560 933.75h.9M560 934.5h.9M560 934.75h.9M560 939.25h.9M560 949.25h.9M560 953h.9M560 980h.9M560 1006.5h.9M560.25 912h.9M560.25 915.75h.9M560.25 920.25h.9M560.25 920.75h.9M560.25 923.75h.9M560.25 925.5h.9M560.25 926h.9M560.25 927h.9M560.25 927.5h.9M560.25 927.75h.9M560.25 929h.9M560.25 936.75h.9M560.25 937.25h.9M560.25 941.75h.9M560.25 942.25h.9M560.25 942.75h.9M560.25 943.75h.9M560.25 954.5h.9M560.5 906.75h.9M560.5 921h.9M560.5 925.25h.9M560.5 933.25h.9M560.5 934.25h.9M560.5 936h.9M560.5 937.25h.9M560.5 939h.9M560.5 940h.9M560.5 941h.9M560.5 941.5h.9M560.5 948.5h.9M560.75 918.5h.9M560.75 920.5h.9M560.75 923.25h.9M560.75 924.25h.9M560.75 927.25h.9M560.75 932.5h.9M560.75 935h.9M560.75 935.5h.9M560.75 936h.9M560.75 937.5h.9M560.75 938h.9M560.75 938.5h.9M560.75 940.25h.9M560.75 940.75h.9M560.75 942.75h.9M560.75 943.25h.9M560.75 947.5h.9M561 914.5h.9M561 917.75h.9M561 918.25h.9M561 919.25h.9M561 920.5h.9M561 920.75h.9M561 922.75h.9M561 923.75h.9M561 925h.9M561 926.5h.9M561 929.5h.9M561 931.25h.9M561 936.5h.9M561 938.5h.9M561 941h.9M561 941.25h.9M561 942h.9M561 942.5h.9M561 967.75h.9M561 989.75h.9M561 1014.25h.9M561.25 913.75h.9M561.25 914.75h.9M561.25 915.25h.9M561.25 918.75h.9M561.25 922.75h.9M561.25 923.25h.9M561.25 926.5h.9M561.25 927.75h.9M561.25 928h.9M561.25 928.25h.9M561.25 929h.9M561.25 930.25h.9M561.25 933h.9M561.25 933.25h.9M561.25 935.25h.9M561.25 935.5h.9M561.25 935.75h.9M561.25 937.5h.9M561.25 941.25h.9M561.25 941.75h.9M561.25 952.75h.9M561.25 953.5h.9M561.25 967.75h.9M561.5 913.25h.9M561.5 921.75h.9M561.5 923.25h.9M561.5 924h.9M561.5 924.75h.9M561.5 926.5h.9M561.5 927h.9M561.5 927.75h.9M561.5 932.25h.9M561.5 934.25h.9M561.5 937h.9M561.5 938h.9M561.5 939.5h.9M561.5 940.25h.9M561.5 942.75h.9M561.5 943.5h.9M561.5 944.75h.9M561.5 965.75h.9M561.75 922h.9M561.75 922.75h.9M561.75 923.5h.9M561.75 924.75h.9M561.75 925.25h.9M561.75 929.75h.9M561.75 930.75h.9M561.75 931.25h.9M561.75 932h.9M561.75 934.75h.9M561.75 935h.9M561.75 937.75h.9M561.75 939h.9M561.75 939.75h.9M561.75 942.5h.9M561.75 944h.9M561.75 958h.9M561.75 976.75h.9M561.75 978.25h.9M561.75 1006.75h.9M561.75 1017.5h.9M562 896.5h.9M562 909.75h.9M562 911.5h.9M562 913.75h.9M562 915.5h.9M562 917.25h.9M562 920.5h.9M562 921h.9M562 927.5h.9M562 927.75h.9M562 930.5h.9M562 931.25h.9M562 933h.9M562 933.75h.9M562 935h.9M562 935.5h.9M562 939.5h.9M562 940.5h.9M562 942.75h.9M562 943.5h.9M562 946h.9M562 947.25h.9M562 962h.9M562.25 918h.9M562.25 920.75h.9M562.25 921h.9M562.25 924h.9M562.25 927.5h.9M562.25 927.75h.9M562.25 931.5h.9M562.25 932.5h.9M562.25 933h.9M562.25 937h.9M562.25 938.75h.9M562.25 940.25h.9M562.25 942h.9M562.25 943.25h.9M562.25 945.25h.9M562.25 947.5h.9M562.25 992.5h.9M562.25 999.5h.9M562.5 913h.9M562.5 916.25h.9M562.5 920h.9M562.5 921h.9M562.5 921.25h.9M562.5 921.5h.9M562.5 922.75h.9M562.5 923.75h.9M562.5 925h.9M562.5 925.5h.9M562.5 928.5h.9M562.5 929h.9M562.5 930.75h.9M562.5 933.75h.9M562.5 946.75h.9M562.5 948h.9M562.5 1003h.9M562.75 916.75h.9M562.75 917.75h.9M562.75 920.25h.9M562.75 920.5h.9M562.75 921h.9M562.75 923.25h.9M562.75 925h.9M562.75 926h.9M562.75 927h.9M562.75 928.75h.9M562.75 931h.9M562.75 931.25h.9M562.75 932.5h.9M562.75 938h.9M562.75 939h.9M562.75 941h.9M562.75 943h.9M562.75 943.25h.9M562.75 954.25h.9M562.75 989.5h.9M563 914h.9M563 920.5h.9M563 922.25h.9M563 924h.9M563 924.25h.9M563 925.25h.9M563 927.75h.9M563 930.5h.9M563 931.75h.9M563 934.5h.9M563 934.75h.9M563 936h.9M563 938.5h.9M563 938.75h.9M563 940.25h.9M563 940.75h.9M563 941.25h.9M563 1009h.9M563 1017.5h.9M563 1021h.9M563.25 911.75h.9M563.25 916.5h.9M563.25 918h.9M563.25 919.75h.9M563.25 922.75h.9M563.25 923h.9M563.25 924h.9M563.25 925h.9M563.25 925.25h.9M563.25 926h.9M563.25 927h.9M563.25 927.5h.9M563.25 929.75h.9M563.25 930h.9M563.25 931.5h.9M563.25 932.25h.9M563.25 932.75h.9M563.25 934h.9M563.25 935.5h.9M563.25 935.75h.9M563.25 936.75h.9M563.25 937.75h.9M563.25 938.25h.9M563.25 943.25h.9M563.25 944h.9M563.25 947.25h.9M563.25 1009.75h.9M563.5 905.75h.9M563.5 909h.9M563.5 916.5h.9M563.5 919.25h.9M563.5 921.25h.9M563.5 923h.9M563.5 923.25h.9M563.5 924.75h.9M563.5 928.5h.9M563.5 929.75h.9M563.5 930.5h.9M563.5 933h.9M563.5 934h.9M563.5 934.25h.9M563.5 937.25h.9M563.5 938h.9M563.5 938.75h.9M563.5 940.75h.9M563.5 941.5h.9M563.5 943h.9M563.5 949.75h.9M563.75 917h.9M563.75 919.25h.9M563.75 924.25h.9M563.75 924.75h.9M563.75 928.5h.9M563.75 933.5h.9M563.75 934h.9M563.75 934.25h.9M563.75 934.5h.9M563.75 936.75h.9M563.75 937.25h.9M563.75 937.75h.9M563.75 941h.9M563.75 947h.9M563.75 956.5h.9M563.75 975.75h.9M564 912h.9M564 913.75h.9M564 914.5h.9M564 918.75h.9M564 926h.9M564 926.25h.9M564 929.5h.9M564 930h.9M564 932h.9M564 933h.9M564 933.75h.9M564 935.25h.9M564 935.5h.9M564 935.75h.9M564 938.75h.9M564 940.5h.9M564 942.75h.9M564 944h.9M564 961h.9M564 985.25h.9M564.25 919.25h.9M564.25 920.5h.9M564.25 925h.9M564.25 926.75h.9M564.25 927.5h.9M564.25 928h.9M564.25 928.5h.9M564.25 929.5h.9M564.25 932.5h.9M564.25 933h.9M564.25 935.25h.9M564.25 938h.9M564.25 940h.9M564.25 940.25h.9M564.25 940.75h.9M564.25 945.25h.9M564.25 945.75h.9M564.25 946.75h.9M564.25 947.25h.9M564.5 902.25h.9M564.5 921.75h.9M564.5 923.25h.9M564.5 923.75h.9M564.5 924.5h.9M564.5 925.75h.9M564.5 927.5h.9M564.5 928h.9M564.5 929.25h.9M564.5 932.5h.9M564.5 932.75h.9M564.5 933.5h.9M564.5 935h.9M564.5 938.25h.9M564.5 938.75h.9M564.5 939.75h.9M564.5 941.75h.9M564.5 946.5h.9M564.5 963h.9M564.5 984.5h.9M564.5 1017h.9M564.75 910.25h.9M564.75 912.25h.9M564.75 915.25h.9M564.75 918h.9M564.75 922.5h.9M564.75 922.75h.9M564.75 923.75h.9M564.75 924.5h.9M564.75 924.75h.9M564.75 925h.9M564.75 926.25h.9M564.75 927h.9M564.75 927.5h.9M564.75 927.75h.9M564.75 929h.9M564.75 930.5h.9M564.75 931.75h.9M564.75 933h.9M564.75 937h.9M564.75 938h.9M564.75 938.25h.9M564.75 939.75h.9M564.75 944h.9M564.75 945.75h.9M565 904.25h.9M565 915.5h.9M565 923.75h.9M565 926h.9M565 927h.9M565 928.75h.9M565 929.75h.9M565 930.75h.9M565 932.25h.9M565 933.5h.9M565 940.25h.9M565 941.25h.9M565 944h.9M565 945.75h.9M565 988.5h.9M565.25 914h.9M565.25 914.75h.9M565.25 915h.9M565.25 917.75h.9M565.25 924.75h.9M565.25 926.5h.9M565.25 929h.9M565.25 929.5h.9M565.25 932.75h.9M565.25 933.75h.9M565.25 934.25h.9M565.25 934.75h.9M565.25 936h.9M565.25 936.25h.9M565.25 941h.9M565.25 942.75h.9M565.25 948.25h.9M565.25 966h.9M565.5 913.5h.9M565.5 917.5h.9M565.5 921.5h.9M565.5 922h.9M565.5 922.75h.9M565.5 925h.9M565.5 925.25h.9M565.5 926.5h.9M565.5 930h.9M565.5 932.25h.9M565.5 933h.9M565.5 935.25h.9M565.5 936.75h.9M565.5 943h.9M565.5 944.25h.9M565.5 945h.9M565.75 913.5h.9M565.75 914.5h.9M565.75 914.75h.9M565.75 916.5h.9M565.75 917.25h.9M565.75 917.75h.9M565.75 919.25h.9M565.75 920h.9M565.75 920.5h.9M565.75 928.5h.9M565.75 932.5h.9M565.75 934.25h.9M565.75 935h.9M565.75 937h.9M565.75 938.25h.9M565.75 940h.9M565.75 942h.9M565.75 980.75h.9M566 912h.9M566 914.5h.9M566 918h.9M566 918.5h.9M566 919.25h.9M566 922h.9M566 923h.9M566 923.5h.9M566 926.5h.9M566 927.75h.9M566 928.25h.9M566 930.25h.9M566 932.75h.9M566 933h.9M566 933.5h.9M566 934.75h.9M566 940.75h.9M566 959.75h.9M566 970.25h.9M566 983.25h.9M566 1008.25h.9M566.25 916h.9M566.25 918.75h.9M566.25 921.25h.9M566.25 921.75h.9M566.25 922.75h.9M566.25 924h.9M566.25 928.5h.9M566.25 929.5h.9M566.25 930h.9M566.25 931.75h.9M566.25 932.5h.9M566.25 932.75h.9M566.25 933h.9M566.25 935.75h.9M566.25 940.75h.9M566.25 942h.9M566.25 955.5h.9M566.25 991.75h.9M566.5 911.5h.9M566.5 913.75h.9M566.5 915.25h.9M566.5 915.75h.9M566.5 922h.9M566.5 923.25h.9M566.5 926.25h.9M566.5 927h.9M566.5 927.25h.9M566.5 928.75h.9M566.5 929.75h.9M566.5 930h.9M566.5 930.5h.9M566.5 931.5h.9M566.5 936.25h.9M566.5 938.5h.9M566.5 941.5h.9M566.5 964h.9M566.75 912.5h.9M566.75 914h.9M566.75 922h.9M566.75 922.25h.9M566.75 923.75h.9M566.75 924.5h.9M566.75 926.25h.9M566.75 926.75h.9M566.75 930.75h.9M566.75 932.25h.9M566.75 933h.9M566.75 934.25h.9M566.75 935.25h.9M566.75 937h.9M566.75 941.75h.9M566.75 947.75h.9M567 890h.9M567 912.5h.9M567 915.5h.9M567 918h.9M567 921.75h.9M567 923.25h.9M567 923.75h.9M567 924.25h.9M567 924.5h.9M567 927.25h.9M567 927.75h.9M567 931.5h.9M567 932.25h.9M567 933h.9M567 934h.9M567 934.25h.9M567 935h.9M567 935.25h.9M567 935.75h.9M567 943.25h.9M567 943.75h.9M567 945.25h.9M567 946.25h.9M567 947.25h.9M567 982.5h.9M567.25 916.5h.9M567.25 918.5h.9M567.25 919.75h.9M567.25 920h.9M567.25 922.25h.9M567.25 924.75h.9M567.25 927h.9M567.25 930.75h.9M567.25 932.75h.9M567.25 933.25h.9M567.25 935h.9M567.25 935.25h.9M567.25 939h.9M567.25 943.75h.9M567.25 950.75h.9M567.25 965.25h.9M567.5 916h.9M567.5 918h.9M567.5 921.75h.9M567.5 922.25h.9M567.5 926.5h.9M567.5 927.5h.9M567.5 929.5h.9M567.5 931.25h.9M567.5 933h.9M567.5 939h.9M567.5 939.75h.9M567.5 946h.9M567.5 975.5h.9M567.75 924.75h.9M567.75 925h.9M567.75 926.5h.9M567.75 928h.9M567.75 930.75h.9M567.75 935.5h.9M567.75 960.75h.9M567.75 1007.75h.9M567.75 1009.5h.9M568 911.25h.9M568 918.5h.9M568 920.25h.9M568 922.25h.9M568 927h.9M568 927.75h.9M568 928h.9M568 929.5h.9M568 934h.9M568 934.5h.9M568 935.5h.9M568 937.75h.9M568 946.25h.9M568.25 900.25h.9M568.25 908.25h.9M568.25 917.5h.9M568.25 919.5h.9M568.25 920.75h.9M568.25 921.5h.9M568.25 921.75h.9M568.25 922.25h.9M568.25 923.5h.9M568.25 924.75h.9M568.25 925.25h.9M568.25 925.75h.9M568.25 926h.9M568.25 926.5h.9M568.25 927h.9M568.25 928.75h.9M568.25 931.75h.9M568.25 944.25h.9M568.25 951.5h.9M568.5 911.25h.9M568.5 915.75h.9M568.5 916.25h.9M568.5 918.25h.9M568.5 919.5h.9M568.5 921.25h.9M568.5 921.75h.9M568.5 924.5h.9M568.5 927.25h.9M568.5 928.75h.9M568.5 929h.9M568.5 930h.9M568.5 931h.9M568.5 931.5h.9M568.5 933h.9M568.5 933.5h.9M568.5 953.75h.9M568.5 957.25h.9M568.75 911.25h.9M568.75 918.25h.9M568.75 922.25h.9M568.75 923.75h.9M568.75 924.25h.9M568.75 924.75h.9M568.75 927h.9M568.75 929.25h.9M568.75 929.5h.9M568.75 931.75h.9M568.75 932.5h.9M568.75 936h.9M568.75 938.5h.9M568.75 939.75h.9M568.75 946.75h.9M568.75 949h.9M568.75 962h.9M568.75 1012.5h.9M569 919.75h.9M569 922.75h.9M569 924.75h.9M569 925h.9M569 925.5h.9M569 925.75h.9M569 926h.9M569 928.25h.9M569 929.75h.9M569 930.75h.9M569 931.5h.9M569 932.5h.9M569 933.5h.9M569 934h.9M569 937.25h.9M569 938.25h.9M569 945.75h.9M569 957.5h.9M569.25 907h.9M569.25 909h.9M569.25 910h.9M569.25 920.25h.9M569.25 921.75h.9M569.25 922.75h.9M569.25 925.25h.9M569.25 926h.9M569.25 931.5h.9M569.25 932.5h.9M569.25 933.75h.9M569.25 941h.9M569.25 963.25h.9M569.25 985.5h.9M569.25 993.25h.9M569.25 1002.5h.9M569.5 911.75h.9M569.5 918.25h.9M569.5 918.5h.9M569.5 919h.9M569.5 922.5h.9M569.5 924h.9M569.5 924.25h.9M569.5 927h.9M569.5 928.5h.9M569.5 930.75h.9M569.5 932.25h.9M569.5 935.25h.9M569.5 939h.9M569.5 943h.9M569.5 948.5h.9M569.75 908h.9M569.75 914.25h.9M569.75 915.75h.9M569.75 921.5h.9M569.75 922h.9M569.75 922.5h.9M569.75 922.75h.9M569.75 924h.9M569.75 926h.9M569.75 928.75h.9M569.75 933h.9M569.75 938h.9M569.75 942h.9M569.75 945.5h.9M569.75 946h.9M570 916.5h.9M570 917h.9M570 922h.9M570 923h.9M570 926.5h.9M570 926.75h.9M570 927.5h.9M570 929.5h.9M570 931.25h.9M570 932h.9M570 933.5h.9M570 934h.9M570 951.5h.9M570 1011.25h.9M570.25 909h.9M570.25 914.5h.9M570.25 915h.9M570.25 918.5h.9M570.25 919.25h.9M570.25 921h.9M570.25 923h.9M570.25 923.75h.9M570.25 927.75h.9M570.25 928.5h.9M570.25 930h.9M570.25 931h.9M570.25 931.5h.9M570.25 931.75h.9M570.25 935.25h.9M570.25 939h.9M570.25 940.75h.9M570.5 911h.9M570.5 914.5h.9M570.5 915h.9M570.5 920h.9M570.5 922.5h.9M570.5 923.5h.9M570.5 924.75h.9M570.5 929h.9M570.5 931.25h.9M570.5 932h.9M570.5 934.5h.9M570.5 935.25h.9M570.5 935.75h.9M570.5 936.75h.9M570.5 937.5h.9M570.5 966.5h.9M570.75 917.5h.9M570.75 922h.9M570.75 922.5h.9M570.75 925.5h.9M570.75 927.5h.9M570.75 929.25h.9M570.75 931.75h.9M570.75 933h.9M570.75 933.75h.9M570.75 934h.9M570.75 934.25h.9M570.75 936h.9M570.75 937h.9M570.75 938.25h.9M570.75 938.75h.9M570.75 941.25h.9M570.75 954h.9M570.75 974.75h.9M570.75 990.75h.9M570.75 1013.25h.9M571 896.5h.9M571 906.25h.9M571 913.25h.9M571 916h.9M571 916.5h.9M571 920h.9M571 921.25h.9M571 925.25h.9M571 926.25h.9M571 927h.9M571 930h.9M571 931h.9M571 932.25h.9M571 935.25h.9M571 946.5h.9M571 980.5h.9M571 1009.75h.9M571.25 909h.9M571.25 911.75h.9M571.25 922.5h.9M571.25 926.25h.9M571.25 926.75h.9M571.25 928.25h.9M571.25 928.75h.9M571.25 931.25h.9M571.25 931.5h.9M571.25 932.25h.9M571.25 942.25h.9M571.25 944h.9M571.25 944.25h.9M571.25 998h.9M571.25 1009.75h.9M571.5 912.5h.9M571.5 916.5h.9M571.5 920.75h.9M571.5 922h.9M571.5 923.75h.9M571.5 930.5h.9M571.5 931.5h.9M571.5 932.75h.9M571.5 936.25h.9M571.5 939.5h.9M571.5 948.25h.9M571.5 967.5h.9M571.5 973.5h.9M571.5 999.5h.9M571.5 1017.75h.9M571.75 906.5h.9M571.75 910h.9M571.75 910.5h.9M571.75 920.75h.9M571.75 923.75h.9M571.75 924.75h.9M571.75 926.5h.9M571.75 926.75h.9M571.75 927.5h.9M571.75 931.75h.9M571.75 935.75h.9M571.75 940.25h.9M571.75 943.25h.9M571.75 950.25h.9M572 918.25h.9M572 920.25h.9M572 920.5h.9M572 921.5h.9M572 923h.9M572 923.25h.9M572 924.25h.9M572 927h.9M572 927.25h.9M572 927.75h.9M572 928.5h.9M572 929.75h.9M572 932.25h.9M572 935.25h.9M572 938.75h.9M572 942.5h.9M572 942.75h.9M572 946.75h.9M572.25 910.75h.9M572.25 915.25h.9M572.25 922.25h.9M572.25 923.25h.9M572.25 924.5h.9M572.25 925.75h.9M572.25 926.5h.9M572.25 928.25h.9M572.25 932h.9M572.25 933.5h.9M572.25 939.75h.9M572.25 957.75h.9M572.25 979.25h.9M572.5 904h.9M572.5 907.25h.9M572.5 922h.9M572.5 922.75h.9M572.5 924.25h.9M572.5 924.5h.9M572.5 925h.9M572.5 926.25h.9M572.5 927h.9M572.5 929.5h.9M572.5 930h.9M572.5 931.25h.9M572.5 932.5h.9M572.5 933h.9M572.5 934.75h.9M572.5 936.75h.9M572.5 938.5h.9M572.5 957.75h.9M572.5 1017.25h.9M572.75 914.5h.9M572.75 917h.9M572.75 917.5h.9M572.75 918.75h.9M572.75 921.25h.9M572.75 922h.9M572.75 923.75h.9M572.75 924.25h.9M572.75 924.5h.9M572.75 925.25h.9M572.75 927.5h.9M572.75 932.75h.9M572.75 933.25h.9M572.75 940h.9M572.75 955.5h.9M572.75 1018.5h.9M573 908.75h.9M573 921h.9M573 924.25h.9M573 926.75h.9M573 927.25h.9M573 928.5h.9M573 929.25h.9M573 929.5h.9M573 929.75h.9M573 932.5h.9M573 948.5h.9M573 988.75h.9M573.25 909.75h.9M573.25 915.25h.9M573.25 916.75h.9M573.25 917.25h.9M573.25 918.5h.9M573.25 921.5h.9M573.25 924.25h.9M573.25 927h.9M573.25 933.25h.9M573.25 938.25h.9M573.25 941.75h.9M573.5 896.5h.9M573.5 905.75h.9M573.5 917.5h.9M573.5 919.25h.9M573.5 921.25h.9M573.5 922.25h.9M573.5 925.5h.9M573.5 925.75h.9M573.5 926h.9M573.5 926.75h.9M573.5 927.75h.9M573.5 930.5h.9M573.5 930.75h.9M573.5 932.75h.9M573.5 933.5h.9M573.5 933.75h.9M573.5 960.25h.9M573.5 967.75h.9M573.5 998.5h.9M573.75 911.5h.9M573.75 911.75h.9M573.75 914.75h.9M573.75 916.25h.9M573.75 922h.9M573.75 922.25h.9M573.75 924h.9M573.75 925h.9M573.75 926.75h.9M573.75 927h.9M573.75 931h.9M573.75 931.25h.9M573.75 936.75h.9M573.75 940.5h.9M573.75 969h.9M573.75 1000h.9M573.75 1013.75h.9M574 913.5h.9M574 914h.9M574 917.75h.9M574 918h.9M574 918.5h.9M574 919.5h.9M574 920.25h.9M574 921.25h.9M574 922.5h.9M574 922.75h.9M574 924.75h.9M574 926h.9M574 926.25h.9M574 927.25h.9M574 928.25h.9M574 929.25h.9M574 929.5h.9M574 935.75h.9M574 956.75h.9M574 963.25h.9M574 1003h.9M574 1012.75h.9M574.25 910.75h.9M574.25 919.25h.9M574.25 919.75h.9M574.25 921h.9M574.25 922h.9M574.25 922.75h.9M574.25 924.25h.9M574.25 926.75h.9M574.25 927.75h.9M574.25 928.75h.9M574.25 929.75h.9M574.25 932h.9M574.25 932.75h.9M574.25 935.25h.9M574.25 938.75h.9M574.25 1015.75h.9M574.5 915.75h.9M574.5 917.75h.9M574.5 919.75h.9M574.5 921.25h.9M574.5 922h.9M574.5 922.5h.9M574.5 924.75h.9M574.5 925.75h.9M574.5 927h.9M574.5 927.5h.9M574.5 928h.9M574.5 929h.9M574.5 932.25h.9M574.5 940.75h.9M574.5 944.5h.9M574.5 996.75h.9M574.5 1001.75h.9M574.75 906.5h.9M574.75 914h.9M574.75 915.5h.9M574.75 924h.9M574.75 926.75h.9M574.75 929.25h.9M574.75 931.5h.9M574.75 932.25h.9M574.75 932.5h.9M574.75 932.75h.9M574.75 937.25h.9M575 904.25h.9M575 916.25h.9M575 916.75h.9M575 918h.9M575 918.25h.9M575 919h.9M575 920.25h.9M575 926.5h.9M575 928.75h.9M575 929h.9M575 933h.9M575 941.75h.9M575 974.5h.9M575 1017.5h.9M575.25 891h.9M575.25 895.25h.9M575.25 907h.9M575.25 909.75h.9M575.25 911.75h.9M575.25 912.75h.9M575.25 913.25h.9M575.25 913.5h.9M575.25 914.25h.9M575.25 914.5h.9M575.25 916.75h.9M575.25 920h.9M575.25 924.25h.9M575.25 925.5h.9M575.25 925.75h.9M575.25 926h.9M575.25 926.5h.9M575.25 927.5h.9M575.25 929.75h.9M575.25 930.75h.9M575.25 931.25h.9M575.25 932.25h.9M575.25 939.25h.9M575.25 950.5h.9M575.25 974h.9M575.5 906h.9M575.5 914h.9M575.5 915.75h.9M575.5 917.25h.9M575.5 918.5h.9M575.5 923h.9M575.5 923.25h.9M575.5 925.25h.9M575.5 925.5h.9M575.5 925.75h.9M575.5 926h.9M575.5 926.75h.9M575.5 927.5h.9M575.5 929h.9M575.5 930h.9M575.5 930.5h.9M575.5 931.75h.9M575.5 932.75h.9M575.5 933.25h.9M575.5 981.25h.9M575.75 914.25h.9M575.75 915.75h.9M575.75 919h.9M575.75 919.25h.9M575.75 922.25h.9M575.75 925.5h.9M575.75 925.75h.9M575.75 927h.9M575.75 928.75h.9M575.75 930.25h.9M575.75 933.75h.9M575.75 934.75h.9M575.75 936.75h.9M575.75 938.5h.9M575.75 996h.9M576 904.5h.9M576 906.25h.9M576 913.25h.9M576 916h.9M576 919h.9M576 922.5h.9M576 924h.9M576 931h.9M576 935.5h.9M576 985h.9M576 987.5h.9M576 1018.5h.9M576.25 903h.9M576.25 905.5h.9M576.25 908h.9M576.25 909.25h.9M576.25 913.5h.9M576.25 914.25h.9M576.25 914.75h.9M576.25 916.25h.9M576.25 916.75h.9M576.25 919.75h.9M576.25 923.25h.9M576.25 923.5h.9M576.25 931.75h.9M576.25 932.25h.9M576.25 932.75h.9M576.25 934.75h.9M576.25 1018.5h.9M576.5 905.5h.9M576.5 907.25h.9M576.5 910.25h.9M576.5 912.75h.9M576.5 914h.9M576.5 914.75h.9M576.5 915.75h.9M576.5 916.75h.9M576.5 921.5h.9M576.5 921.75h.9M576.5 922h.9M576.5 922.25h.9M576.5 923h.9M576.5 925.25h.9M576.5 928h.9M576.5 928.5h.9M576.5 930.25h.9M576.5 931.75h.9M576.5 932.25h.9M576.5 933h.9M576.5 934h.9M576.5 934.25h.9M576.5 942.25h.9M576.5 956.5h.9M576.75 909.75h.9M576.75 917.75h.9M576.75 918h.9M576.75 919h.9M576.75 921.75h.9M576.75 923.25h.9M576.75 927.5h.9M576.75 929.5h.9M576.75 931.75h.9M576.75 934.25h.9M576.75 934.75h.9M576.75 935h.9M576.75 937.75h.9M576.75 941.75h.9M576.75 957h.9M576.75 1009.75h.9M577 914h.9M577 915.5h.9M577 917h.9M577 919h.9M577 920.5h.9M577 921.75h.9M577 922.5h.9M577 925.5h.9M577 932.25h.9M577 939h.9M577.25 907.5h.9M577.25 914.25h.9M577.25 917.75h.9M577.25 918.5h.9M577.25 919.75h.9M577.25 920.75h.9M577.25 923.75h.9M577.25 924h.9M577.25 924.5h.9M577.25 931h.9M577.25 932.5h.9M577.25 933h.9M577.25 934h.9M577.25 935.25h.9M577.25 938.25h.9M577.25 945h.9M577.25 974.75h.9M577.5 912.25h.9M577.5 914.25h.9M577.5 915.75h.9M577.5 919h.9M577.5 920h.9M577.5 921.75h.9M577.5 924.5h.9M577.5 925.5h.9M577.5 926.75h.9M577.5 928h.9M577.5 928.25h.9M577.5 929.25h.9M577.5 929.5h.9M577.5 931.25h.9M577.5 932h.9M577.5 949.75h.9M577.5 951.5h.9M577.75 909.25h.9M577.75 916.75h.9M577.75 918h.9M577.75 918.75h.9M577.75 922.25h.9M577.75 927h.9M577.75 928.25h.9M577.75 934.5h.9M577.75 953.25h.9M577.75 960h.9M578 903.25h.9M578 908.5h.9M578 911.5h.9M578 919.5h.9M578 919.75h.9M578 921h.9M578 924h.9M578 925h.9M578 929h.9M578 930.5h.9M578 931.25h.9M578 933.25h.9M578 934.75h.9M578 936h.9M578 944.5h.9M578 957h.9M578 999.75h.9M578.25 907.75h.9M578.25 911h.9M578.25 916.5h.9M578.25 917h.9M578.25 919.5h.9M578.25 919.75h.9M578.25 921h.9M578.25 921.5h.9M578.25 925.25h.9M578.25 929.5h.9M578.25 929.75h.9M578.25 931h.9M578.25 935.75h.9M578.25 946h.9M578.25 1015.25h.9M578.5 914.25h.9M578.5 914.5h.9M578.5 917h.9M578.5 920.25h.9M578.5 921.75h.9M578.5 922.25h.9M578.5 923.25h.9M578.5 925.5h.9M578.5 926h.9M578.5 926.75h.9M578.5 930.5h.9M578.5 933h.9M578.75 911h.9M578.75 911.5h.9M578.75 912.75h.9M578.75 914h.9M578.75 915.5h.9M578.75 918h.9M578.75 919.5h.9M578.75 924.5h.9M578.75 925.25h.9M578.75 931h.9M578.75 1004.75h.9M579 911.5h.9M579 914.5h.9M579 914.75h.9M579 917.75h.9M579 918h.9M579 920.5h.9M579 921.25h.9M579 921.5h.9M579 926.75h.9M579 927.25h.9M579 927.75h.9M579 929.25h.9M579 934.25h.9M579 946.25h.9M579 963.25h.9M579.25 907.5h.9M579.25 912.75h.9M579.25 913.75h.9M579.25 916.5h.9M579.25 918.25h.9M579.25 918.5h.9M579.25 923.25h.9M579.25 927.75h.9M579.25 931.25h.9M579.25 939.5h.9M579.25 993h.9M579.5 900.5h.9M579.5 908.25h.9M579.5 911.25h.9M579.5 912h.9M579.5 913h.9M579.5 918.25h.9M579.5 918.75h.9M579.5 919.5h.9M579.5 920.75h.9M579.5 925.75h.9M579.5 926.25h.9M579.5 929.5h.9M579.5 929.75h.9M579.5 930.25h.9M579.5 930.5h.9M579.5 934.75h.9M579.5 937h.9M579.5 946.5h.9M579.5 979.5h.9M579.75 907h.9M579.75 909.5h.9M579.75 911h.9M579.75 914.5h.9M579.75 919.25h.9M579.75 921h.9M579.75 921.5h.9M579.75 921.75h.9M579.75 922.5h.9M579.75 923.25h.9M579.75 927.5h.9M579.75 943.25h.9M580 904h.9M580 910.25h.9M580 911.75h.9M580 916.25h.9M580 918.25h.9M580 920.25h.9M580 923.25h.9M580 926.25h.9M580 927.75h.9M580 929.75h.9M580 930.5h.9M580 948h.9M580 978.5h.9M580.25 894.5h.9M580.25 913.5h.9M580.25 917h.9M580.25 926.25h.9M580.25 927.25h.9M580.25 929.25h.9M580.25 933.25h.9M580.25 934.25h.9M580.25 935.75h.9M580.25 1015h.9M580.5 892.75h.9M580.5 909.25h.9M580.5 911.25h.9M580.5 913.5h.9M580.5 916.75h.9M580.5 919h.9M580.5 921.25h.9M580.5 921.5h.9M580.5 923.5h.9M580.5 923.75h.9M580.5 925.75h.9M580.5 926.25h.9M580.5 926.75h.9M580.5 927.25h.9M580.5 928h.9M580.5 929.75h.9M580.5 936h.9M580.5 940.25h.9M580.5 947.25h.9M580.5 1016.75h.9M580.75 895.75h.9M580.75 913.25h.9M580.75 913.75h.9M580.75 914.25h.9M580.75 915.75h.9M580.75 917h.9M580.75 918.5h.9M580.75 921.75h.9M580.75 923.25h.9M580.75 923.75h.9M580.75 924h.9M580.75 926.5h.9M580.75 931h.9M580.75 932h.9M580.75 934.25h.9M580.75 959.75h.9M581 894h.9M581 911.75h.9M581 912.25h.9M581 912.75h.9M581 914.5h.9M581 917h.9M581 919h.9M581 920.75h.9M581 921.5h.9M581 922.5h.9M581 923.25h.9M581 925h.9M581 926h.9M581 927h.9M581 928.5h.9M581 929.25h.9M581 931.25h.9M581 934h.9M581 995.25h.9M581.25 912.5h.9M581.25 913.25h.9M581.25 914.5h.9M581.25 915h.9M581.25 915.25h.9M581.25 919.25h.9M581.25 920.75h.9M581.25 921.25h.9M581.25 921.75h.9M581.25 922.75h.9M581.25 924.75h.9M581.25 925.25h.9M581.25 926.5h.9M581.25 930.25h.9M581.25 931.5h.9M581.25 934.5h.9M581.25 962.5h.9M581.5 915h.9M581.5 917.25h.9M581.5 918.5h.9M581.5 924.25h.9M581.5 930h.9M581.5 938h.9M581.75 908h.9M581.75 908.75h.9M581.75 911.25h.9M581.75 912h.9M581.75 915h.9M581.75 915.5h.9M581.75 915.75h.9M581.75 921.25h.9M581.75 921.75h.9M581.75 922.5h.9M581.75 924h.9M581.75 930.75h.9M581.75 1001h.9M581.75 1013.5h.9M582 915h.9M582 915.5h.9M582 916.75h.9M582 917.5h.9M582 918.25h.9M582 921.25h.9M582 921.5h.9M582 922.5h.9M582 924h.9M582 928h.9M582 931.5h.9M582 934.25h.9M582 935.25h.9M582 940h.9M582 953h.9M582 979.75h.9M582 1007.25h.9M582 1013.75h.9M582.25 916h.9M582.25 916.75h.9M582.25 921h.9M582.25 922h.9M582.25 925.5h.9M582.25 927h.9M582.25 927.25h.9M582.25 928.5h.9M582.25 928.75h.9M582.25 936h.9M582.25 1010.5h.9M582.5 905.25h.9M582.5 909h.9M582.5 909.75h.9M582.5 910.75h.9M582.5 912.25h.9M582.5 913h.9M582.5 914.25h.9M582.5 928.75h.9M582.5 930.25h.9M582.5 931.5h.9M582.5 934h.9M582.5 1019.75h.9M582.5 1039.5h.9M582.75 913.25h.9M582.75 915h.9M582.75 915.5h.9M582.75 915.75h.9M582.75 916.25h.9M582.75 916.75h.9M582.75 917.25h.9M582.75 917.5h.9M582.75 919.25h.9M582.75 920.75h.9M582.75 921.75h.9M582.75 923h.9M582.75 925h.9M582.75 926.25h.9M582.75 965.25h.9M583 910.25h.9M583 912.25h.9M583 916.5h.9M583 917.25h.9M583 918.5h.9M583 922.75h.9M583 923.25h.9M583 924.25h.9M583 927.25h.9M583 931.25h.9M583 960h.9M583 1005.5h.9M583.25 911.25h.9M583.25 918.5h.9M583.25 920h.9M583.25 921h.9M583.25 922.5h.9M583.25 923.5h.9M583.25 923.75h.9M583.25 927.25h.9M583.25 930.5h.9M583.25 938.75h.9M583.25 999.25h.9M583.5 911.75h.9M583.5 914.25h.9M583.5 914.75h.9M583.5 925.5h.9M583.5 925.75h.9M583.5 927.5h.9M583.5 927.75h.9M583.5 928h.9M583.5 930h.9M583.5 934h.9M583.5 935h.9M583.5 941.75h.9M583.5 946.75h.9M583.5 1012.75h.9M583.75 900h.9M583.75 908h.9M583.75 917.5h.9M583.75 917.75h.9M583.75 919h.9M583.75 922h.9M583.75 922.25h.9M583.75 924.25h.9M583.75 929.25h.9M583.75 933.25h.9M583.75 937h.9M583.75 940.25h.9M584 899h.9M584 915.25h.9M584 917.5h.9M584 919.75h.9M584 920h.9M584 921.5h.9M584 928.5h.9M584 932.25h.9M584 1012.75h.9M584.25 906.75h.9M584.25 919.5h.9M584.25 922.75h.9M584.25 923.5h.9M584.25 923.75h.9M584.25 925.5h.9M584.25 926.75h.9M584.25 927.5h.9M584.25 931.5h.9M584.25 1013.25h.9M584.5 903.75h.9M584.5 907.5h.9M584.5 911.5h.9M584.5 924.75h.9M584.5 927h.9M584.5 927.5h.9M584.5 928.25h.9M584.5 933.5h.9M584.5 993h.9M584.75 905.5h.9M584.75 912.75h.9M584.75 913.25h.9M584.75 915h.9M584.75 915.75h.9M584.75 918.25h.9M584.75 919.25h.9M584.75 920.25h.9M584.75 922.25h.9M584.75 925.75h.9M584.75 926.5h.9M584.75 927.5h.9M584.75 929.75h.9M584.75 931h.9M584.75 937.25h.9M585 910h.9M585 913.5h.9M585 915h.9M585 921h.9M585 921.5h.9M585 922h.9M585 924.75h.9M585 926h.9M585 927.5h.9M585 933h.9M585 933.75h.9M585 936.25h.9M585.25 903.25h.9M585.25 911.25h.9M585.25 913h.9M585.25 913.75h.9M585.25 916h.9M585.25 917h.9M585.25 917.75h.9M585.25 919.75h.9M585.25 922.25h.9M585.25 928.25h.9M585.25 929.75h.9M585.25 939.25h.9M585.25 973.75h.9M585.25 1001.25h.9M585.5 900.75h.9M585.5 910.75h.9M585.5 915.25h.9M585.5 916h.9M585.5 917.25h.9M585.5 918.75h.9M585.5 919.75h.9M585.5 920.25h.9M585.5 923h.9M585.5 924h.9M585.5 925.5h.9M585.5 930.5h.9M585.5 958.5h.9M585.5 1015.75h.9M585.75 906.75h.9M585.75 907.25h.9M585.75 910.25h.9M585.75 911h.9M585.75 913.25h.9M585.75 915.5h.9M585.75 915.75h.9M585.75 916.25h.9M585.75 917h.9M585.75 917.5h.9M585.75 921.75h.9M585.75 922.75h.9M585.75 925.25h.9M585.75 926h.9M585.75 933.25h.9M585.75 938.5h.9M585.75 1015.25h.9M586 904.75h.9M586 913.75h.9M586 915.5h.9M586 917.5h.9M586 925h.9M586 926.75h.9M586 933h.9M586 956.5h.9M586 962.75h.9M586 998h.9M586 1018.75h.9M586.25 901.75h.9M586.25 910.75h.9M586.25 912.75h.9M586.25 913.75h.9M586.25 914.5h.9M586.25 917h.9M586.25 920.5h.9M586.25 920.75h.9M586.25 923.75h.9M586.25 924h.9M586.25 927.25h.9M586.25 931.5h.9M586.25 1008h.9M586.5 910h.9M586.5 917h.9M586.5 918.25h.9M586.5 918.75h.9M586.5 919h.9M586.5 919.75h.9M586.5 922h.9M586.5 922.75h.9M586.5 923.5h.9M586.5 932h.9M586.5 941h.9M586.75 905.5h.9M586.75 911.25h.9M586.75 913h.9M586.75 913.5h.9M586.75 916.5h.9M586.75 917.25h.9M586.75 923h.9M586.75 924h.9M586.75 925.75h.9M586.75 926.5h.9M586.75 928.5h.9M586.75 1005h.9M587 915.25h.9M587 917.75h.9M587 918.25h.9M587 918.5h.9M587 923h.9M587 928.25h.9M587 928.75h.9M587 930.25h.9M587 982h.9M587 1010h.9M587 1012.5h.9M587 1013.25h.9M587.25 899.5h.9M587.25 902.75h.9M587.25 905.75h.9M587.25 906h.9M587.25 914.75h.9M587.25 916.5h.9M587.25 918.25h.9M587.25 918.5h.9M587.25 919.75h.9M587.25 927.5h.9M587.25 928h.9M587.25 942.75h.9M587.25 1035h.9M587.5 906.75h.9M587.5 910.5h.9M587.5 916h.9M587.5 917.25h.9M587.5 917.5h.9M587.5 919h.9M587.5 921h.9M587.5 921.5h.9M587.5 923.5h.9M587.5 924.75h.9M587.5 929h.9M587.5 934.25h.9M587.5 935.5h.9M587.5 954.5h.9M587.5 1020h.9M587.75 904.75h.9M587.75 908.25h.9M587.75 912.5h.9M587.75 915.75h.9M587.75 917.5h.9M587.75 918h.9M587.75 919.75h.9M587.75 920.5h.9M587.75 921.5h.9M587.75 923.25h.9M587.75 925.75h.9M587.75 927.5h.9M587.75 929.5h.9M587.75 1006.25h.9M588 905h.9M588 910.25h.9M588 912.25h.9M588 912.75h.9M588 914.25h.9M588 917h.9M588 924h.9M588 931.25h.9M588.25 891.5h.9M588.25 907.25h.9M588.25 910h.9M588.25 912.5h.9M588.25 914.75h.9M588.25 918.5h.9M588.25 919h.9M588.25 923.75h.9M588.25 924h.9M588.25 956.75h.9M588.5 917h.9M588.5 918.25h.9M588.5 922.25h.9M588.5 922.5h.9M588.5 924.25h.9M588.5 935h.9M588.75 905h.9M588.75 905.75h.9M588.75 909h.9M588.75 910.5h.9M588.75 912.5h.9M588.75 913.25h.9M588.75 918.25h.9M588.75 919.5h.9M588.75 920h.9M588.75 920.5h.9M588.75 921.25h.9M588.75 922h.9M588.75 926.75h.9M588.75 1019.5h.9M589 906.25h.9M589 906.5h.9M589 907h.9M589 914.75h.9M589 915.5h.9M589 916.5h.9M589 917.5h.9M589 919h.9M589 919.25h.9M589 925h.9M589 927.75h.9M589 932.5h.9M589 933h.9M589 947.75h.9M589.25 908.75h.9M589.25 909.5h.9M589.25 913.25h.9M589.25 916h.9M589.25 916.5h.9M589.25 917.75h.9M589.25 923h.9M589.25 924h.9M589.25 928.25h.9M589.25 935.5h.9M589.25 967.75h.9M589.25 1009.75h.9M589.5 913.25h.9M589.5 913.5h.9M589.5 921h.9M589.5 921.5h.9M589.5 922h.9M589.5 925h.9M589.5 928.25h.9M589.5 933.75h.9M589.5 936h.9M589.75 911h.9M589.75 915.75h.9M589.75 916h.9M589.75 928.5h.9M589.75 936h.9M590 911.75h.9M590 912.75h.9M590 916.75h.9M590 917.75h.9M590 918h.9M590 922.25h.9M590 923h.9M590 923.5h.9M590 923.75h.9M590 926.75h.9M590 929.75h.9M590 1018.75h.9M590.25 910.5h.9M590.25 911h.9M590.25 913.5h.9M590.25 918.75h.9M590.25 921h.9M590.25 923.5h.9M590.25 924.5h.9M590.25 930.75h.9M590.25 987h.9M590.5 904.75h.9M590.5 908.5h.9M590.5 916.25h.9M590.5 918h.9M590.5 922.5h.9M590.5 923.25h.9M590.5 926.5h.9M590.5 928.5h.9M590.5 969h.9M590.75 905.25h.9M590.75 910.75h.9M590.75 915h.9M590.75 915.75h.9M590.75 917h.9M590.75 917.5h.9M590.75 918.25h.9M590.75 918.75h.9M590.75 920.25h.9M590.75 921.75h.9M590.75 922h.9M590.75 923.25h.9M590.75 924.75h.9M590.75 927.5h.9M590.75 928.75h.9M590.75 938.25h.9M590.75 947.5h.9M590.75 967h.9M591 903.5h.9M591 909.75h.9M591 912h.9M591 913.5h.9M591 915.25h.9M591 916.75h.9M591 917.5h.9M591 917.75h.9M591 919.25h.9M591 921.75h.9M591 924h.9M591 924.5h.9M591 954.75h.9M591.25 911.25h.9M591.25 911.5h.9M591.25 912.75h.9M591.25 913h.9M591.25 913.5h.9M591.25 914.5h.9M591.25 920.5h.9M591.25 932h.9M591.25 953.5h.9M591.25 1004h.9M591.5 908.25h.9M591.5 909h.9M591.5 911.75h.9M591.5 913.5h.9M591.5 915h.9M591.5 917.25h.9M591.5 921h.9M591.5 921.75h.9M591.5 923.5h.9M591.5 926h.9M591.5 926.75h.9M591.5 931.25h.9M591.5 955.75h.9M591.75 901.75h.9M591.75 908.25h.9M591.75 910.25h.9M591.75 910.5h.9M591.75 911.5h.9M591.75 915.5h.9M591.75 916.75h.9M591.75 919.25h.9M591.75 921h.9M591.75 923h.9M591.75 945.5h.9M591.75 1002h.9M592 907.75h.9M592 914.5h.9M592 915.75h.9M592 916.25h.9M592 916.5h.9M592 916.75h.9M592 917h.9M592 921.5h.9M592 926.5h.9M592 927h.9M592 927.5h.9M592 929.25h.9M592.25 906h.9M592.25 907h.9M592.25 909.25h.9M592.25 910.25h.9M592.25 911.75h.9M592.25 915.5h.9M592.25 916.25h.9M592.25 917.75h.9M592.25 921.5h.9M592.25 922.5h.9M592.25 924.25h.9M592.25 926.75h.9M592.25 927h.9M592.25 934h.9M592.25 991h.9M592.25 1004.5h.9M592.5 914.5h.9M592.5 915h.9M592.5 915.75h.9M592.5 918.25h.9M592.5 919.25h.9M592.5 920.25h.9M592.5 921.25h.9M592.5 922h.9M592.5 923.25h.9M592.5 923.5h.9M592.5 923.75h.9M592.5 934.25h.9M592.75 909.25h.9M592.75 910.5h.9M592.75 916.25h.9M592.75 917h.9M592.75 917.5h.9M592.75 918.5h.9M592.75 921h.9M592.75 927h.9M592.75 927.25h.9M592.75 930.5h.9M592.75 980.5h.9M592.75 981.5h.9M592.75 1011.25h.9M593 906.25h.9M593 913h.9M593 917.25h.9M593 923.5h.9M593 925.5h.9M593 927.25h.9M593 985.75h.9M593 999.25h.9M593 1004.75h.9M593.25 901.75h.9M593.25 907.75h.9M593.25 911.25h.9M593.25 918.25h.9M593.25 919h.9M593.25 920h.9M593.25 921.5h.9M593.25 927h.9M593.25 928.75h.9M593.25 975h.9M593.5 906h.9M593.5 910.75h.9M593.5 911.25h.9M593.5 911.5h.9M593.5 914.75h.9M593.5 915.75h.9M593.5 916h.9M593.5 917h.9M593.5 918h.9M593.5 918.5h.9M593.5 921h.9M593.5 922.75h.9M593.5 923h.9M593.5 924.5h.9M593.5 925.75h.9M593.75 917.5h.9M593.75 917.75h.9M593.75 919h.9M593.75 919.25h.9M593.75 921h.9M593.75 923.25h.9M593.75 924.25h.9M593.75 925.25h.9M593.75 927.75h.9M593.75 945.25h.9M593.75 964h.9M593.75 968.25h.9M594 910.25h.9M594 915.5h.9M594 919.25h.9M594 920h.9M594 922h.9M594 924.25h.9M594 927.5h.9M594.25 904.25h.9M594.25 907.25h.9M594.25 909.75h.9M594.25 910h.9M594.25 911.75h.9M594.25 912h.9M594.25 916.75h.9M594.25 917h.9M594.25 918h.9M594.25 919.25h.9M594.25 919.5h.9M594.25 919.75h.9M594.25 920h.9M594.25 920.75h.9M594.25 926.25h.9M594.25 981.5h.9M594.5 907.25h.9M594.5 907.5h.9M594.5 911h.9M594.5 912.25h.9M594.5 913.25h.9M594.5 914.75h.9M594.5 916h.9M594.5 916.5h.9M594.5 916.75h.9M594.5 923h.9M594.5 923.5h.9M594.5 926.5h.9M594.5 1019.25h.9M594.75 905.75h.9M594.75 908h.9M594.75 910h.9M594.75 910.75h.9M594.75 919.5h.9M594.75 919.75h.9M594.75 921.75h.9M594.75 923.25h.9M594.75 924h.9M594.75 941.25h.9M594.75 963.25h.9M594.75 985h.9M595 909.75h.9M595 913.5h.9M595 915h.9M595 916.75h.9M595 918.25h.9M595 919.5h.9M595 933.25h.9M595 985h.9M595.25 900.75h.9M595.25 915h.9M595.25 917.5h.9M595.25 919h.9M595.25 923h.9M595.25 923.25h.9M595.25 928.25h.9M595.5 902.5h.9M595.5 905.5h.9M595.5 905.75h.9M595.5 908.75h.9M595.5 909.75h.9M595.5 915.5h.9M595.5 915.75h.9M595.5 916.75h.9M595.5 919h.9M595.5 919.75h.9M595.5 920.5h.9M595.5 921.25h.9M595.5 964.5h.9M595.5 990.5h.9M595.5 1002.25h.9M595.75 907h.9M595.75 911.75h.9M595.75 913.5h.9M595.75 916h.9M595.75 919.25h.9M595.75 924h.9M595.75 924.25h.9M595.75 1015.5h.9M595.75 1017.75h.9M596 904.75h.9M596 908.5h.9M596 909.25h.9M596 916h.9M596 919.5h.9M596 920h.9M596 921.75h.9M596 926.25h.9M596 927.25h.9M596 927.75h.9M596 938.75h.9M596 988.75h.9M596.25 909.5h.9M596.25 913.5h.9M596.25 916.75h.9M596.25 917h.9M596.25 917.5h.9M596.25 921h.9M596.25 921.5h.9M596.25 922.5h.9M596.25 924h.9M596.5 910.5h.9M596.5 911.5h.9M596.5 912h.9M596.5 918.5h.9M596.5 923h.9M596.5 934.75h.9M596.5 935h.9M596.5 962.5h.9M596.5 1018.25h.9M596.75 903.75h.9M596.75 906h.9M596.75 910.75h.9M596.75 912.5h.9M596.75 916.75h.9M596.75 917h.9M596.75 917.5h.9M596.75 918h.9M596.75 919.25h.9M596.75 920h.9M596.75 921.75h.9M596.75 1002.75h.9M596.75 1018h.9M597 909h.9M597 912.25h.9M597 913h.9M597 915.75h.9M597 917.75h.9M597 919.25h.9M597 921.25h.9M597 921.5h.9M597 923.25h.9M597 923.5h.9M597 925.5h.9M597 1013h.9M597.25 906.75h.9M597.25 908.25h.9M597.25 908.5h.9M597.25 912.25h.9M597.25 915.25h.9M597.25 917h.9M597.25 919.25h.9M597.25 921.25h.9M597.25 923.75h.9M597.25 928.25h.9M597.25 929h.9M597.25 931h.9M597.25 938.25h.9M597.25 954.5h.9M597.25 983.75h.9M597.25 985.25h.9M597.5 904h.9M597.5 906h.9M597.5 916h.9M597.5 916.75h.9M597.5 917.75h.9M597.5 920.5h.9M597.5 922h.9M597.5 922.75h.9M597.5 927.75h.9M597.5 937.75h.9M597.5 938.25h.9M597.5 961.25h.9M597.5 967h.9M597.75 908.25h.9M597.75 914.5h.9M597.75 915h.9M597.75 917.5h.9M597.75 925h.9M597.75 926.75h.9M597.75 940.5h.9M598 911h.9M598 911.5h.9M598 912.25h.9M598 913.25h.9M598 917h.9M598 919.5h.9M598 924.25h.9M598 929.75h.9M598.25 897.25h.9M598.25 907.25h.9M598.25 910.75h.9M598.25 911.5h.9M598.25 911.75h.9M598.25 912.25h.9M598.25 913.5h.9M598.25 915.25h.9M598.25 917.75h.9M598.25 920.5h.9M598.25 923h.9M598.25 925.5h.9M598.25 927.5h.9M598.25 930.5h.9M598.25 1010.25h.9M598.5 885.5h.9M598.5 904.5h.9M598.5 906.5h.9M598.5 907h.9M598.5 908.75h.9M598.5 913.75h.9M598.5 914.25h.9M598.5 919.5h.9M598.5 919.75h.9M598.5 922.5h.9M598.5 923h.9M598.5 924.25h.9M598.5 925.5h.9M598.5 927.25h.9M598.5 935.25h.9M598.5 1002.5h.9M598.75 905.5h.9M598.75 909.75h.9M598.75 911.25h.9M598.75 913.75h.9M598.75 914.75h.9M598.75 917.75h.9M598.75 918.5h.9M598.75 919h.9M598.75 920.25h.9M598.75 921.5h.9M598.75 926.5h.9M598.75 927.25h.9M598.75 928h.9M598.75 928.25h.9M598.75 930h.9M598.75 968.25h.9M598.75 980.25h.9M599 900.5h.9M599 901.5h.9M599 909.25h.9M599 909.5h.9M599 910h.9M599 916.75h.9M599 918.5h.9M599 921h.9M599 926h.9M599 926.25h.9M599 941.25h.9M599 1000.75h.9M599 1007.25h.9M599.25 899.75h.9M599.25 908h.9M599.25 913.75h.9M599.25 914.75h.9M599.25 915h.9M599.25 915.5h.9M599.25 917.75h.9M599.25 919.25h.9M599.25 920h.9M599.25 920.75h.9M599.25 921.25h.9M599.25 923.25h.9M599.25 924.75h.9M599.25 925h.9M599.5 899h.9M599.5 899.25h.9M599.5 903.75h.9M599.5 907h.9M599.5 910.25h.9M599.5 910.5h.9M599.5 913h.9M599.5 916h.9M599.5 917h.9M599.5 918.25h.9M599.5 924.75h.9M599.5 1013h.9M599.5 1014.5h.9M599.75 891.5h.9M599.75 904h.9M599.75 909.25h.9M599.75 919.25h.9M599.75 920.5h.9M599.75 922.5h.9M599.75 924.25h.9M599.75 927.75h.9M599.75 965.75h.9M600 898.75h.9M600 908.75h.9M600 912.5h.9M600 913.5h.9M600 915.75h.9M600 916.25h.9M600 917.25h.9M600 917.5h.9M600 918.5h.9M600 920h.9M600 921h.9M600 921.75h.9M600 922h.9M600 922.5h.9M600 924.25h.9M600 926.75h.9M600 929.75h.9M600 942.75h.9M600 993.25h.9M600 1010.75h.9M600 1015.5h.9M600.25 902.5h.9M600.25 905h.9M600.25 907h.9M600.25 910.75h.9M600.25 912h.9M600.25 912.25h.9M600.25 914.5h.9M600.25 916.75h.9M600.25 917h.9M600.25 917.5h.9M600.25 919h.9M600.25 919.25h.9M600.25 919.75h.9M600.25 920.5h.9M600.25 920.75h.9M600.25 921.5h.9M600.25 922.75h.9M600.25 925.25h.9M600.25 925.75h.9M600.25 995.5h.9M600.25 1014.75h.9M600.5 908.25h.9M600.5 910h.9M600.5 910.75h.9M600.5 914h.9M600.5 917.5h.9M600.5 920.5h.9M600.5 923.75h.9M600.5 925.25h.9M600.5 938.5h.9M600.5 942h.9M600.5 957.5h.9M600.5 970.25h.9M600.5 973.75h.9M600.5 988.25h.9M600.5 1005h.9M600.5 1008h.9M600.75 905.25h.9M600.75 907.75h.9M600.75 910.25h.9M600.75 912.5h.9M600.75 913.75h.9M600.75 915h.9M600.75 915.25h.9M600.75 915.75h.9M600.75 916.75h.9M600.75 917h.9M600.75 917.25h.9M600.75 918.75h.9M600.75 920.25h.9M600.75 920.5h.9M600.75 921.75h.9M600.75 922h.9M600.75 922.5h.9M600.75 928h.9M600.75 934.25h.9M601 910.75h.9M601 912.75h.9M601 915h.9M601 917.75h.9M601 918.25h.9M601 919.25h.9M601 920h.9M601 928.25h.9M601 1010h.9M601.25 908.5h.9M601.25 911h.9M601.25 912.75h.9M601.25 913.5h.9M601.25 916h.9M601.25 918.5h.9M601.25 919.5h.9M601.25 920.25h.9M601.25 923.75h.9M601.25 924h.9M601.25 930.25h.9M601.25 972.75h.9M601.25 1000.25h.9M601.25 1010h.9M601.25 1011.5h.9M601.5 900.5h.9M601.5 904.25h.9M601.5 904.75h.9M601.5 906h.9M601.5 909.75h.9M601.5 913.75h.9M601.5 916.25h.9M601.5 917.75h.9M601.5 918h.9M601.5 918.5h.9M601.5 920.5h.9M601.5 924.5h.9M601.5 925.75h.9M601.5 926h.9M601.5 927.25h.9M601.5 939.5h.9M601.5 983.75h.9M601.5 1010.5h.9M601.5 1011.5h.9M601.5 1015h.9M601.75 897h.9M601.75 906.75h.9M601.75 914.75h.9M601.75 916h.9M601.75 916.25h.9M601.75 916.75h.9M601.75 917h.9M601.75 917.75h.9M601.75 918.25h.9M601.75 920.25h.9M601.75 980.25h.9M601.75 1007.25h.9M601.75 1011.75h.9M602 910.25h.9M602 915h.9M602 918.75h.9M602 919.5h.9M602 919.75h.9M602 920h.9M602 920.75h.9M602 939h.9M602 944.75h.9M602 949h.9M602 1011.75h.9M602 1018.5h.9M602.25 908h.9M602.25 909h.9M602.25 909.25h.9M602.25 910.25h.9M602.25 911.75h.9M602.25 913.25h.9M602.25 913.75h.9M602.25 914.5h.9M602.25 915.5h.9M602.25 915.75h.9M602.25 916.75h.9M602.25 917h.9M602.25 917.25h.9M602.25 918.25h.9M602.25 919.5h.9M602.25 921.5h.9M602.25 922.5h.9M602.25 924h.9M602.25 925.25h.9M602.25 927h.9M602.25 956.75h.9M602.25 998.75h.9M602.25 1008.5h.9M602.25 1010.25h.9M602.5 905h.9M602.5 907h.9M602.5 907.5h.9M602.5 908.5h.9M602.5 911h.9M602.5 912.75h.9M602.5 914h.9M602.5 914.25h.9M602.5 915h.9M602.5 915.25h.9M602.5 919.25h.9M602.5 920.25h.9M602.5 921.25h.9M602.5 924.75h.9M602.5 932h.9M602.75 885.5h.9M602.75 904.75h.9M602.75 908h.9M602.75 911h.9M602.75 911.25h.9M602.75 914h.9M602.75 915.5h.9M602.75 917.75h.9M602.75 923.25h.9M602.75 929.25h.9M603 904.5h.9M603 908.5h.9M603 909h.9M603 909.5h.9M603 910h.9M603 913h.9M603 913.75h.9M603 915.5h.9M603 916h.9M603 918.25h.9M603 921h.9M603 982h.9M603.25 908.25h.9M603.25 908.5h.9M603.25 912.25h.9M603.25 913.75h.9M603.25 914h.9M603.25 914.5h.9M603.25 915h.9M603.25 915.25h.9M603.25 918.25h.9M603.25 918.5h.9M603.25 923h.9M603.25 924.25h.9M603.25 925h.9M603.25 944.5h.9M603.5 896.75h.9M603.5 904.25h.9M603.5 905.75h.9M603.5 906.25h.9M603.5 909h.9M603.5 909.25h.9M603.5 909.5h.9M603.5 910.5h.9M603.5 914.5h.9M603.5 914.75h.9M603.5 919.75h.9M603.5 920.5h.9M603.5 923.75h.9M603.75 896.5h.9M603.75 901.25h.9M603.75 908.75h.9M603.75 909.25h.9M603.75 910.75h.9M603.75 912.25h.9M603.75 914h.9M603.75 917.75h.9M603.75 919.25h.9M603.75 920.25h.9M603.75 920.5h.9M603.75 920.75h.9M603.75 921h.9M603.75 922h.9M603.75 923.5h.9M603.75 924h.9M604 882h.9M604 899.75h.9M604 908.5h.9M604 910.5h.9M604 911h.9M604 911.25h.9M604 912.25h.9M604 912.5h.9M604 914.25h.9M604 915.25h.9M604 916h.9M604 921h.9M604 921.25h.9M604 949.25h.9M604 952h.9M604.25 907.75h.9M604.25 911.5h.9M604.25 912.25h.9M604.25 912.75h.9M604.25 916h.9M604.25 917.25h.9M604.25 918h.9M604.25 918.75h.9M604.25 920.75h.9M604.25 921h.9M604.25 924h.9M604.25 927.5h.9M604.5 907h.9M604.5 908h.9M604.5 908.25h.9M604.5 908.75h.9M604.5 909h.9M604.5 910.25h.9M604.5 911.75h.9M604.5 912h.9M604.5 916.25h.9M604.5 918.25h.9M604.5 918.5h.9M604.5 919.5h.9M604.75 907.5h.9M604.75 908h.9M604.75 910h.9M604.75 910.25h.9M604.75 910.5h.9M604.75 911h.9M604.75 915.75h.9M604.75 916.75h.9M604.75 919h.9M604.75 919.25h.9M604.75 919.5h.9M604.75 920h.9M604.75 920.25h.9M604.75 923.25h.9M604.75 925.5h.9M604.75 970.25h.9M604.75 1004.5h.9M605 899.75h.9M605 903h.9M605 907.5h.9M605 909.25h.9M605 910h.9M605 910.25h.9M605 910.5h.9M605 913.5h.9M605 914h.9M605 915.75h.9M605 916.75h.9M605 917.5h.9M605 917.75h.9M605 918h.9M605 919.25h.9M605 920.75h.9M605 922.25h.9M605 922.75h.9M605 973.5h.9M605 1002.25h.9M605 1009h.9M605.25 907.5h.9M605.25 912.25h.9M605.25 914.25h.9M605.25 917.5h.9M605.25 917.75h.9M605.25 918h.9M605.25 918.25h.9M605.25 922.5h.9M605.25 924.5h.9M605.25 962.25h.9M605.5 904.25h.9M605.5 907.5h.9M605.5 911.25h.9M605.5 912h.9M605.5 914h.9M605.5 914.25h.9M605.5 917.75h.9M605.5 918h.9M605.5 921h.9M605.5 921.25h.9M605.5 922.25h.9M605.5 923.25h.9M605.5 924h.9M605.5 924.25h.9M605.5 925.25h.9M605.5 933.25h.9M605.5 957.75h.9M605.5 970.75h.9M605.75 903.75h.9M605.75 911.25h.9M605.75 912.25h.9M605.75 913h.9M605.75 916h.9M605.75 921h.9M605.75 922.75h.9M605.75 923.25h.9M605.75 923.75h.9M606 906h.9M606 908.5h.9M606 908.75h.9M606 909h.9M606 913.5h.9M606 915.25h.9M606 917h.9M606 917.25h.9M606 918.5h.9M606 919h.9M606 919.25h.9M606 919.5h.9M606 922.25h.9M606 997h.9M606 1005h.9M606.25 902.75h.9M606.25 912h.9M606.25 912.75h.9M606.25 914h.9M606.25 916h.9M606.25 916.5h.9M606.25 916.75h.9M606.25 918.25h.9M606.25 921.75h.9M606.25 922.5h.9M606.25 922.75h.9M606.25 925.75h.9M606.25 940.25h.9M606.25 982h.9M606.25 1000.75h.9M606.5 907.5h.9M606.5 908.75h.9M606.5 909.25h.9M606.5 911h.9M606.5 911.25h.9M606.5 913.25h.9M606.5 914.5h.9M606.5 915.75h.9M606.5 916.75h.9M606.5 917h.9M606.5 918h.9M606.5 918.5h.9M606.5 919.5h.9M606.5 920.25h.9M606.5 920.5h.9M606.5 921.75h.9M606.5 922.75h.9M606.5 923.25h.9M606.5 923.75h.9M606.5 925.25h.9M606.5 928.5h.9M606.75 904h.9M606.75 904.75h.9M606.75 910.25h.9M606.75 913h.9M606.75 913.75h.9M606.75 915h.9M606.75 916h.9M606.75 916.75h.9M606.75 917h.9M606.75 917.75h.9M606.75 919.5h.9M606.75 920.25h.9M606.75 921h.9M606.75 921.25h.9M606.75 921.5h.9M606.75 922h.9M606.75 931.75h.9M607 889.5h.9M607 902.75h.9M607 906.5h.9M607 915.25h.9M607 915.5h.9M607 916.25h.9M607 918.5h.9M607 920.25h.9M607 922.5h.9M607 923h.9M607 979.5h.9M607 980.25h.9M607 1010.5h.9M607.25 910.5h.9M607.25 911h.9M607.25 911.75h.9M607.25 913.5h.9M607.25 914.25h.9M607.25 914.5h.9M607.25 915.75h.9M607.25 918h.9M607.25 919h.9M607.25 921.5h.9M607.25 923h.9M607.25 923.25h.9M607.25 924.25h.9M607.25 924.5h.9M607.25 926.5h.9M607.25 936.25h.9M607.25 981h.9M607.5 904.25h.9M607.5 907.5h.9M607.5 909.25h.9M607.5 911.25h.9M607.5 911.75h.9M607.5 912.25h.9M607.5 913h.9M607.5 913.25h.9M607.5 913.5h.9M607.5 914h.9M607.5 914.75h.9M607.5 915.5h.9M607.5 916.5h.9M607.5 918.75h.9M607.5 919.25h.9M607.5 920.75h.9M607.5 922.5h.9M607.5 924.5h.9M607.5 931h.9M607.5 1003h.9M607.5 1010.75h.9M607.75 891h.9M607.75 902.25h.9M607.75 906.25h.9M607.75 908.25h.9M607.75 908.75h.9M607.75 909h.9M607.75 909.75h.9M607.75 910h.9M607.75 912.5h.9M607.75 913.5h.9M607.75 913.75h.9M607.75 916.75h.9M607.75 917.25h.9M607.75 920.75h.9M607.75 925h.9M607.75 925.5h.9M607.75 935h.9M607.75 998h.9M607.75 1000.25h.9M608 905.75h.9M608 907.75h.9M608 908h.9M608 910.75h.9M608 913h.9M608 913.25h.9M608 916.75h.9M608 917h.9M608 917.5h.9M608 917.75h.9M608 918.25h.9M608 919.25h.9M608 920h.9M608 920.25h.9M608 920.75h.9M608 923h.9M608 928.75h.9M608 935.5h.9M608 945h.9M608 947.5h.9M608 1015.25h.9M608.25 903.5h.9M608.25 908.25h.9M608.25 909.25h.9M608.25 910.75h.9M608.25 912.5h.9M608.25 915.25h.9M608.25 916.25h.9M608.25 916.75h.9M608.25 917h.9M608.25 920.25h.9M608.25 920.5h.9M608.25 921.25h.9M608.25 922.5h.9M608.25 923.75h.9M608.5 906.5h.9M608.5 912h.9M608.5 912.75h.9M608.5 914.25h.9M608.5 914.75h.9M608.5 916.25h.9M608.5 916.5h.9M608.5 917.25h.9M608.5 920.5h.9M608.5 925.25h.9M608.5 940.75h.9M608.5 975.5h.9M608.5 1007h.9M608.75 910h.9M608.75 913.75h.9M608.75 917.75h.9M608.75 918.25h.9M608.75 918.5h.9M608.75 919h.9M608.75 920.75h.9M608.75 921h.9M608.75 923.5h.9M608.75 1002.5h.9M608.75 1006.25h.9M608.75 1009.25h.9M608.75 1012h.9M609 892.75h.9M609 908.5h.9M609 908.75h.9M609 909.25h.9M609 910.5h.9M609 911.5h.9M609 912.75h.9M609 915.25h.9M609 916.5h.9M609 918.25h.9M609 920.75h.9M609 921h.9M609 921.25h.9M609 922.75h.9M609 923h.9M609 957.25h.9M609 1016.25h.9M609.25 907.25h.9M609.25 909h.9M609.25 913.25h.9M609.25 913.5h.9M609.25 914.25h.9M609.25 914.75h.9M609.25 915.5h.9M609.25 916h.9M609.25 916.75h.9M609.25 917.75h.9M609.25 918h.9M609.25 918.25h.9M609.25 918.5h.9M609.25 919h.9M609.25 919.25h.9M609.25 919.75h.9M609.25 920h.9M609.25 923h.9M609.25 984.25h.9M609.25 1008.5h.9M609.25 1014.25h.9M609.5 909.5h.9M609.5 910h.9M609.5 910.5h.9M609.5 912.25h.9M609.5 915.75h.9M609.5 916.75h.9M609.5 917.25h.9M609.5 918h.9M609.5 918.25h.9M609.5 920h.9M609.5 924h.9M609.5 928.75h.9M609.75 904.75h.9M609.75 910h.9M609.75 911.5h.9M609.75 913.25h.9M609.75 913.75h.9M609.75 915h.9M609.75 919.75h.9M609.75 920.5h.9M609.75 921h.9M609.75 922.5h.9M609.75 924h.9M609.75 926.5h.9M609.75 1014h.9M610 886.75h.9M610 897.75h.9M610 900.75h.9M610 910.75h.9M610 912.5h.9M610 912.75h.9M610 913h.9M610 913.75h.9M610 915h.9M610 915.25h.9M610 915.5h.9M610 915.75h.9M610 916.25h.9M610 918h.9M610 918.25h.9M610 918.5h.9M610 920.5h.9M610 920.75h.9M610 921.5h.9M610 924h.9M610 952.75h.9M610 963.25h.9M610 1019.75h.9M610.25 909.5h.9M610.25 910.75h.9M610.25 911.5h.9M610.25 913h.9M610.25 913.5h.9M610.25 914.5h.9M610.25 914.75h.9M610.25 915h.9M610.25 915.75h.9M610.25 916.5h.9M610.25 916.75h.9M610.25 917.25h.9M610.25 917.75h.9M610.25 918.5h.9M610.25 919.5h.9M610.25 919.75h.9M610.25 920h.9M610.25 920.5h.9M610.25 922.75h.9M610.25 923.25h.9M610.25 925h.9M610.25 925.75h.9M610.25 971h.9M610.25 993.25h.9M610.5 908.25h.9M610.5 911h.9M610.5 914.25h.9M610.5 914.5h.9M610.5 916.5h.9M610.5 917.75h.9M610.5 918.5h.9M610.5 918.75h.9M610.5 919.25h.9M610.5 921.75h.9M610.5 922.75h.9M610.5 924.75h.9M610.5 929.75h.9M610.5 954h.9M610.75 902h.9M610.75 907.25h.9M610.75 909h.9M610.75 910.75h.9M610.75 911.25h.9M610.75 912.75h.9M610.75 913.25h.9M610.75 914h.9M610.75 914.25h.9M610.75 915.25h.9M610.75 916h.9M610.75 916.5h.9M610.75 917h.9M610.75 917.25h.9M610.75 918.25h.9M610.75 919.25h.9M610.75 921.5h.9M610.75 923h.9M610.75 923.5h.9M610.75 925h.9M610.75 967h.9M610.75 1009.25h.9M611 905h.9M611 909.75h.9M611 913h.9M611 915h.9M611 917h.9M611 917.25h.9M611 917.5h.9M611 917.75h.9M611 918.25h.9M611 918.75h.9M611 919.75h.9M611 920.75h.9M611 921h.9M611 921.5h.9M611 922.5h.9M611 1010.75h.9M611.25 895h.9M611.25 906.75h.9M611.25 907h.9M611.25 908.75h.9M611.25 909.75h.9M611.25 914h.9M611.25 916.25h.9M611.25 916.75h.9M611.25 917.75h.9M611.25 918.75h.9M611.25 920.75h.9M611.25 921h.9M611.25 922.75h.9M611.25 924.5h.9M611.25 924.75h.9M611.25 927.25h.9M611.25 928.75h.9M611.5 903.75h.9M611.5 904.75h.9M611.5 905.75h.9M611.5 910.5h.9M611.5 911.5h.9M611.5 911.75h.9M611.5 912.25h.9M611.5 913.5h.9M611.5 914.75h.9M611.5 915.5h.9M611.5 916.5h.9M611.5 917.25h.9M611.5 917.5h.9M611.5 918.25h.9M611.5 918.75h.9M611.5 919h.9M611.5 919.25h.9M611.5 920.5h.9M611.5 922.75h.9M611.5 927.25h.9M611.5 928.75h.9M611.5 1007h.9M611.5 1011.25h.9M611.5 1014.5h.9M611.75 893.5h.9M611.75 898.75h.9M611.75 904.25h.9M611.75 905.75h.9M611.75 914h.9M611.75 914.75h.9M611.75 915h.9M611.75 915.5h.9M611.75 915.75h.9M611.75 916.5h.9M611.75 919.25h.9M611.75 920.75h.9M611.75 921.5h.9M611.75 921.75h.9M611.75 922.25h.9M611.75 923h.9M611.75 924.25h.9M611.75 938.5h.9M612 905h.9M612 907.75h.9M612 909h.9M612 910h.9M612 910.25h.9M612 911.25h.9M612 911.5h.9M612 912.5h.9M612 912.75h.9M612 915.25h.9M612 917h.9M612 917.25h.9M612 917.5h.9M612 918.75h.9M612 919h.9M612 919.25h.9M612 921h.9M612 921.5h.9M612 922.5h.9M612 936.5h.9M612 1001.5h.9M612.25 901.25h.9M612.25 904h.9M612.25 908.25h.9M612.25 909.75h.9M612.25 911.25h.9M612.25 913.25h.9M612.25 913.75h.9M612.25 915.25h.9M612.25 915.5h.9M612.25 917.5h.9M612.25 917.75h.9M612.25 918.25h.9M612.25 919.75h.9M612.25 923.25h.9M612.25 929.25h.9M612.25 938.25h.9M612.25 944.25h.9M612.25 946.5h.9M612.25 1003.25h.9M612.25 1005.75h.9M612.5 901.75h.9M612.5 903h.9M612.5 907.25h.9M612.5 908.5h.9M612.5 910.25h.9M612.5 911.5h.9M612.5 912.25h.9M612.5 912.5h.9M612.5 913h.9M612.5 915h.9M612.5 915.5h.9M612.5 915.75h.9M612.5 916.75h.9M612.5 918h.9M612.5 919.5h.9M612.5 920.5h.9M612.5 923.75h.9M612.5 924.75h.9M612.5 925.25h.9M612.5 986h.9M612.75 906h.9M612.75 907.75h.9M612.75 908.75h.9M612.75 910.25h.9M612.75 913.5h.9M612.75 914h.9M612.75 915.5h.9M612.75 916h.9M612.75 918h.9M612.75 920.5h.9M612.75 937.5h.9M612.75 940.25h.9M612.75 956h.9M612.75 999.25h.9M612.75 1013.75h.9M613 904h.9M613 905.75h.9M613 909.25h.9M613 910.5h.9M613 910.75h.9M613 912.5h.9M613 912.75h.9M613 913.25h.9M613 913.75h.9M613 915.75h.9M613 916h.9M613 916.25h.9M613 916.75h.9M613 918.25h.9M613 919h.9M613 919.25h.9M613 920h.9M613 920.25h.9M613 920.75h.9M613 922h.9M613 924h.9M613 925h.9M613 925.5h.9M613 926.5h.9M613 929.5h.9M613 961h.9M613 1012.5h.9M613.25 910.75h.9M613.25 912h.9M613.25 912.5h.9M613.25 913.75h.9M613.25 914h.9M613.25 916.75h.9M613.25 917.5h.9M613.25 917.75h.9M613.25 918h.9M613.25 918.25h.9M613.25 918.5h.9M613.25 919h.9M613.25 920.75h.9M613.25 926.75h.9M613.25 951.75h.9M613.25 971h.9M613.25 973.5h.9M613.25 995.25h.9M613.5 904.75h.9M613.5 906.75h.9M613.5 908.25h.9M613.5 909.75h.9M613.5 911h.9M613.5 912h.9M613.5 913.25h.9M613.5 914.25h.9M613.5 915h.9M613.5 915.75h.9M613.5 916.75h.9M613.5 917.25h.9M613.5 917.75h.9M613.5 918h.9M613.5 918.75h.9M613.5 919.25h.9M613.5 921.25h.9M613.5 921.75h.9M613.5 923.75h.9M613.5 925.5h.9M613.5 927.25h.9M613.5 998.75h.9M613.5 1004.25h.9M613.75 904.25h.9M613.75 906.75h.9M613.75 908.25h.9M613.75 908.75h.9M613.75 910.75h.9M613.75 911.5h.9M613.75 912.5h.9M613.75 913.25h.9M613.75 913.5h.9M613.75 915.25h.9M613.75 916h.9M613.75 916.75h.9M613.75 917h.9M613.75 918.25h.9M613.75 919.25h.9M613.75 920.25h.9M613.75 921h.9M613.75 923.75h.9M613.75 924.5h.9M613.75 985h.9M613.75 999.5h.9M614 901h.9M614 906.5h.9M614 907.25h.9M614 907.5h.9M614 911h.9M614 914.25h.9M614 914.5h.9M614 914.75h.9M614 916.5h.9M614 917.75h.9M614 918.5h.9M614 918.75h.9M614 921.25h.9M614 921.5h.9M614 989h.9M614 1005.25h.9M614.25 901.75h.9M614.25 909.5h.9M614.25 910.75h.9M614.25 911h.9M614.25 913.5h.9M614.25 914.5h.9M614.25 915.5h.9M614.25 915.75h.9M614.25 916h.9M614.25 916.25h.9M614.25 920h.9M614.25 920.25h.9M614.25 922.75h.9M614.25 923.5h.9M614.25 924.75h.9M614.25 925.75h.9M614.25 927.5h.9M614.25 937.5h.9M614.25 1008.5h.9M614.5 880.5h.9M614.5 881.5h.9M614.5 905h.9M614.5 905.75h.9M614.5 907.5h.9M614.5 909.75h.9M614.5 914.75h.9M614.5 915.25h.9M614.5 916.25h.9M614.5 916.5h.9M614.5 917.75h.9M614.5 918h.9M614.5 919h.9M614.5 921.25h.9M614.5 922.25h.9M614.5 923.25h.9M614.5 924h.9M614.5 925.5h.9M614.5 933.75h.9M614.75 903.5h.9M614.75 904.75h.9M614.75 905.5h.9M614.75 906.75h.9M614.75 908.75h.9M614.75 909h.9M614.75 912.25h.9M614.75 912.75h.9M614.75 913h.9M614.75 915h.9M614.75 915.25h.9M614.75 915.75h.9M614.75 916.5h.9M614.75 917h.9M614.75 917.25h.9M614.75 920.25h.9M614.75 924.25h.9M614.75 926h.9M614.75 926.75h.9M614.75 934.25h.9M614.75 938.25h.9M614.75 985.5h.9M615 897h.9M615 899.5h.9M615 905.75h.9M615 907h.9M615 907.75h.9M615 908h.9M615 911.75h.9M615 912.5h.9M615 912.75h.9M615 915.25h.9M615 916.75h.9M615 917.75h.9M615 918h.9M615 918.25h.9M615 918.75h.9M615 919.25h.9M615 919.5h.9M615 923.5h.9M615 924.25h.9M615 924.75h.9M615 925.25h.9M615 925.75h.9M615 934.75h.9M615 1000.75h.9M615 1003.5h.9M615 1016h.9M615.25 909.25h.9M615.25 911h.9M615.25 912.5h.9M615.25 913.25h.9M615.25 914h.9M615.25 914.25h.9M615.25 914.75h.9M615.25 915h.9M615.25 916.5h.9M615.25 917.25h.9M615.25 918h.9M615.25 919.5h.9M615.25 920h.9M615.25 923.5h.9M615.25 925.5h.9M615.25 928h.9M615.25 929h.9M615.25 1000.75h.9M615.25 1009.25h.9M615.5 896.25h.9M615.5 906h.9M615.5 907h.9M615.5 908.75h.9M615.5 910h.9M615.5 910.25h.9M615.5 911h.9M615.5 913h.9M615.5 913.5h.9M615.5 914.75h.9M615.5 916.5h.9M615.5 917.75h.9M615.5 918.75h.9M615.5 919h.9M615.5 923h.9M615.5 925.5h.9M615.5 1009h.9M615.5 1014h.9M615.75 906.25h.9M615.75 908h.9M615.75 909.5h.9M615.75 910.25h.9M615.75 913h.9M615.75 913.5h.9M615.75 914.5h.9M615.75 916.5h.9M615.75 917.5h.9M615.75 925.25h.9M615.75 928.5h.9M615.75 993.5h.9M615.75 1000h.9M615.75 1010h.9M616 909.75h.9M616 910.75h.9M616 912.25h.9M616 913.25h.9M616 914.75h.9M616 915.75h.9M616 916h.9M616 918.5h.9M616 920.5h.9M616 922.5h.9M616 923.25h.9M616 925.5h.9M616 925.75h.9M616 927.25h.9M616.25 908.75h.9M616.25 909.25h.9M616.25 911h.9M616.25 912h.9M616.25 916h.9M616.25 918h.9M616.25 918.25h.9M616.25 918.75h.9M616.25 919h.9M616.25 920h.9M616.25 922.5h.9M616.25 923.25h.9M616.25 925.75h.9M616.25 944.75h.9M616.25 1010.5h.9M616.25 1013h.9M616.5 906.75h.9M616.5 909h.9M616.5 909.5h.9M616.5 910.5h.9M616.5 912h.9M616.5 915h.9M616.5 915.5h.9M616.5 916.25h.9M616.5 917.75h.9M616.5 918.75h.9M616.5 919h.9M616.5 920h.9M616.5 921h.9M616.5 921.25h.9M616.5 922.25h.9M616.5 922.75h.9M616.5 925.5h.9M616.5 947.25h.9M616.5 967h.9M616.5 1004h.9M616.75 909h.9M616.75 911.75h.9M616.75 912h.9M616.75 915h.9M616.75 916.25h.9M616.75 920h.9M616.75 997.5h.9M617 905.25h.9M617 906h.9M617 907.25h.9M617 907.75h.9M617 910h.9M617 910.25h.9M617 911h.9M617 913h.9M617 913.25h.9M617 913.5h.9M617 914.5h.9M617 914.75h.9M617 915.25h.9M617 916h.9M617 916.25h.9M617 916.75h.9M617 917.75h.9M617 918.25h.9M617 918.5h.9M617 919h.9M617 919.25h.9M617 920.5h.9M617 920.75h.9M617 922h.9M617 922.5h.9M617 924.5h.9M617 1002.25h.9M617 1004.25h.9M617 1020.75h.9M617 1055.25h.9M617.25 909h.9M617.25 909.5h.9M617.25 909.75h.9M617.25 911.75h.9M617.25 912h.9M617.25 913.25h.9M617.25 914.5h.9M617.25 915.5h.9M617.25 916.25h.9M617.25 916.75h.9M617.25 919.25h.9M617.25 921h.9M617.25 921.5h.9M617.25 922.5h.9M617.25 928.25h.9M617.25 937.5h.9M617.25 955.5h.9M617.25 956h.9M617.25 971.75h.9M617.25 995.5h.9M617.25 1010.75h.9M617.5 902.5h.9M617.5 905h.9M617.5 908.75h.9M617.5 909h.9M617.5 909.25h.9M617.5 911.25h.9M617.5 912.25h.9M617.5 913.5h.9M617.5 915.5h.9M617.5 916.75h.9M617.5 917.25h.9M617.5 918.25h.9M617.5 919.75h.9M617.5 921h.9M617.5 922.25h.9M617.5 922.5h.9M617.5 926.5h.9M617.5 1010h.9M617.5 1010.5h.9M617.5 1012.75h.9M617.75 903.25h.9M617.75 908h.9M617.75 908.75h.9M617.75 910.75h.9M617.75 912.5h.9M617.75 912.75h.9M617.75 914.25h.9M617.75 914.5h.9M617.75 915h.9M617.75 915.25h.9M617.75 915.5h.9M617.75 917h.9M617.75 917.5h.9M617.75 918.25h.9M617.75 919.25h.9M617.75 919.5h.9M617.75 923.25h.9M617.75 932.25h.9M617.75 998.75h.9M618 901.25h.9M618 906h.9M618 906.5h.9M618 907.5h.9M618 908h.9M618 909h.9M618 909.25h.9M618 911.25h.9M618 911.5h.9M618 913h.9M618 913.25h.9M618 913.75h.9M618 915.25h.9M618 915.5h.9M618 916.5h.9M618 918.5h.9M618 918.75h.9M618 919.25h.9M618 919.5h.9M618 921.25h.9M618 1007h.9M618 1010.5h.9M618.25 904.25h.9M618.25 905.25h.9M618.25 905.75h.9M618.25 908h.9M618.25 910.75h.9M618.25 911.75h.9M618.25 912.25h.9M618.25 915h.9M618.25 915.5h.9M618.25 916h.9M618.25 916.5h.9M618.25 919h.9M618.25 919.75h.9M618.25 921.5h.9M618.25 921.75h.9M618.25 922.25h.9M618.25 922.5h.9M618.25 922.75h.9M618.25 923h.9M618.25 923.75h.9M618.25 925.75h.9M618.25 1002h.9M618.25 1002.5h.9M618.5 905.25h.9M618.5 907.5h.9M618.5 909h.9M618.5 909.5h.9M618.5 910.25h.9M618.5 911h.9M618.5 911.25h.9M618.5 912h.9M618.5 913.25h.9M618.5 914h.9M618.5 914.25h.9M618.5 915.25h.9M618.5 916.5h.9M618.5 917.25h.9M618.5 917.75h.9M618.5 920.5h.9M618.5 922h.9M618.5 922.25h.9M618.5 923.5h.9M618.5 927.5h.9M618.5 928.5h.9M618.5 997.5h.9M618.5 1009.5h.9M618.75 907.5h.9M618.75 907.75h.9M618.75 910.75h.9M618.75 911.75h.9M618.75 913.25h.9M618.75 913.5h.9M618.75 914.25h.9M618.75 914.75h.9M618.75 917h.9M618.75 917.25h.9M618.75 918h.9M618.75 918.75h.9M618.75 920h.9M618.75 920.25h.9M618.75 922.25h.9M618.75 923.25h.9M618.75 924h.9M618.75 925.25h.9M618.75 930h.9M618.75 988.75h.9M618.75 1005.5h.9M618.75 1007h.9M618.75 1011.25h.9M619 898.25h.9M619 906.75h.9M619 908.25h.9M619 910h.9M619 911.25h.9M619 912h.9M619 913.25h.9M619 915h.9M619 915.5h.9M619 916.5h.9M619 917.5h.9M619 918h.9M619 918.5h.9M619 919.25h.9M619 920.5h.9M619 921.5h.9M619 922.75h.9M619 923h.9M619 925.75h.9M619 926.25h.9M619 984h.9M619 1002h.9M619 1003.25h.9M619 1003.75h.9M619.25 906.25h.9M619.25 907.5h.9M619.25 912.25h.9M619.25 913h.9M619.25 914.25h.9M619.25 915.75h.9M619.25 919h.9M619.25 919.5h.9M619.25 922h.9M619.25 923h.9M619.25 923.25h.9M619.25 923.5h.9M619.25 934.5h.9M619.25 947.5h.9M619.25 999.25h.9M619.25 1014.25h.9M619.25 1016h.9M619.5 906h.9M619.5 907.75h.9M619.5 908.25h.9M619.5 909.75h.9M619.5 910.75h.9M619.5 913.25h.9M619.5 913.5h.9M619.5 915.5h.9M619.5 915.75h.9M619.5 916h.9M619.5 916.5h.9M619.5 917h.9M619.5 917.25h.9M619.5 917.75h.9M619.5 918.75h.9M619.5 921h.9M619.5 921.75h.9M619.5 925.5h.9M619.5 1002.5h.9M619.5 1004h.9M619.5 1013.25h.9M619.75 901.25h.9M619.75 902h.9M619.75 902.5h.9M619.75 907h.9M619.75 909.25h.9M619.75 910h.9M619.75 912.25h.9M619.75 912.75h.9M619.75 913h.9M619.75 914h.9M619.75 915.75h.9M619.75 917h.9M619.75 917.75h.9M619.75 918h.9M619.75 918.5h.9M619.75 931h.9M619.75 941.25h.9M619.75 988.75h.9M619.75 1011h.9M620 898h.9M620 898.75h.9M620 903h.9M620 905.25h.9M620 909.5h.9M620 910.5h.9M620 911h.9M620 911.5h.9M620 911.75h.9M620 913.25h.9M620 914.25h.9M620 914.5h.9M620 915.25h.9M620 915.75h.9M620 917h.9M620 918.75h.9M620 919h.9M620 921h.9M620 922.25h.9M620 922.5h.9M620 923h.9M620 924h.9M620 924.75h.9M620 925.75h.9M620 941.5h.9M620 980h.9M620 994.5h.9M620.25 905.25h.9M620.25 907.5h.9M620.25 908h.9M620.25 908.5h.9M620.25 909.75h.9M620.25 910.25h.9M620.25 912.25h.9M620.25 912.75h.9M620.25 913.25h.9M620.25 913.5h.9M620.25 913.75h.9M620.25 914h.9M620.25 915h.9M620.25 915.5h.9M620.25 915.75h.9M620.25 916.75h.9M620.25 918.25h.9M620.25 918.75h.9M620.25 919h.9M620.25 919.5h.9M620.25 920.5h.9M620.25 920.75h.9M620.25 921h.9M620.25 922.75h.9M620.25 923.5h.9M620.25 930h.9M620.25 945h.9M620.25 1006.25h.9M620.5 899.25h.9M620.5 901.75h.9M620.5 906.5h.9M620.5 909h.9M620.5 910.25h.9M620.5 912.5h.9M620.5 914.25h.9M620.5 915.25h.9M620.5 916.25h.9M620.5 917h.9M620.5 917.25h.9M620.5 917.5h.9M620.5 918h.9M620.5 918.25h.9M620.5 918.75h.9M620.5 919.75h.9M620.5 920h.9M620.5 920.25h.9M620.5 920.75h.9M620.5 921h.9M620.5 922.75h.9M620.5 923.25h.9M620.5 927.75h.9M620.5 951.25h.9M620.5 996.75h.9M620.5 1000h.9M620.5 1007.5h.9M620.75 906.75h.9M620.75 907h.9M620.75 912.75h.9M620.75 913.5h.9M620.75 916.25h.9M620.75 916.5h.9M620.75 917h.9M620.75 918.75h.9M620.75 920.5h.9M620.75 923.75h.9M620.75 925.75h.9M620.75 999.5h.9M620.75 1006.25h.9M621 904.25h.9M621 906.5h.9M621 917.5h.9M621 919.25h.9M621 920.25h.9M621 921.25h.9M621 921.5h.9M621 922h.9M621 928h.9M621 967.5h.9M621 981.75h.9M621 1007.75h.9M621.25 904.75h.9M621.25 908.25h.9M621.25 910.75h.9M621.25 911.25h.9M621.25 912.75h.9M621.25 913.5h.9M621.25 914h.9M621.25 914.75h.9M621.25 915.5h.9M621.25 918h.9M621.25 918.25h.9M621.25 918.5h.9M621.25 919.5h.9M621.25 920h.9M621.25 920.5h.9M621.25 929.5h.9M621.25 995.75h.9M621.5 906.75h.9M621.5 907h.9M621.5 910h.9M621.5 910.75h.9M621.5 911.75h.9M621.5 913.25h.9M621.5 914.25h.9M621.5 915.5h.9M621.5 916h.9M621.5 917h.9M621.5 919h.9M621.5 920.25h.9M621.5 921.5h.9M621.5 926.75h.9M621.5 929.5h.9M621.5 931h.9M621.5 971h.9M621.5 1002.25h.9M621.5 1003h.9M621.5 1003.25h.9M621.5 1005.5h.9M621.75 903.25h.9M621.75 906.25h.9M621.75 908.5h.9M621.75 910h.9M621.75 910.25h.9M621.75 910.75h.9M621.75 913.25h.9M621.75 914h.9M621.75 914.5h.9M621.75 915h.9M621.75 915.5h.9M621.75 916h.9M621.75 918h.9M621.75 918.75h.9M621.75 921.5h.9M621.75 922.25h.9M621.75 923.25h.9M621.75 997.5h.9M621.75 1006.5h.9M621.75 1011.75h.9M622 901.5h.9M622 903h.9M622 907h.9M622 911h.9M622 911.5h.9M622 912.5h.9M622 912.75h.9M622 913.5h.9M622 913.75h.9M622 914.25h.9M622 918.25h.9M622 921.25h.9M622 922.25h.9M622 922.5h.9M622 1003.25h.9M622.25 900.75h.9M622.25 908.5h.9M622.25 909h.9M622.25 911h.9M622.25 911.75h.9M622.25 912h.9M622.25 913.25h.9M622.25 913.5h.9M622.25 914h.9M622.25 915.75h.9M622.25 916h.9M622.25 916.25h.9M622.25 916.5h.9M622.25 916.75h.9M622.25 917h.9M622.25 917.5h.9M622.25 920h.9M622.25 920.75h.9M622.25 929.5h.9M622.25 978.25h.9M622.25 1004h.9M622.25 1019.25h.9M622.5 904.25h.9M622.5 906.25h.9M622.5 912.25h.9M622.5 912.75h.9M622.5 913.5h.9M622.5 914h.9M622.5 914.25h.9M622.5 915h.9M622.5 916.5h.9M622.5 917h.9M622.5 917.75h.9M622.5 919h.9M622.5 921.5h.9M622.5 921.75h.9M622.5 923h.9M622.5 923.5h.9M622.5 924.5h.9M622.5 926h.9M622.5 931.25h.9M622.5 1009.5h.9M622.75 907h.9M622.75 909.5h.9M622.75 910.5h.9M622.75 912h.9M622.75 913h.9M622.75 915h.9M622.75 916.5h.9M622.75 917.25h.9M622.75 917.75h.9M622.75 918h.9M622.75 925.25h.9M622.75 926.5h.9M622.75 951.25h.9M622.75 956.5h.9M622.75 969h.9M622.75 1000.5h.9M623 895h.9M623 908h.9M623 908.5h.9M623 909.25h.9M623 909.5h.9M623 911.5h.9M623 912h.9M623 914.5h.9M623 914.75h.9M623 915.75h.9M623 916.25h.9M623 917h.9M623 920h.9M623 921.75h.9M623 925.75h.9M623 927h.9M623 927.25h.9M623 929.5h.9M623 952h.9M623 998.75h.9M623 1012h.9M623 1013.25h.9M623.25 906.75h.9M623.25 908.25h.9M623.25 910.5h.9M623.25 910.75h.9M623.25 911h.9M623.25 912h.9M623.25 912.5h.9M623.25 913.75h.9M623.25 914h.9M623.25 915.25h.9M623.25 917.75h.9M623.25 918.5h.9M623.25 919.75h.9M623.25 920h.9M623.25 922h.9M623.25 923.5h.9M623.25 968h.9M623.5 908.5h.9M623.5 910.25h.9M623.5 910.5h.9M623.5 910.75h.9M623.5 911.5h.9M623.5 914.75h.9M623.5 916.25h.9M623.5 917.25h.9M623.5 920h.9M623.5 921.75h.9M623.5 924h.9M623.5 924.75h.9M623.5 927h.9M623.5 942.75h.9M623.5 946.25h.9M623.75 899.75h.9M623.75 903.5h.9M623.75 907.25h.9M623.75 908.75h.9M623.75 912.5h.9M623.75 913.75h.9M623.75 914h.9M623.75 914.25h.9M623.75 914.5h.9M623.75 915.25h.9M623.75 915.5h.9M623.75 917h.9M623.75 919h.9M623.75 920.5h.9M623.75 921h.9M623.75 924.5h.9M623.75 929.75h.9M623.75 931.75h.9M623.75 1007h.9M623.75 1013.25h.9M624 904.75h.9M624 905h.9M624 907.25h.9M624 909.25h.9M624 910.25h.9M624 912h.9M624 913.75h.9M624 914h.9M624 914.25h.9M624 916h.9M624 916.75h.9M624 918.25h.9M624 920h.9M624 921.5h.9M624 923h.9M624 923.5h.9M624 1006.25h.9M624 1009.5h.9M624 1011.5h.9M624.25 896.75h.9M624.25 908.25h.9M624.25 910.25h.9M624.25 911.75h.9M624.25 912h.9M624.25 913.25h.9M624.25 914.25h.9M624.25 916h.9M624.25 916.25h.9M624.25 919.75h.9M624.25 922.25h.9M624.25 923.25h.9M624.25 972.25h.9M624.25 982h.9M624.25 1008.25h.9M624.25 1049h.9M624.5 902.25h.9M624.5 904h.9M624.5 904.25h.9M624.5 906.75h.9M624.5 908.5h.9M624.5 910.75h.9M624.5 912.5h.9M624.5 917.25h.9M624.5 917.75h.9M624.5 922.75h.9M624.5 925.75h.9M624.5 927.25h.9M624.5 935h.9M624.5 946h.9M624.5 964.25h.9M624.5 1014.25h.9M624.5 1015.75h.9M624.75 908.5h.9M624.75 909h.9M624.75 909.25h.9M624.75 913.75h.9M624.75 914.25h.9M624.75 914.5h.9M624.75 915.5h.9M624.75 919.75h.9M624.75 920h.9M624.75 920.25h.9M624.75 920.75h.9M624.75 921h.9M624.75 921.5h.9M624.75 923h.9M625 900.75h.9M625 904h.9M625 906h.9M625 907.25h.9M625 912.5h.9M625 912.75h.9M625 913h.9M625 913.25h.9M625 914.75h.9M625 915h.9M625 916h.9M625 918.5h.9M625 919h.9M625 920h.9M625 920.25h.9M625 921.5h.9M625 922.25h.9M625 924h.9M625 924.25h.9M625 925.5h.9M625 930h.9M625 1018.75h.9M625.25 901.75h.9M625.25 902.5h.9M625.25 904.75h.9M625.25 908h.9M625.25 908.5h.9M625.25 909.25h.9M625.25 913h.9M625.25 913.25h.9M625.25 913.5h.9M625.25 914h.9M625.25 914.75h.9M625.25 915.25h.9M625.25 923.25h.9M625.25 923.75h.9M625.25 924.25h.9M625.25 925.5h.9M625.25 926.25h.9M625.25 957.25h.9M625.25 997.25h.9M625.25 1019.5h.9M625.5 902.25h.9M625.5 908.5h.9M625.5 909h.9M625.5 912.75h.9M625.5 915.25h.9M625.5 916h.9M625.5 918.5h.9M625.5 920h.9M625.5 920.5h.9M625.5 922.25h.9M625.5 929.5h.9M625.5 930.75h.9M625.75 902.25h.9M625.75 906h.9M625.75 911.5h.9M625.75 912.75h.9M625.75 914.75h.9M625.75 920.5h.9M625.75 926h.9M625.75 928h.9M625.75 950.25h.9M625.75 1010.75h.9M625.75 1015.25h.9M626 911.75h.9M626 915.5h.9M626 916h.9M626 916.5h.9M626 918h.9M626 919h.9M626 920h.9M626 920.25h.9M626 942.75h.9M626 1009.25h.9M626.25 908h.9M626.25 911.75h.9M626.25 912.25h.9M626.25 913.25h.9M626.25 915.5h.9M626.25 915.75h.9M626.25 916.75h.9M626.25 917h.9M626.25 920.5h.9M626.25 920.75h.9M626.25 921.5h.9M626.25 922.25h.9M626.25 933h.9M626.25 997.25h.9M626.25 1003.25h.9M626.25 1005.75h.9M626.25 1014.75h.9M626.5 911.75h.9M626.5 912.5h.9M626.5 915.25h.9M626.5 917.25h.9M626.5 919h.9M626.5 919.75h.9M626.5 920h.9M626.5 920.5h.9M626.5 922.75h.9M626.5 923.5h.9M626.5 925.75h.9M626.5 929.5h.9M626.5 995.5h.9M626.5 1008h.9M626.5 1008.5h.9M626.5 1016.5h.9M626.75 910h.9M626.75 911.5h.9M626.75 911.75h.9M626.75 912h.9M626.75 913h.9M626.75 913.75h.9M626.75 916.75h.9M626.75 919h.9M626.75 919.25h.9M626.75 921.25h.9M626.75 950h.9M626.75 965.5h.9M626.75 978.5h.9M626.75 981.5h.9M626.75 996.25h.9M626.75 1008h.9M626.75 1010.5h.9M627 899.5h.9M627 911.25h.9M627 911.5h.9M627 912.25h.9M627 916.25h.9M627 918.5h.9M627 920.25h.9M627 921h.9M627 921.75h.9M627 925.75h.9M627 926h.9M627 941.75h.9M627 1004h.9M627 1004.25h.9M627 1011.25h.9M627.25 910.75h.9M627.25 912.25h.9M627.25 913.75h.9M627.25 915.25h.9M627.25 918.25h.9M627.25 926.25h.9M627.25 996.5h.9M627.25 1005.5h.9M627.5 896.75h.9M627.5 906.25h.9M627.5 907.75h.9M627.5 914.25h.9M627.5 915h.9M627.5 918.25h.9M627.5 918.75h.9M627.5 919.75h.9M627.5 924.75h.9M627.5 926.25h.9M627.5 929.5h.9M627.5 1010.75h.9M627.75 909h.9M627.75 913h.9M627.75 916.25h.9M627.75 916.5h.9M627.75 917.25h.9M627.75 917.5h.9M627.75 922.25h.9M627.75 926.25h.9M627.75 1017h.9M628 907.5h.9M628 911.25h.9M628 914.25h.9M628 916.75h.9M628 918h.9M628 919.25h.9M628 919.75h.9M628 922.25h.9M628 922.5h.9M628 923.25h.9M628 923.5h.9M628 1001.5h.9M628 1003.75h.9M628.25 908h.9M628.25 910h.9M628.25 913.5h.9M628.25 918h.9M628.25 921.25h.9M628.25 922.75h.9M628.25 923.75h.9M628.25 925.75h.9M628.25 958.75h.9M628.25 1005.75h.9M628.5 909h.9M628.5 913h.9M628.5 913.5h.9M628.5 915.5h.9M628.5 915.75h.9M628.5 916.75h.9M628.5 917h.9M628.5 918h.9M628.5 923h.9M628.5 996h.9M628.5 1009.5h.9M628.75 893.5h.9M628.75 908.5h.9M628.75 911.75h.9M628.75 913.25h.9M628.75 913.75h.9M628.75 916h.9M628.75 916.5h.9M628.75 916.75h.9M628.75 921.75h.9M628.75 927.25h.9M628.75 933h.9M628.75 964h.9M629 906.5h.9M629 910.5h.9M629 911.75h.9M629 912h.9M629 914.75h.9M629 915h.9M629 915.25h.9M629 915.5h.9M629 915.75h.9M629 917h.9M629 918.75h.9M629 919.75h.9M629 920.75h.9M629 921.75h.9M629 922.25h.9M629 973.25h.9M629 973.5h.9M629 1017.5h.9M629.25 917h.9M629.25 917.25h.9M629.25 919h.9M629.25 922h.9M629.25 954.25h.9M629.25 1003.5h.9M629.25 1004h.9M629.5 874.25h.9M629.5 907.5h.9M629.5 916.25h.9M629.5 921.25h.9M629.5 927h.9M629.5 955h.9M629.5 964.75h.9M629.5 971.5h.9M629.5 999.5h.9M629.75 904.5h.9M629.75 908.75h.9M629.75 915.5h.9M629.75 920h.9M629.75 921.75h.9M629.75 922.5h.9M629.75 923h.9M629.75 925.5h.9M629.75 957h.9M629.75 963.25h.9M629.75 993h.9M629.75 1003h.9M629.75 1004.25h.9M630 900.5h.9M630 909.5h.9M630 915.75h.9M630 920.25h.9M630 924.75h.9M630 950.25h.9M630 996.75h.9M630 1000h.9M630 1006.75h.9M630.25 911.25h.9M630.25 926.25h.9M630.25 1009.25h.9M630.5 911.5h.9M630.5 913.5h.9M630.5 919.75h.9M630.5 933h.9M630.75 908.5h.9M630.75 922h.9M631 896.75h.9M631 900.25h.9M631 908h.9M631 914h.9M631 915.75h.9M631 920.5h.9M631 921h.9M631 926.75h.9M631 976.25h.9M631 985h.9M631 1000.75h.9M631 1005h.9M631.25 910.25h.9M631.25 915.25h.9M631.25 917.25h.9M631.25 917.75h.9M631.25 1010.5h.9M631.25 1014h.9M631.25 1018.25h.9M631.5 897.25h.9M631.5 912h.9M631.5 914.75h.9M631.5 919.25h.9M631.5 919.5h.9M631.5 947.25h.9M631.5 962.5h.9M631.5 1002.25h.9M631.5 1012.5h.9M631.75 917.5h.9M631.75 918.25h.9M631.75 929.5h.9M631.75 963.5h.9M631.75 970h.9M631.75 991.25h.9M632 889.25h.9M632 904.25h.9M632 918h.9M632 951h.9M632 1008.25h.9M632 1013.5h.9M632.25 908.75h.9M632.25 912h.9M632.25 924h.9M632.25 1020.25h.9M632.5 892.25h.9M632.5 916.5h.9M632.5 916.75h.9M632.5 920.5h.9M632.5 1004.25h.9M632.75 892.5h.9M632.75 912h.9M632.75 915.75h.9M632.75 918h.9M632.75 922h.9M632.75 923.25h.9M632.75 928.75h.9M632.75 997h.9M632.75 1007.25h.9M633 893h.9M633 908.5h.9M633 914h.9M633 917.25h.9M633 918h.9M633 920h.9M633 953h.9M633 991.25h.9M633 1003.25h.9M633 1017.75h.9M633.25 908.75h.9M633.25 910.25h.9M633.25 913.75h.9M633.25 930h.9M633.25 959.75h.9M633.25 1015.5h.9M633.5 909.25h.9M633.5 910h.9M633.5 911.75h.9M633.5 916.75h.9M633.5 918.5h.9M633.5 919.75h.9M633.5 1003.75h.9M633.75 915.75h.9M633.75 923h.9M633.75 940.25h.9M633.75 1000.75h.9M634 909.75h.9M634 911.5h.9M634 911.75h.9M634 912.5h.9M634 915.75h.9M634 918.5h.9M634 918.75h.9M634 928h.9M634 987h.9M634 1006.5h.9M634 1011.75h.9M634 1012.5h.9M634.25 912.5h.9M634.25 924h.9M634.25 1001.75h.9M634.25 1007h.9M634.25 1008.75h.9M634.25 1021.75h.9M634.5 908.5h.9M634.5 922h.9M634.5 957.75h.9M634.5 1002.25h.9M634.5 1003.25h.9M634.75 917.25h.9M634.75 930.75h.9M634.75 945.25h.9M635 915.75h.9M635 1002h.9M635 1010h.9M635 1010.25h.9M635.25 904.75h.9M635.25 926.25h.9M635.25 982.5h.9M635.5 914.5h.9M635.5 918.75h.9M635.5 972.5h.9M635.5 1002.5h.9M635.75 897h.9M635.75 908.25h.9M635.75 910.75h.9M636 938h.9M636 1005.5h.9M636.25 909.25h.9M636.25 922.25h.9M636.25 925.5h.9M636.25 934.75h.9M636.25 1002h.9M636.75 909.25h.9M636.75 910h.9M636.75 935h.9M636.75 948.5h.9M637 899.5h.9M637 921h.9M637 929.25h.9M637 1008.25h.9M637.25 913h.9M637.25 941h.9M637.25 986.25h.9M637.5 912.25h.9M637.5 921.25h.9M637.5 927.25h.9M637.5 979.5h.9M637.5 1007.25h.9M637.5 1015.25h.9M637.75 926.75h.9M637.75 947.75h.9M637.75 1013h.9M638 914.25h.9M638 986.5h.9M638 1006h.9M638.25 902.75h.9M638.25 909.5h.9M638.25 912.25h.9M638.25 927.25h.9M638.25 1007h.9M638.25 1014h.9M638.5 930.25h.9M638.5 951.25h.9M638.5 962.75h.9M638.5 988h.9M638.5 996.75h.9M638.5 1006.5h.9M638.75 887.25h.9M638.75 953.75h.9M638.75 989.75h.9M639 923.25h.9M639 937h.9M639 939.5h.9M639 950h.9M639 1001.75h.9M639 1006.75h.9M639 1018h.9M639.25 914.75h.9M639.25 985.75h.9M639.5 916.75h.9M639.5 920.5h.9M639.5 924.25h.9M639.5 937.5h.9M639.5 997h.9M639.75 920.25h.9M639.75 920.5h.9M639.75 923h.9M639.75 987.75h.9M640 894h.9M640 901h.9M640 915h.9M640 1007.75h.9M640 1017.5h.9M640.25 890.25h.9M640.25 911.75h.9M640.25 971h.9M640.25 991.25h.9M640.5 1009.75h.9M640.75 902.75h.9M640.75 988h.9M641 931.75h.9M641 1009.5h.9M641.25 925.25h.9M641.25 955h.9M641.25 1006h.9M641.5 902.25h.9M641.5 907.25h.9M641.5 917h.9M641.5 985.25h.9M641.5 1009.75h.9M641.75 908.25h.9M641.75 912.5h.9M641.75 915.5h.9M641.75 921h.9M642 906.5h.9M642 919.25h.9M642 973h.9M642.25 899.75h.9M642.25 999.75h.9M642.25 1008.75h.9M642.5 922.5h.9M642.5 1016h.9M642.75 915.75h.9M642.75 916.5h.9M642.75 917h.9M642.75 964h.9M643 917.5h.9M643 962.25h.9M643 968h.9M643 994.5h.9M643.25 914.25h.9M643.25 920h.9M643.25 920.25h.9M643.25 1011.25h.9M643.5 918.75h.9M643.5 924.75h.9M643.75 913.75h.9M643.75 1004h.9M644 894.25h.9M644 915.75h.9M644 945.75h.9M644 979h.9M644.25 924.5h.9M644.5 901.25h.9M644.5 907.25h.9M644.5 917h.9M644.5 917.5h.9M644.5 930.75h.9M644.5 964.5h.9M644.75 915.5h.9M644.75 928h.9M645 922.25h.9M645.25 920h.9M645.5 909.5h.9M645.5 916.25h.9M645.5 917.75h.9M645.5 920.5h.9M645.5 922.25h.9M645.5 971h.9M645.5 992.75h.9M645.5 999.5h.9M645.5 1008.25h.9M646 904h.9M646 905h.9M646 915.25h.9M646.25 923.25h.9M646.25 991.5h.9M646.5 916.25h.9M646.5 955.5h.9M646.5 1013.25h.9M646.75 915h.9M646.75 917h.9M646.75 924h.9M647 915h.9M647 918h.9M647 922.25h.9M647 939.25h.9M647 956.75h.9M647.5 928h.9M647.5 1010h.9M648.25 912.5h.9M648.25 1006.75h.9M648.5 958.5h.9M648.5 1009.5h.9M648.75 991.75h.9M648.75 1015.25h.9M649 979h.9M649 1004h.9M649.25 906.25h.9M649.5 928.75h.9M649.5 945h.9M649.75 901.5h.9M649.75 988.5h.9M650 903.5h.9M650 935h.9M650 981.75h.9M650.25 904.25h.9M650.25 974.25h.9M650.25 993.25h.9M650.5 984.5h.9M650.5 985.75h.9M650.75 911.5h.9M650.75 1017.5h.9M650.75 1019.5h.9M651.25 907.25h.9M651.25 982.5h.9M651.25 996.5h.9M651.5 981.5h.9M651.5 985.75h.9M651.5 995.75h.9M651.5 1012.25h.9M651.75 913.75h.9M651.75 923.25h.9M651.75 1001.25h.9M652 893.5h.9M652 993.25h.9M652.25 916.5h.9M652.25 971.5h.9M652.25 1016.5h.9M652.5 919.5h.9M652.75 908h.9M652.75 916.75h.9M652.75 985h.9M653 1000.75h.9M653.25 935h.9M653.25 993.25h.9M653.25 1010.25h.9M653.5 896.75h.9M653.75 921.5h.9M653.75 942.5h.9M654 921.25h.9M654 1006.25h.9M654 1013.75h.9M654.25 994h.9M654.25 994.75h.9M654.5 983.5h.9M654.75 954h.9M654.75 981.25h.9M654.75 982.25h.9M654.75 1019h.9M655 885.75h.9M655 974h.9M655.25 974.25h.9M655.5 960h.9M655.5 965.25h.9M655.5 986h.9M655.5 1012.5h.9M655.5 1019.25h.9M655.75 920h.9M655.75 943.75h.9M655.75 1016.25h.9M656 897.5h.9M656 910.75h.9M656 919.25h.9M656 922.75h.9M656 960.25h.9M656.25 1019.5h.9M656.5 913.25h.9M656.75 904h.9M656.75 965h.9M656.75 1010.75h.9M656.75 1011h.9M657 932.75h.9M657 966h.9M657.5 912h.9M657.5 988h.9M657.5 993.25h.9M657.5 1016.5h.9M657.75 1017.25h.9M658 922.5h.9M658 941.5h.9M658 969.75h.9M658 985h.9M658.5 980.5h.9M658.5 1017.75h.9M658.75 950.75h.9M659 1015.25h.9M659 1015.5h.9M659.25 999.25h.9M659.5 1017.75h.9M659.75 926.25h.9M659.75 948.25h.9M659.75 1014.75h.9M660 906.5h.9M660 1010h.9M660.25 890h.9M660.25 941.25h.9M660.5 924.5h.9M660.75 906.25h.9M660.75 953.5h.9M660.75 974.75h.9M660.75 1014h.9M661 952.75h.9M661.25 1011h.9M661.75 997h.9M662 1001.5h.9M662.25 989h.9M662.25 1007.75h.9M662.75 910h.9M663 914h.9M663.5 1015.25h.9M663.75 909.5h.9M664 945.75h.9M664 994.5h.9M664.25 923.75h.9M664.25 980.75h.9M664.25 1003.5h.9M664.25 1010.25h.9M664.25 1016.25h.9M664.5 917.25h.9M664.5 964h.9M664.5 995.5h.9M664.5 1011.75h.9M665 981.5h.9M665 1007.25h.9M665 1010.5h.9M665.25 947.25h.9M665.25 1010.25h.9M665.5 1001.75h.9M665.5 1004.5h.9M665.5 1016.75h.9M665.75 1002.5h.9M666 1013h.9M666.5 979.5h.9M666.5 995.25h.9M666.75 901.75h.9M666.75 930.25h.9M666.75 964.75h.9M667 936.25h.9M667 993.25h.9M667 1015h.9M667.25 909.75h.9M667.25 917h.9M667.5 912.5h.9M667.5 919.5h.9M667.75 921.75h.9M667.75 1020.25h.9M668 946.25h.9M668 1000.25h.9M668.25 910h.9M668.25 986.25h.9M668.25 1017.25h.9M668.5 912.25h.9M668.5 926.5h.9M668.5 993.75h.9M668.75 944.5h.9M668.75 947.25h.9M669 1016.5h.9M669.25 906.75h.9M669.25 910.5h.9M669.75 915.75h.9M670 1021.25h.9M670.75 1020.75h.9M671 1021h.9M671.75 907.5h.9M671.75 919.75h.9M672 911.75h.9M672.25 907.75h.9M672.25 925.75h.9M672.75 911.25h.9M673.5 905h.9M673.5 916.5h.9M673.5 919.75h.9M673.75 914.25h.9M673.75 915.25h.9M674 921.5h.9M674.25 918.5h.9M674.5 913.25h.9M674.75 913h.9M674.75 1013.5h.9M675 948.5h.9M675.5 912h.9M675.5 912.75h.9M675.75 904.5h.9M675.75 1010h.9M676 1022.75h.9M677.75 1006.5h.9M678 975.5h.9M678.25 904h.9M678.25 907.5h.9M678.5 907.5h.9M678.75 905.75h.9M678.75 917.75h.9M679 912.75h.9M679 918h.9M679 918.5h.9M679 926.75h.9M679.25 908.75h.9M679.25 909.75h.9M679.25 911h.9M679.25 912h.9M679.25 912.5h.9M679.25 916h.9M679.25 977.5h.9M679.25 1052.75h.9" stroke="#000" stroke-width="0.9" fill="none"/>
<circle cx="539.4" cy="1012.1" r="21.2" fill="none" stroke="#1f3fd8" stroke-width="2.1"/>
<circle cx="625.2" cy="1004.6" r="21.3" fill="none" stroke="#e2351f" stroke-width="2.1"/>
<circle cx="623.4" cy="917.1" r="21.3" fill="none" stroke="#b0b0b0" stroke-width="2.1"/>
</g>
<!-- ===== Panel C hist2 ===== -->
<g id="hist2">
<rect x="83.7" y="1124.2" width="232.0" height="231.0" fill="#fff" stroke="#1a1a1a" stroke-width="1.2"/>
<path d="M83.70,1355.2 v6.6 M92.47,1355.2 v3.2 M101.24,1355.2 v3.2 M110.01,1355.2 v3.2 M118.78,1355.2 v3.2 M127.55,1355.2 v6.6 M136.32,1355.2 v3.2 M145.09,1355.2 v3.2 M153.86,1355.2 v3.2 M162.63,1355.2 v3.2 M171.40,1355.2 v6.6 M180.17,1355.2 v3.2 M188.94,1355.2 v3.2 M197.71,1355.2 v3.2 M206.48,1355.2 v3.2 M215.25,1355.2 v6.6 M224.02,1355.2 v3.2 M232.79,1355.2 v3.2 M241.56,1355.2 v3.2 M250.33,1355.2 v3.2 M259.10,1355.2 v6.6 M267.87,1355.2 v3.2 M276.64,1355.2 v3.2 M285.41,1355.2 v3.2 M294.18,1355.2 v3.2 M302.95,1355.2 v6.6 M311.72,1355.2 v3.2 M83.7,1355.20 h-6.8" stroke="#1a1a1a" stroke-width="1.1" fill="none"/>
<text x="83.3" y="1378.5" font-size="10.6" fill="#3a3a3a" textLength="5.9" lengthAdjust="spacing">0</text>
<text x="114.7" y="1378.5" font-size="10.6" fill="#3a3a3a" textLength="19.4" lengthAdjust="spacing">50K</text>
<text x="155.4" y="1378.5" font-size="10.6" fill="#3a3a3a" textLength="25.6" lengthAdjust="spacing">100K</text>
<text x="199.2" y="1378.5" font-size="10.6" fill="#3a3a3a" textLength="25.6" lengthAdjust="spacing">150K</text>
<text x="243.1" y="1378.5" font-size="10.6" fill="#3a3a3a" textLength="25.6" lengthAdjust="spacing">200K</text>
<text x="286.9" y="1378.5" font-size="10.6" fill="#3a3a3a" textLength="25.6" lengthAdjust="spacing">250K</text>
<text x="73.2" y="1355.4" font-size="10.8" fill="#3a3a3a" text-anchor="end">0</text>
<text x="194.2" y="1390.6" font-size="13.2" fill="#0a0a0a" text-anchor="middle">DNA</text>
<text transform="translate(48.2,1261.7) rotate(-90)" font-size="12.6" fill="#111" textLength="43.8" lengthAdjust="spacingAndGlyphs">Counts</text>
<path d="M232.4,1354.1 L233.6,1349.2 L234.7,1335.2 L235.6,1314.2 L236.4,1289.7 L237.3,1263.4 L238.2,1237.1 L239.1,1212.6 L239.9,1193.3 L241.0,1177.6 L242.0,1167.0 L243.1,1159.2 L244.1,1153.9 L245.2,1151.3 L246.2,1153.0 L247.3,1159.2 L248.4,1167.0 L249.4,1171.4 L250.5,1174.1 L251.5,1179.3 L252.6,1195.1 L253.6,1207.3 L254.7,1212.6 L255.7,1216.1 L256.8,1223.1 L257.8,1231.9 L259.6,1247.6 L261.3,1265.1 L263.1,1280.9 L264.8,1293.2 L266.6,1303.7 L268.3,1314.2 L270.1,1324.7 L271.8,1335.2 L273.6,1344.0 L275.3,1350.1 L277.1,1353.6 L278.8,1354.5" fill="none" stroke="#a8a8a8" stroke-width="1.1" stroke-linejoin="round"/>
<path d="M226.3,1354.1 L228.0,1351.0 L229.8,1344.9 L231.5,1333.5 L233.3,1315.9 L235.0,1293.2 L236.4,1272.2 L237.7,1251.1 L238.9,1231.9 L240.3,1214.3 L241.7,1200.3 L243.1,1193.3 L244.5,1189.8 L245.9,1184.6 L247.3,1175.8 L248.7,1165.3 L250.1,1155.7 L251.5,1149.5 L252.9,1146.4 L254.0,1147.8 L255.0,1152.2 L256.1,1158.3 L257.1,1168.8 L258.2,1181.1 L259.2,1193.3 L260.3,1203.8 L261.3,1212.6 L262.4,1215.7 L263.4,1217.8 L264.5,1223.1 L265.5,1233.6 L266.6,1245.9 L267.6,1258.1 L268.7,1270.4 L270.1,1284.4 L271.8,1300.2 L273.6,1314.2 L275.3,1324.7 L277.1,1333.5 L278.8,1340.5 L280.6,1345.7 L282.3,1349.2 L285.0,1352.4 L287.6,1353.8 L291.1,1354.5" fill="none" stroke="#f0241c" stroke-width="1.3" stroke-linejoin="round"/>
<text x="96.6" y="1154.4" font-size="22.8" fill="#111" textLength="45.8" lengthAdjust="spacingAndGlyphs">Pre-</text>
<text x="96" y="1185.5" font-size="24.6" fill="#111" textLength="44" lengthAdjust="spacingAndGlyphs">sort</text>
<path d="M83.9,1347.7 L84.8,1347.0 L86.1,1347.8 L87.5,1350.2 L89.1,1353.0 L91.1,1354.2 L99.3,1354.4 L119.3,1354.4 L139.3,1354.3 L144.6,1354.1 L149.8,1353.3 L153.8,1350.7 L156.4,1344.6 L158.2,1335.4 L159.8,1322.3 L161.4,1303.9 L162.9,1277.6 L164.3,1248.7 L165.6,1211.9 L166.9,1177.8 L168.2,1156.7 L169.5,1142.3 L170.8,1138.3 L172.7,1138.3 L174.0,1141.0 L175.3,1147.5 L176.6,1155.4 L177.7,1164.6 L178.7,1175.1 L179.8,1185.6 L180.8,1196.1 L181.9,1206.7 L182.9,1215.9 L184.0,1225.1 L185.0,1232.9 L186.1,1232.4 L186.9,1231.6 L187.7,1236.9 L188.7,1243.4 L189.8,1247.4 L191.1,1250.8 L192.4,1253.2 L194.0,1254.0 L195.0,1255.8 L196.1,1259.7 L197.1,1263.2 L198.4,1267.1 L199.7,1269.7 L201.8,1270.3 L203.9,1269.7 L205.5,1267.9 L206.6,1269.2 L207.6,1272.4 L208.9,1276.3 L210.2,1278.4 L211.6,1280.2 L212.9,1282.3 L214.5,1282.9 L215.5,1280.8 L216.6,1279.7 L217.6,1281.6 L218.7,1285.0 L220.2,1288.1 L222.1,1289.2 L223.9,1289.7 L225.5,1289.4 L226.8,1286.0 L228.1,1282.9 L229.7,1280.2 L231.3,1279.4 L232.6,1276.3 L233.9,1273.7 L235.5,1271.0 L237.1,1268.4 L238.4,1265.0 L239.7,1263.7 L241.3,1263.2 L242.6,1262.4 L243.9,1259.2 L245.2,1256.6 L246.2,1257.9 L247.6,1261.3 L248.9,1264.5 L250.2,1267.6 L251.8,1269.7 L252.8,1273.7 L253.9,1278.9 L254.9,1282.9 L256.2,1287.6 L257.5,1291.3 L259.1,1296.0 L260.7,1301.3 L262.3,1306.5 L263.9,1311.8 L265.4,1316.5 L267.0,1321.0 L268.6,1324.9 L270.2,1328.8 L271.7,1332.8 L273.3,1336.2 L274.9,1339.4 L276.5,1342.0 L278.6,1344.6 L281.2,1346.7 L283.8,1348.6 L286.5,1350.1 L289.6,1351.4 L293.0,1352.2 L297.0,1352.8 L300.9,1353.3 L304.8,1353.6 L308.8,1353.3 L311.4,1352.2 L313.3,1349.9 L314.8,1347.2" fill="none" stroke="#161616" stroke-width="1.5" stroke-linejoin="round"/>
</g>
<!-- ===== dashed connector lines ===== -->
<g stroke="#0a0a0a" stroke-width="2.2" stroke-dasharray="12.7 7.3" fill="none">
  <line x1="509.6" y1="760.2" x2="603.8" y2="1009.5"/>
  <line x1="680.4" y1="757" x2="647.6" y2="1008.6"/>
</g>

</svg>
</body></html>
